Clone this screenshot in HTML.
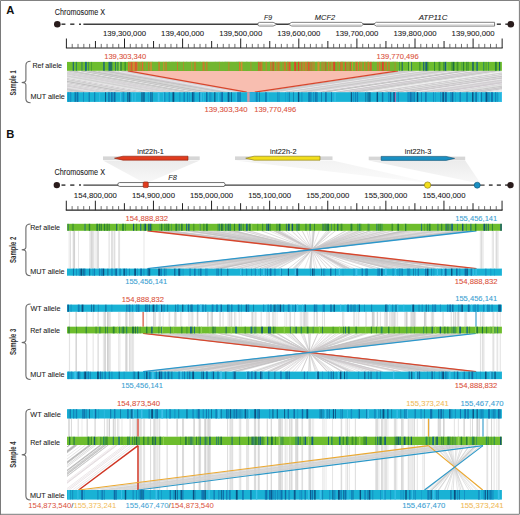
<!DOCTYPE html><html><head><meta charset="utf-8"><style>html,body{margin:0;padding:0;background:#fff}svg{display:block}text{font-family:"Liberation Sans",sans-serif}</style></head><body>
<svg width="520" height="515" viewBox="0 0 520 515">
<rect width="520" height="515" fill="#fff"/>
<text x="6.3" y="13.8" font-size="11.2" fill="#111" text-anchor="start" font-weight="bold" font-style="normal">A</text>
<text x="54.8" y="14.6" font-size="8.3" fill="#222" text-anchor="start" font-weight="normal" font-style="normal" textLength="50.3" lengthAdjust="spacingAndGlyphs" stroke="#222" stroke-width="0.08">Chromosome X</text>
<circle cx="57.3" cy="24.2" r="3.3" fill="#2a1c1c"/>
<line x1="61.50" y1="24.20" x2="65.40" y2="24.20" stroke="#3a3a3a" stroke-width="1.5"/>
<line x1="70.20" y1="24.20" x2="74.40" y2="24.20" stroke="#3a3a3a" stroke-width="1.5"/>
<line x1="79.00" y1="24.20" x2="81.00" y2="24.20" stroke="#3a3a3a" stroke-width="1.5"/>
<line x1="83.40" y1="24.20" x2="494.70" y2="24.20" stroke="#3f3f3f" stroke-width="1.4"/>
<line x1="496.80" y1="24.20" x2="500.90" y2="24.20" stroke="#3a3a3a" stroke-width="1.5"/>
<line x1="505.30" y1="24.20" x2="508.00" y2="24.20" stroke="#3a3a3a" stroke-width="1.5"/>
<circle cx="510.8" cy="24.2" r="3.3" fill="#2a1c1c"/>
<path d="M259.65,22.35 L273.10,22.35 L277.10,24.20 L273.10,26.05 L259.65,26.05 A1.85,1.85 0 0 1 259.65,22.35 Z" fill="#fff" stroke="#555" stroke-width="0.75"/>
<line x1="259.65" y1="24.70" x2="273.10" y2="24.70" stroke="#d0d0d0" stroke-width="0.7"/>
<path d="M288.30,24.20 L291.80,22.35 L361.30,22.35 L363.50,24.20 L361.30,26.05 L291.80,26.05 Z" fill="#fff" stroke="#555" stroke-width="0.75"/>
<line x1="291.80" y1="24.70" x2="361.30" y2="24.70" stroke="#d0d0d0" stroke-width="0.7"/>
<path d="M373.50,24.20 L376.30,22.30 L494.60,22.30 L494.60,26.10 L376.30,26.10 Z" fill="#fff" stroke="#555" stroke-width="0.75"/>
<line x1="376.30" y1="24.70" x2="493.60" y2="24.70" stroke="#d0d0d0" stroke-width="0.7"/>
<text x="268" y="19.7" font-size="7.9" fill="#222" text-anchor="middle" font-weight="normal" font-style="italic" textLength="8.1" lengthAdjust="spacingAndGlyphs" stroke="#222" stroke-width="0.08">F9</text>
<text x="325" y="19.8" font-size="7.9" fill="#222" text-anchor="middle" font-weight="normal" font-style="italic" textLength="20.4" lengthAdjust="spacingAndGlyphs" stroke="#222" stroke-width="0.08">MCF2</text>
<text x="433.1" y="19.7" font-size="7.9" fill="#222" text-anchor="middle" font-weight="normal" font-style="italic" textLength="28.9" lengthAdjust="spacingAndGlyphs" stroke="#222" stroke-width="0.08">ATP11C</text>
<line x1="65.90" y1="48.00" x2="502.65" y2="48.00" stroke="#222" stroke-width="1.2"/>
<line x1="66.40" y1="38.50" x2="66.40" y2="48.00" stroke="#222" stroke-width="1.0"/>
<line x1="72.21" y1="43.90" x2="72.21" y2="48.00" stroke="#555" stroke-width="0.85"/>
<line x1="78.02" y1="43.90" x2="78.02" y2="48.00" stroke="#555" stroke-width="0.85"/>
<line x1="83.83" y1="43.90" x2="83.83" y2="48.00" stroke="#555" stroke-width="0.85"/>
<line x1="89.64" y1="43.90" x2="89.64" y2="48.00" stroke="#555" stroke-width="0.85"/>
<line x1="95.45" y1="41.00" x2="95.45" y2="48.00" stroke="#222" stroke-width="1.0"/>
<line x1="101.26" y1="43.90" x2="101.26" y2="48.00" stroke="#555" stroke-width="0.85"/>
<line x1="107.07" y1="43.90" x2="107.07" y2="48.00" stroke="#555" stroke-width="0.85"/>
<line x1="112.88" y1="43.90" x2="112.88" y2="48.00" stroke="#555" stroke-width="0.85"/>
<line x1="118.69" y1="43.90" x2="118.69" y2="48.00" stroke="#555" stroke-width="0.85"/>
<line x1="124.50" y1="38.50" x2="124.50" y2="48.00" stroke="#222" stroke-width="1.0"/>
<line x1="130.31" y1="43.90" x2="130.31" y2="48.00" stroke="#555" stroke-width="0.85"/>
<line x1="136.12" y1="43.90" x2="136.12" y2="48.00" stroke="#555" stroke-width="0.85"/>
<line x1="141.93" y1="43.90" x2="141.93" y2="48.00" stroke="#555" stroke-width="0.85"/>
<line x1="147.74" y1="43.90" x2="147.74" y2="48.00" stroke="#555" stroke-width="0.85"/>
<line x1="153.55" y1="41.00" x2="153.55" y2="48.00" stroke="#222" stroke-width="1.0"/>
<line x1="159.36" y1="43.90" x2="159.36" y2="48.00" stroke="#555" stroke-width="0.85"/>
<line x1="165.17" y1="43.90" x2="165.17" y2="48.00" stroke="#555" stroke-width="0.85"/>
<line x1="170.98" y1="43.90" x2="170.98" y2="48.00" stroke="#555" stroke-width="0.85"/>
<line x1="176.79" y1="43.90" x2="176.79" y2="48.00" stroke="#555" stroke-width="0.85"/>
<line x1="182.60" y1="38.50" x2="182.60" y2="48.00" stroke="#222" stroke-width="1.0"/>
<line x1="188.41" y1="43.90" x2="188.41" y2="48.00" stroke="#555" stroke-width="0.85"/>
<line x1="194.22" y1="43.90" x2="194.22" y2="48.00" stroke="#555" stroke-width="0.85"/>
<line x1="200.03" y1="43.90" x2="200.03" y2="48.00" stroke="#555" stroke-width="0.85"/>
<line x1="205.84" y1="43.90" x2="205.84" y2="48.00" stroke="#555" stroke-width="0.85"/>
<line x1="211.65" y1="41.00" x2="211.65" y2="48.00" stroke="#222" stroke-width="1.0"/>
<line x1="217.46" y1="43.90" x2="217.46" y2="48.00" stroke="#555" stroke-width="0.85"/>
<line x1="223.27" y1="43.90" x2="223.27" y2="48.00" stroke="#555" stroke-width="0.85"/>
<line x1="229.08" y1="43.90" x2="229.08" y2="48.00" stroke="#555" stroke-width="0.85"/>
<line x1="234.89" y1="43.90" x2="234.89" y2="48.00" stroke="#555" stroke-width="0.85"/>
<line x1="240.70" y1="38.50" x2="240.70" y2="48.00" stroke="#222" stroke-width="1.0"/>
<line x1="246.51" y1="43.90" x2="246.51" y2="48.00" stroke="#555" stroke-width="0.85"/>
<line x1="252.32" y1="43.90" x2="252.32" y2="48.00" stroke="#555" stroke-width="0.85"/>
<line x1="258.13" y1="43.90" x2="258.13" y2="48.00" stroke="#555" stroke-width="0.85"/>
<line x1="263.94" y1="43.90" x2="263.94" y2="48.00" stroke="#555" stroke-width="0.85"/>
<line x1="269.75" y1="41.00" x2="269.75" y2="48.00" stroke="#222" stroke-width="1.0"/>
<line x1="275.56" y1="43.90" x2="275.56" y2="48.00" stroke="#555" stroke-width="0.85"/>
<line x1="281.37" y1="43.90" x2="281.37" y2="48.00" stroke="#555" stroke-width="0.85"/>
<line x1="287.18" y1="43.90" x2="287.18" y2="48.00" stroke="#555" stroke-width="0.85"/>
<line x1="292.99" y1="43.90" x2="292.99" y2="48.00" stroke="#555" stroke-width="0.85"/>
<line x1="298.80" y1="38.50" x2="298.80" y2="48.00" stroke="#222" stroke-width="1.0"/>
<line x1="304.61" y1="43.90" x2="304.61" y2="48.00" stroke="#555" stroke-width="0.85"/>
<line x1="310.42" y1="43.90" x2="310.42" y2="48.00" stroke="#555" stroke-width="0.85"/>
<line x1="316.23" y1="43.90" x2="316.23" y2="48.00" stroke="#555" stroke-width="0.85"/>
<line x1="322.04" y1="43.90" x2="322.04" y2="48.00" stroke="#555" stroke-width="0.85"/>
<line x1="327.85" y1="41.00" x2="327.85" y2="48.00" stroke="#222" stroke-width="1.0"/>
<line x1="333.66" y1="43.90" x2="333.66" y2="48.00" stroke="#555" stroke-width="0.85"/>
<line x1="339.47" y1="43.90" x2="339.47" y2="48.00" stroke="#555" stroke-width="0.85"/>
<line x1="345.28" y1="43.90" x2="345.28" y2="48.00" stroke="#555" stroke-width="0.85"/>
<line x1="351.09" y1="43.90" x2="351.09" y2="48.00" stroke="#555" stroke-width="0.85"/>
<line x1="356.90" y1="38.50" x2="356.90" y2="48.00" stroke="#222" stroke-width="1.0"/>
<line x1="362.71" y1="43.90" x2="362.71" y2="48.00" stroke="#555" stroke-width="0.85"/>
<line x1="368.52" y1="43.90" x2="368.52" y2="48.00" stroke="#555" stroke-width="0.85"/>
<line x1="374.33" y1="43.90" x2="374.33" y2="48.00" stroke="#555" stroke-width="0.85"/>
<line x1="380.14" y1="43.90" x2="380.14" y2="48.00" stroke="#555" stroke-width="0.85"/>
<line x1="385.95" y1="41.00" x2="385.95" y2="48.00" stroke="#222" stroke-width="1.0"/>
<line x1="391.76" y1="43.90" x2="391.76" y2="48.00" stroke="#555" stroke-width="0.85"/>
<line x1="397.57" y1="43.90" x2="397.57" y2="48.00" stroke="#555" stroke-width="0.85"/>
<line x1="403.38" y1="43.90" x2="403.38" y2="48.00" stroke="#555" stroke-width="0.85"/>
<line x1="409.19" y1="43.90" x2="409.19" y2="48.00" stroke="#555" stroke-width="0.85"/>
<line x1="415.00" y1="38.50" x2="415.00" y2="48.00" stroke="#222" stroke-width="1.0"/>
<line x1="420.81" y1="43.90" x2="420.81" y2="48.00" stroke="#555" stroke-width="0.85"/>
<line x1="426.62" y1="43.90" x2="426.62" y2="48.00" stroke="#555" stroke-width="0.85"/>
<line x1="432.43" y1="43.90" x2="432.43" y2="48.00" stroke="#555" stroke-width="0.85"/>
<line x1="438.24" y1="43.90" x2="438.24" y2="48.00" stroke="#555" stroke-width="0.85"/>
<line x1="444.05" y1="41.00" x2="444.05" y2="48.00" stroke="#222" stroke-width="1.0"/>
<line x1="449.86" y1="43.90" x2="449.86" y2="48.00" stroke="#555" stroke-width="0.85"/>
<line x1="455.67" y1="43.90" x2="455.67" y2="48.00" stroke="#555" stroke-width="0.85"/>
<line x1="461.48" y1="43.90" x2="461.48" y2="48.00" stroke="#555" stroke-width="0.85"/>
<line x1="467.29" y1="43.90" x2="467.29" y2="48.00" stroke="#555" stroke-width="0.85"/>
<line x1="473.10" y1="38.50" x2="473.10" y2="48.00" stroke="#222" stroke-width="1.0"/>
<line x1="478.91" y1="43.90" x2="478.91" y2="48.00" stroke="#555" stroke-width="0.85"/>
<line x1="484.72" y1="43.90" x2="484.72" y2="48.00" stroke="#555" stroke-width="0.85"/>
<line x1="490.53" y1="43.90" x2="490.53" y2="48.00" stroke="#555" stroke-width="0.85"/>
<line x1="496.34" y1="43.90" x2="496.34" y2="48.00" stroke="#555" stroke-width="0.85"/>
<line x1="502.15" y1="38.50" x2="502.15" y2="48.00" stroke="#222" stroke-width="1.0"/>
<text x="124.50" y="36.2" font-size="7.8" fill="#222" text-anchor="middle" font-weight="normal" font-style="normal" textLength="43" lengthAdjust="spacingAndGlyphs" stroke="#222" stroke-width="0.08">139,300,000</text>
<text x="182.60" y="36.2" font-size="7.8" fill="#222" text-anchor="middle" font-weight="normal" font-style="normal" textLength="43" lengthAdjust="spacingAndGlyphs" stroke="#222" stroke-width="0.08">139,400,000</text>
<text x="240.70" y="36.2" font-size="7.8" fill="#222" text-anchor="middle" font-weight="normal" font-style="normal" textLength="43" lengthAdjust="spacingAndGlyphs" stroke="#222" stroke-width="0.08">139,500,000</text>
<text x="298.80" y="36.2" font-size="7.8" fill="#222" text-anchor="middle" font-weight="normal" font-style="normal" textLength="43" lengthAdjust="spacingAndGlyphs" stroke="#222" stroke-width="0.08">139,600,000</text>
<text x="356.90" y="36.2" font-size="7.8" fill="#222" text-anchor="middle" font-weight="normal" font-style="normal" textLength="43" lengthAdjust="spacingAndGlyphs" stroke="#222" stroke-width="0.08">139,700,000</text>
<text x="415.00" y="36.2" font-size="7.8" fill="#222" text-anchor="middle" font-weight="normal" font-style="normal" textLength="43" lengthAdjust="spacingAndGlyphs" stroke="#222" stroke-width="0.08">139,800,000</text>
<text x="473.10" y="36.2" font-size="7.8" fill="#222" text-anchor="middle" font-weight="normal" font-style="normal" textLength="43" lengthAdjust="spacingAndGlyphs" stroke="#222" stroke-width="0.08">139,900,000</text>
<text x="125.2" y="58.6" font-size="7.8" fill="#da513b" text-anchor="middle" font-weight="normal" font-style="normal" textLength="42" lengthAdjust="spacingAndGlyphs" stroke="#da513b" stroke-width="0.08">139,303,340</text>
<text x="397.6" y="58.6" font-size="7.8" fill="#da513b" text-anchor="middle" font-weight="normal" font-style="normal" textLength="42" lengthAdjust="spacingAndGlyphs" stroke="#da513b" stroke-width="0.08">139,770,496</text>
<defs><clipPath id="cA1"><polygon points="67.0,70.8 127.8,70.8 246.7,92.2 67.0,92.2"/></clipPath><clipPath id="cA2"><polygon points="398,70.8 501.9,70.8 501.9,92.2 254.8,92.2"/></clipPath></defs>
<polygon points="67.0,70.8 127.8,70.8 246.7,92.2 67.0,92.2" fill="#d4d4d4"/>
<polygon points="398,70.8 501.9,70.8 501.9,92.2 254.8,92.2" fill="#d4d4d4"/>
<g clip-path="url(#cA1)"><line x1="-70.00" y1="70.8" x2="48.90" y2="92.2" stroke="#bdbdbd" stroke-width="0.7"/><line x1="-68.81" y1="70.8" x2="50.09" y2="92.2" stroke="#d0cad0" stroke-width="1.2"/><line x1="-67.21" y1="70.8" x2="51.69" y2="92.2" stroke="#c6c6c6" stroke-width="0.5"/><line x1="-65.15" y1="70.8" x2="53.75" y2="92.2" stroke="#f4f4f4" stroke-width="0.9"/><line x1="-63.67" y1="70.8" x2="55.23" y2="92.2" stroke="#bdbdbd" stroke-width="1.2"/><line x1="-62.21" y1="70.8" x2="56.69" y2="92.2" stroke="#d0cad0" stroke-width="1.2"/><line x1="-60.97" y1="70.8" x2="57.93" y2="92.2" stroke="#e0dce0" stroke-width="0.7"/><line x1="-60.00" y1="70.8" x2="58.90" y2="92.2" stroke="#bdbdbd" stroke-width="1.2"/><line x1="-58.21" y1="70.8" x2="60.69" y2="92.2" stroke="#c9c9c9" stroke-width="0.5"/><line x1="-57.36" y1="70.8" x2="61.54" y2="92.2" stroke="#d0cad0" stroke-width="0.5"/><line x1="-56.28" y1="70.8" x2="62.62" y2="92.2" stroke="#c6c6c6" stroke-width="0.9"/><line x1="-54.92" y1="70.8" x2="63.98" y2="92.2" stroke="#c9c9c9" stroke-width="1.2"/><line x1="-53.18" y1="70.8" x2="65.72" y2="92.2" stroke="#f4f4f4" stroke-width="1.2"/><line x1="-51.41" y1="70.8" x2="67.49" y2="92.2" stroke="#d0cad0" stroke-width="1.2"/><line x1="-49.27" y1="70.8" x2="69.63" y2="92.2" stroke="#bdbdbd" stroke-width="0.9"/><line x1="-48.51" y1="70.8" x2="70.39" y2="92.2" stroke="#bdbdbd" stroke-width="1.2"/><line x1="-47.57" y1="70.8" x2="71.33" y2="92.2" stroke="#c9c9c9" stroke-width="1.2"/><line x1="-45.72" y1="70.8" x2="73.18" y2="92.2" stroke="#e0dce0" stroke-width="0.9"/><line x1="-44.45" y1="70.8" x2="74.45" y2="92.2" stroke="#e0dce0" stroke-width="1.2"/><line x1="-42.93" y1="70.8" x2="75.97" y2="92.2" stroke="#d0cad0" stroke-width="1.2"/><line x1="-41.39" y1="70.8" x2="77.51" y2="92.2" stroke="#ececec" stroke-width="0.5"/><line x1="-39.42" y1="70.8" x2="79.48" y2="92.2" stroke="#d0cad0" stroke-width="0.7"/><line x1="-37.71" y1="70.8" x2="81.19" y2="92.2" stroke="#ececec" stroke-width="0.5"/><line x1="-35.96" y1="70.8" x2="82.94" y2="92.2" stroke="#bdbdbd" stroke-width="0.9"/><line x1="-34.91" y1="70.8" x2="83.99" y2="92.2" stroke="#c6c6c6" stroke-width="1.2"/><line x1="-32.94" y1="70.8" x2="85.96" y2="92.2" stroke="#f4f4f4" stroke-width="0.5"/><line x1="-31.79" y1="70.8" x2="87.11" y2="92.2" stroke="#c6c6c6" stroke-width="1.2"/><line x1="-29.76" y1="70.8" x2="89.14" y2="92.2" stroke="#c6c6c6" stroke-width="0.9"/><line x1="-28.47" y1="70.8" x2="90.43" y2="92.2" stroke="#f4f4f4" stroke-width="0.5"/><line x1="-27.80" y1="70.8" x2="91.10" y2="92.2" stroke="#d0cad0" stroke-width="0.5"/><line x1="-26.60" y1="70.8" x2="92.30" y2="92.2" stroke="#d0cad0" stroke-width="0.9"/><line x1="-25.12" y1="70.8" x2="93.78" y2="92.2" stroke="#ececec" stroke-width="0.7"/><line x1="-22.92" y1="70.8" x2="95.98" y2="92.2" stroke="#ececec" stroke-width="0.5"/><line x1="-22.19" y1="70.8" x2="96.71" y2="92.2" stroke="#d0cad0" stroke-width="0.5"/><line x1="-20.08" y1="70.8" x2="98.82" y2="92.2" stroke="#f4f4f4" stroke-width="0.9"/><line x1="-18.50" y1="70.8" x2="100.40" y2="92.2" stroke="#bdbdbd" stroke-width="0.5"/><line x1="-16.33" y1="70.8" x2="102.57" y2="92.2" stroke="#ececec" stroke-width="0.9"/><line x1="-15.16" y1="70.8" x2="103.74" y2="92.2" stroke="#bdbdbd" stroke-width="1.2"/><line x1="-13.95" y1="70.8" x2="104.95" y2="92.2" stroke="#e0dce0" stroke-width="1.2"/><line x1="-12.32" y1="70.8" x2="106.58" y2="92.2" stroke="#d0cad0" stroke-width="0.5"/><line x1="-10.73" y1="70.8" x2="108.17" y2="92.2" stroke="#e0dce0" stroke-width="0.9"/><line x1="-9.44" y1="70.8" x2="109.46" y2="92.2" stroke="#c9c9c9" stroke-width="0.7"/><line x1="-7.34" y1="70.8" x2="111.56" y2="92.2" stroke="#f4f4f4" stroke-width="0.9"/><line x1="-5.91" y1="70.8" x2="112.99" y2="92.2" stroke="#d0cad0" stroke-width="0.9"/><line x1="-5.29" y1="70.8" x2="113.61" y2="92.2" stroke="#f4f4f4" stroke-width="0.9"/><line x1="-4.66" y1="70.8" x2="114.24" y2="92.2" stroke="#d0cad0" stroke-width="0.7"/><line x1="-3.96" y1="70.8" x2="114.94" y2="92.2" stroke="#c9c9c9" stroke-width="0.9"/><line x1="-2.62" y1="70.8" x2="116.28" y2="92.2" stroke="#c9c9c9" stroke-width="0.9"/><line x1="-1.04" y1="70.8" x2="117.86" y2="92.2" stroke="#ececec" stroke-width="1.2"/><line x1="-0.41" y1="70.8" x2="118.49" y2="92.2" stroke="#c6c6c6" stroke-width="0.5"/><line x1="1.74" y1="70.8" x2="120.64" y2="92.2" stroke="#ececec" stroke-width="1.2"/><line x1="2.81" y1="70.8" x2="121.71" y2="92.2" stroke="#d0cad0" stroke-width="0.9"/><line x1="3.70" y1="70.8" x2="122.60" y2="92.2" stroke="#bdbdbd" stroke-width="0.9"/><line x1="5.51" y1="70.8" x2="124.41" y2="92.2" stroke="#e0dce0" stroke-width="0.9"/><line x1="6.59" y1="70.8" x2="125.49" y2="92.2" stroke="#f4f4f4" stroke-width="0.5"/><line x1="8.43" y1="70.8" x2="127.33" y2="92.2" stroke="#c6c6c6" stroke-width="0.7"/><line x1="9.52" y1="70.8" x2="128.42" y2="92.2" stroke="#bdbdbd" stroke-width="0.9"/><line x1="10.50" y1="70.8" x2="129.40" y2="92.2" stroke="#bdbdbd" stroke-width="1.2"/><line x1="12.14" y1="70.8" x2="131.04" y2="92.2" stroke="#c6c6c6" stroke-width="0.5"/><line x1="13.70" y1="70.8" x2="132.60" y2="92.2" stroke="#ececec" stroke-width="0.7"/><line x1="15.01" y1="70.8" x2="133.91" y2="92.2" stroke="#e0dce0" stroke-width="0.7"/><line x1="15.73" y1="70.8" x2="134.63" y2="92.2" stroke="#c9c9c9" stroke-width="0.7"/><line x1="17.75" y1="70.8" x2="136.65" y2="92.2" stroke="#f4f4f4" stroke-width="0.9"/><line x1="18.71" y1="70.8" x2="137.61" y2="92.2" stroke="#c6c6c6" stroke-width="0.5"/><line x1="20.16" y1="70.8" x2="139.06" y2="92.2" stroke="#bdbdbd" stroke-width="0.9"/><line x1="22.05" y1="70.8" x2="140.95" y2="92.2" stroke="#e0dce0" stroke-width="0.7"/><line x1="24.03" y1="70.8" x2="142.93" y2="92.2" stroke="#ececec" stroke-width="0.5"/><line x1="25.92" y1="70.8" x2="144.82" y2="92.2" stroke="#ececec" stroke-width="0.7"/><line x1="27.19" y1="70.8" x2="146.09" y2="92.2" stroke="#d0cad0" stroke-width="0.9"/><line x1="28.54" y1="70.8" x2="147.44" y2="92.2" stroke="#c9c9c9" stroke-width="1.2"/><line x1="29.60" y1="70.8" x2="148.50" y2="92.2" stroke="#d0cad0" stroke-width="1.2"/><line x1="30.26" y1="70.8" x2="149.16" y2="92.2" stroke="#f4f4f4" stroke-width="0.7"/><line x1="31.18" y1="70.8" x2="150.08" y2="92.2" stroke="#f4f4f4" stroke-width="1.2"/><line x1="32.67" y1="70.8" x2="151.57" y2="92.2" stroke="#c9c9c9" stroke-width="0.7"/><line x1="33.32" y1="70.8" x2="152.22" y2="92.2" stroke="#f4f4f4" stroke-width="0.9"/><line x1="34.79" y1="70.8" x2="153.69" y2="92.2" stroke="#bdbdbd" stroke-width="0.5"/><line x1="36.77" y1="70.8" x2="155.67" y2="92.2" stroke="#ececec" stroke-width="0.5"/><line x1="38.66" y1="70.8" x2="157.56" y2="92.2" stroke="#c6c6c6" stroke-width="0.5"/><line x1="40.71" y1="70.8" x2="159.61" y2="92.2" stroke="#c9c9c9" stroke-width="0.7"/><line x1="42.74" y1="70.8" x2="161.64" y2="92.2" stroke="#f4f4f4" stroke-width="0.5"/><line x1="43.37" y1="70.8" x2="162.27" y2="92.2" stroke="#c9c9c9" stroke-width="0.5"/><line x1="44.24" y1="70.8" x2="163.14" y2="92.2" stroke="#ececec" stroke-width="0.7"/><line x1="45.90" y1="70.8" x2="164.80" y2="92.2" stroke="#d0cad0" stroke-width="1.2"/><line x1="46.59" y1="70.8" x2="165.49" y2="92.2" stroke="#d0cad0" stroke-width="0.5"/><line x1="47.73" y1="70.8" x2="166.63" y2="92.2" stroke="#ececec" stroke-width="1.2"/><line x1="49.63" y1="70.8" x2="168.53" y2="92.2" stroke="#c6c6c6" stroke-width="0.9"/><line x1="50.58" y1="70.8" x2="169.48" y2="92.2" stroke="#c6c6c6" stroke-width="0.5"/><line x1="51.46" y1="70.8" x2="170.36" y2="92.2" stroke="#e0dce0" stroke-width="0.9"/><line x1="53.53" y1="70.8" x2="172.43" y2="92.2" stroke="#e0dce0" stroke-width="0.7"/><line x1="55.45" y1="70.8" x2="174.35" y2="92.2" stroke="#c6c6c6" stroke-width="1.2"/><line x1="57.06" y1="70.8" x2="175.96" y2="92.2" stroke="#e0dce0" stroke-width="1.2"/><line x1="57.74" y1="70.8" x2="176.64" y2="92.2" stroke="#ececec" stroke-width="0.7"/><line x1="58.77" y1="70.8" x2="177.67" y2="92.2" stroke="#d0cad0" stroke-width="1.2"/><line x1="59.45" y1="70.8" x2="178.35" y2="92.2" stroke="#ececec" stroke-width="0.5"/><line x1="61.42" y1="70.8" x2="180.32" y2="92.2" stroke="#e0dce0" stroke-width="0.7"/><line x1="62.09" y1="70.8" x2="180.99" y2="92.2" stroke="#c6c6c6" stroke-width="0.5"/><line x1="63.46" y1="70.8" x2="182.36" y2="92.2" stroke="#c6c6c6" stroke-width="0.5"/><line x1="64.89" y1="70.8" x2="183.79" y2="92.2" stroke="#f4f4f4" stroke-width="0.9"/><line x1="65.74" y1="70.8" x2="184.64" y2="92.2" stroke="#c6c6c6" stroke-width="0.9"/><line x1="66.96" y1="70.8" x2="185.86" y2="92.2" stroke="#f4f4f4" stroke-width="0.9"/><line x1="68.14" y1="70.8" x2="187.04" y2="92.2" stroke="#bdbdbd" stroke-width="0.9"/><line x1="69.42" y1="70.8" x2="188.32" y2="92.2" stroke="#bdbdbd" stroke-width="0.5"/><line x1="71.17" y1="70.8" x2="190.07" y2="92.2" stroke="#f4f4f4" stroke-width="0.5"/><line x1="72.67" y1="70.8" x2="191.57" y2="92.2" stroke="#c6c6c6" stroke-width="0.9"/><line x1="74.01" y1="70.8" x2="192.91" y2="92.2" stroke="#c9c9c9" stroke-width="1.2"/><line x1="75.63" y1="70.8" x2="194.53" y2="92.2" stroke="#c6c6c6" stroke-width="1.2"/><line x1="76.31" y1="70.8" x2="195.21" y2="92.2" stroke="#c9c9c9" stroke-width="1.2"/><line x1="78.13" y1="70.8" x2="197.03" y2="92.2" stroke="#ececec" stroke-width="1.2"/><line x1="80.25" y1="70.8" x2="199.15" y2="92.2" stroke="#f4f4f4" stroke-width="1.2"/><line x1="80.88" y1="70.8" x2="199.78" y2="92.2" stroke="#bdbdbd" stroke-width="0.9"/><line x1="82.59" y1="70.8" x2="201.49" y2="92.2" stroke="#c6c6c6" stroke-width="1.2"/><line x1="83.55" y1="70.8" x2="202.45" y2="92.2" stroke="#bdbdbd" stroke-width="0.5"/><line x1="85.65" y1="70.8" x2="204.55" y2="92.2" stroke="#ececec" stroke-width="0.9"/><line x1="86.44" y1="70.8" x2="205.34" y2="92.2" stroke="#c9c9c9" stroke-width="0.5"/><line x1="88.55" y1="70.8" x2="207.45" y2="92.2" stroke="#c9c9c9" stroke-width="1.2"/><line x1="90.21" y1="70.8" x2="209.11" y2="92.2" stroke="#c9c9c9" stroke-width="0.9"/><line x1="91.72" y1="70.8" x2="210.62" y2="92.2" stroke="#c6c6c6" stroke-width="0.5"/><line x1="93.07" y1="70.8" x2="211.97" y2="92.2" stroke="#bdbdbd" stroke-width="1.2"/><line x1="93.75" y1="70.8" x2="212.65" y2="92.2" stroke="#c6c6c6" stroke-width="0.5"/><line x1="95.40" y1="70.8" x2="214.30" y2="92.2" stroke="#f4f4f4" stroke-width="0.7"/><line x1="97.31" y1="70.8" x2="216.21" y2="92.2" stroke="#ececec" stroke-width="0.5"/><line x1="97.95" y1="70.8" x2="216.85" y2="92.2" stroke="#c6c6c6" stroke-width="1.2"/><line x1="99.89" y1="70.8" x2="218.79" y2="92.2" stroke="#ececec" stroke-width="0.9"/><line x1="101.77" y1="70.8" x2="220.67" y2="92.2" stroke="#c6c6c6" stroke-width="0.7"/><line x1="102.54" y1="70.8" x2="221.44" y2="92.2" stroke="#c9c9c9" stroke-width="0.5"/><line x1="104.63" y1="70.8" x2="223.53" y2="92.2" stroke="#c6c6c6" stroke-width="0.9"/><line x1="106.63" y1="70.8" x2="225.53" y2="92.2" stroke="#bdbdbd" stroke-width="0.5"/><line x1="107.61" y1="70.8" x2="226.51" y2="92.2" stroke="#bdbdbd" stroke-width="0.7"/><line x1="108.94" y1="70.8" x2="227.84" y2="92.2" stroke="#c9c9c9" stroke-width="1.2"/><line x1="109.94" y1="70.8" x2="228.84" y2="92.2" stroke="#d0cad0" stroke-width="1.2"/><line x1="112.05" y1="70.8" x2="230.95" y2="92.2" stroke="#d0cad0" stroke-width="1.2"/><line x1="114.19" y1="70.8" x2="233.09" y2="92.2" stroke="#f4f4f4" stroke-width="0.7"/><line x1="116.35" y1="70.8" x2="235.25" y2="92.2" stroke="#f4f4f4" stroke-width="0.7"/><line x1="117.61" y1="70.8" x2="236.51" y2="92.2" stroke="#d0cad0" stroke-width="1.2"/><line x1="118.46" y1="70.8" x2="237.36" y2="92.2" stroke="#f4f4f4" stroke-width="0.7"/><line x1="119.32" y1="70.8" x2="238.22" y2="92.2" stroke="#f4f4f4" stroke-width="1.2"/><line x1="121.39" y1="70.8" x2="240.29" y2="92.2" stroke="#d0cad0" stroke-width="1.2"/><line x1="122.93" y1="70.8" x2="241.83" y2="92.2" stroke="#e0dce0" stroke-width="0.7"/><line x1="123.75" y1="70.8" x2="242.65" y2="92.2" stroke="#e0dce0" stroke-width="0.7"/><line x1="124.58" y1="70.8" x2="243.48" y2="92.2" stroke="#d0cad0" stroke-width="0.9"/><line x1="126.68" y1="70.8" x2="245.58" y2="92.2" stroke="#e0dce0" stroke-width="0.9"/></g>
<g clip-path="url(#cA2)"><line x1="398.00" y1="70.8" x2="254.80" y2="92.2" stroke="#e0dce0" stroke-width="1.2"/><line x1="399.55" y1="70.8" x2="256.35" y2="92.2" stroke="#d0cad0" stroke-width="0.9"/><line x1="401.58" y1="70.8" x2="258.38" y2="92.2" stroke="#ececec" stroke-width="0.5"/><line x1="402.60" y1="70.8" x2="259.40" y2="92.2" stroke="#e0dce0" stroke-width="1.2"/><line x1="403.53" y1="70.8" x2="260.33" y2="92.2" stroke="#d0cad0" stroke-width="0.9"/><line x1="404.51" y1="70.8" x2="261.31" y2="92.2" stroke="#f4f4f4" stroke-width="0.7"/><line x1="405.78" y1="70.8" x2="262.58" y2="92.2" stroke="#c9c9c9" stroke-width="1.2"/><line x1="407.50" y1="70.8" x2="264.30" y2="92.2" stroke="#bdbdbd" stroke-width="1.2"/><line x1="409.03" y1="70.8" x2="265.83" y2="92.2" stroke="#e0dce0" stroke-width="0.5"/><line x1="410.40" y1="70.8" x2="267.20" y2="92.2" stroke="#c9c9c9" stroke-width="0.5"/><line x1="412.37" y1="70.8" x2="269.17" y2="92.2" stroke="#f4f4f4" stroke-width="0.5"/><line x1="413.72" y1="70.8" x2="270.52" y2="92.2" stroke="#bdbdbd" stroke-width="0.7"/><line x1="415.35" y1="70.8" x2="272.15" y2="92.2" stroke="#e0dce0" stroke-width="0.5"/><line x1="417.49" y1="70.8" x2="274.29" y2="92.2" stroke="#e0dce0" stroke-width="0.9"/><line x1="418.48" y1="70.8" x2="275.28" y2="92.2" stroke="#bdbdbd" stroke-width="0.9"/><line x1="419.30" y1="70.8" x2="276.10" y2="92.2" stroke="#d0cad0" stroke-width="0.5"/><line x1="421.33" y1="70.8" x2="278.13" y2="92.2" stroke="#ececec" stroke-width="0.7"/><line x1="423.32" y1="70.8" x2="280.12" y2="92.2" stroke="#ececec" stroke-width="0.7"/><line x1="424.60" y1="70.8" x2="281.40" y2="92.2" stroke="#c9c9c9" stroke-width="0.5"/><line x1="425.38" y1="70.8" x2="282.18" y2="92.2" stroke="#ececec" stroke-width="0.9"/><line x1="426.04" y1="70.8" x2="282.84" y2="92.2" stroke="#f4f4f4" stroke-width="0.9"/><line x1="426.65" y1="70.8" x2="283.45" y2="92.2" stroke="#ececec" stroke-width="0.9"/><line x1="427.95" y1="70.8" x2="284.75" y2="92.2" stroke="#f4f4f4" stroke-width="0.5"/><line x1="428.89" y1="70.8" x2="285.69" y2="92.2" stroke="#d0cad0" stroke-width="1.2"/><line x1="430.11" y1="70.8" x2="286.91" y2="92.2" stroke="#d0cad0" stroke-width="0.9"/><line x1="430.90" y1="70.8" x2="287.70" y2="92.2" stroke="#ececec" stroke-width="0.5"/><line x1="432.57" y1="70.8" x2="289.37" y2="92.2" stroke="#c6c6c6" stroke-width="1.2"/><line x1="434.59" y1="70.8" x2="291.39" y2="92.2" stroke="#ececec" stroke-width="0.5"/><line x1="436.03" y1="70.8" x2="292.83" y2="92.2" stroke="#c9c9c9" stroke-width="0.9"/><line x1="437.72" y1="70.8" x2="294.52" y2="92.2" stroke="#ececec" stroke-width="1.2"/><line x1="438.79" y1="70.8" x2="295.59" y2="92.2" stroke="#c9c9c9" stroke-width="0.9"/><line x1="439.56" y1="70.8" x2="296.36" y2="92.2" stroke="#ececec" stroke-width="0.5"/><line x1="441.23" y1="70.8" x2="298.03" y2="92.2" stroke="#d0cad0" stroke-width="0.9"/><line x1="441.92" y1="70.8" x2="298.72" y2="92.2" stroke="#ececec" stroke-width="0.7"/><line x1="443.56" y1="70.8" x2="300.36" y2="92.2" stroke="#c9c9c9" stroke-width="0.7"/><line x1="444.44" y1="70.8" x2="301.24" y2="92.2" stroke="#c9c9c9" stroke-width="1.2"/><line x1="445.24" y1="70.8" x2="302.04" y2="92.2" stroke="#d0cad0" stroke-width="0.7"/><line x1="447.31" y1="70.8" x2="304.11" y2="92.2" stroke="#c9c9c9" stroke-width="1.2"/><line x1="448.80" y1="70.8" x2="305.60" y2="92.2" stroke="#c9c9c9" stroke-width="0.7"/><line x1="450.14" y1="70.8" x2="306.94" y2="92.2" stroke="#ececec" stroke-width="0.7"/><line x1="451.86" y1="70.8" x2="308.66" y2="92.2" stroke="#c6c6c6" stroke-width="0.7"/><line x1="453.67" y1="70.8" x2="310.47" y2="92.2" stroke="#d0cad0" stroke-width="1.2"/><line x1="454.85" y1="70.8" x2="311.65" y2="92.2" stroke="#ececec" stroke-width="0.9"/><line x1="456.06" y1="70.8" x2="312.86" y2="92.2" stroke="#e0dce0" stroke-width="0.7"/><line x1="456.73" y1="70.8" x2="313.53" y2="92.2" stroke="#d0cad0" stroke-width="0.9"/><line x1="457.72" y1="70.8" x2="314.52" y2="92.2" stroke="#e0dce0" stroke-width="0.9"/><line x1="459.72" y1="70.8" x2="316.52" y2="92.2" stroke="#f4f4f4" stroke-width="1.2"/><line x1="461.19" y1="70.8" x2="317.99" y2="92.2" stroke="#e0dce0" stroke-width="0.5"/><line x1="462.35" y1="70.8" x2="319.15" y2="92.2" stroke="#e0dce0" stroke-width="0.5"/><line x1="463.20" y1="70.8" x2="320.00" y2="92.2" stroke="#d0cad0" stroke-width="0.5"/><line x1="464.89" y1="70.8" x2="321.69" y2="92.2" stroke="#d0cad0" stroke-width="0.5"/><line x1="465.78" y1="70.8" x2="322.58" y2="92.2" stroke="#bdbdbd" stroke-width="1.2"/><line x1="467.45" y1="70.8" x2="324.25" y2="92.2" stroke="#f4f4f4" stroke-width="0.7"/><line x1="469.00" y1="70.8" x2="325.80" y2="92.2" stroke="#bdbdbd" stroke-width="1.2"/><line x1="470.88" y1="70.8" x2="327.68" y2="92.2" stroke="#d0cad0" stroke-width="0.7"/><line x1="472.39" y1="70.8" x2="329.19" y2="92.2" stroke="#bdbdbd" stroke-width="0.9"/><line x1="473.58" y1="70.8" x2="330.38" y2="92.2" stroke="#ececec" stroke-width="0.5"/><line x1="475.53" y1="70.8" x2="332.33" y2="92.2" stroke="#f4f4f4" stroke-width="1.2"/><line x1="477.65" y1="70.8" x2="334.45" y2="92.2" stroke="#f4f4f4" stroke-width="0.9"/><line x1="479.13" y1="70.8" x2="335.93" y2="92.2" stroke="#d0cad0" stroke-width="0.9"/><line x1="480.74" y1="70.8" x2="337.54" y2="92.2" stroke="#d0cad0" stroke-width="0.9"/><line x1="482.78" y1="70.8" x2="339.58" y2="92.2" stroke="#c9c9c9" stroke-width="1.2"/><line x1="483.43" y1="70.8" x2="340.23" y2="92.2" stroke="#bdbdbd" stroke-width="0.5"/><line x1="484.20" y1="70.8" x2="341.00" y2="92.2" stroke="#e0dce0" stroke-width="0.7"/><line x1="485.58" y1="70.8" x2="342.38" y2="92.2" stroke="#d0cad0" stroke-width="1.2"/><line x1="486.50" y1="70.8" x2="343.30" y2="92.2" stroke="#e0dce0" stroke-width="0.7"/><line x1="487.16" y1="70.8" x2="343.96" y2="92.2" stroke="#d0cad0" stroke-width="1.2"/><line x1="487.94" y1="70.8" x2="344.74" y2="92.2" stroke="#ececec" stroke-width="0.7"/><line x1="488.76" y1="70.8" x2="345.56" y2="92.2" stroke="#e0dce0" stroke-width="0.5"/><line x1="490.35" y1="70.8" x2="347.15" y2="92.2" stroke="#c6c6c6" stroke-width="0.5"/><line x1="491.53" y1="70.8" x2="348.33" y2="92.2" stroke="#bdbdbd" stroke-width="0.5"/><line x1="492.93" y1="70.8" x2="349.73" y2="92.2" stroke="#c6c6c6" stroke-width="0.9"/><line x1="494.05" y1="70.8" x2="350.85" y2="92.2" stroke="#e0dce0" stroke-width="0.9"/><line x1="495.76" y1="70.8" x2="352.56" y2="92.2" stroke="#bdbdbd" stroke-width="0.5"/><line x1="497.73" y1="70.8" x2="354.53" y2="92.2" stroke="#d0cad0" stroke-width="0.5"/><line x1="499.48" y1="70.8" x2="356.28" y2="92.2" stroke="#c9c9c9" stroke-width="0.9"/><line x1="501.67" y1="70.8" x2="358.47" y2="92.2" stroke="#bdbdbd" stroke-width="0.5"/><line x1="503.65" y1="70.8" x2="360.45" y2="92.2" stroke="#f4f4f4" stroke-width="0.7"/><line x1="505.03" y1="70.8" x2="361.83" y2="92.2" stroke="#c6c6c6" stroke-width="0.5"/><line x1="506.28" y1="70.8" x2="363.08" y2="92.2" stroke="#e0dce0" stroke-width="0.7"/><line x1="508.01" y1="70.8" x2="364.81" y2="92.2" stroke="#f4f4f4" stroke-width="1.2"/><line x1="509.37" y1="70.8" x2="366.17" y2="92.2" stroke="#c6c6c6" stroke-width="1.2"/><line x1="510.30" y1="70.8" x2="367.10" y2="92.2" stroke="#f4f4f4" stroke-width="0.9"/><line x1="510.94" y1="70.8" x2="367.74" y2="92.2" stroke="#f4f4f4" stroke-width="1.2"/><line x1="512.24" y1="70.8" x2="369.04" y2="92.2" stroke="#f4f4f4" stroke-width="0.5"/><line x1="513.99" y1="70.8" x2="370.79" y2="92.2" stroke="#ececec" stroke-width="0.9"/><line x1="515.31" y1="70.8" x2="372.11" y2="92.2" stroke="#ececec" stroke-width="1.2"/><line x1="516.26" y1="70.8" x2="373.06" y2="92.2" stroke="#c6c6c6" stroke-width="0.7"/><line x1="517.28" y1="70.8" x2="374.08" y2="92.2" stroke="#ececec" stroke-width="0.7"/><line x1="519.25" y1="70.8" x2="376.05" y2="92.2" stroke="#d0cad0" stroke-width="0.7"/><line x1="520.10" y1="70.8" x2="376.90" y2="92.2" stroke="#c6c6c6" stroke-width="0.7"/><line x1="521.64" y1="70.8" x2="378.44" y2="92.2" stroke="#d0cad0" stroke-width="0.7"/><line x1="523.26" y1="70.8" x2="380.06" y2="92.2" stroke="#bdbdbd" stroke-width="0.5"/><line x1="524.83" y1="70.8" x2="381.63" y2="92.2" stroke="#f4f4f4" stroke-width="1.2"/><line x1="525.73" y1="70.8" x2="382.53" y2="92.2" stroke="#e0dce0" stroke-width="0.5"/><line x1="526.97" y1="70.8" x2="383.77" y2="92.2" stroke="#ececec" stroke-width="1.2"/><line x1="527.62" y1="70.8" x2="384.42" y2="92.2" stroke="#c9c9c9" stroke-width="0.5"/><line x1="528.61" y1="70.8" x2="385.41" y2="92.2" stroke="#c6c6c6" stroke-width="1.2"/><line x1="529.99" y1="70.8" x2="386.79" y2="92.2" stroke="#bdbdbd" stroke-width="0.7"/><line x1="530.75" y1="70.8" x2="387.55" y2="92.2" stroke="#f4f4f4" stroke-width="0.7"/><line x1="531.61" y1="70.8" x2="388.41" y2="92.2" stroke="#d0cad0" stroke-width="0.5"/><line x1="532.76" y1="70.8" x2="389.56" y2="92.2" stroke="#c6c6c6" stroke-width="0.5"/><line x1="534.66" y1="70.8" x2="391.46" y2="92.2" stroke="#ececec" stroke-width="0.9"/><line x1="536.83" y1="70.8" x2="393.63" y2="92.2" stroke="#f4f4f4" stroke-width="0.9"/><line x1="538.21" y1="70.8" x2="395.01" y2="92.2" stroke="#d0cad0" stroke-width="0.9"/><line x1="538.86" y1="70.8" x2="395.66" y2="92.2" stroke="#ececec" stroke-width="0.9"/><line x1="539.96" y1="70.8" x2="396.76" y2="92.2" stroke="#c6c6c6" stroke-width="1.2"/><line x1="542.11" y1="70.8" x2="398.91" y2="92.2" stroke="#d0cad0" stroke-width="0.5"/><line x1="542.88" y1="70.8" x2="399.68" y2="92.2" stroke="#c9c9c9" stroke-width="0.5"/><line x1="543.51" y1="70.8" x2="400.31" y2="92.2" stroke="#d0cad0" stroke-width="0.5"/><line x1="544.88" y1="70.8" x2="401.68" y2="92.2" stroke="#bdbdbd" stroke-width="0.9"/><line x1="545.80" y1="70.8" x2="402.60" y2="92.2" stroke="#e0dce0" stroke-width="1.2"/><line x1="546.95" y1="70.8" x2="403.75" y2="92.2" stroke="#f4f4f4" stroke-width="0.9"/><line x1="549.05" y1="70.8" x2="405.85" y2="92.2" stroke="#c6c6c6" stroke-width="1.2"/><line x1="550.14" y1="70.8" x2="406.94" y2="92.2" stroke="#d0cad0" stroke-width="1.2"/><line x1="550.88" y1="70.8" x2="407.68" y2="92.2" stroke="#ececec" stroke-width="0.7"/><line x1="552.84" y1="70.8" x2="409.64" y2="92.2" stroke="#c6c6c6" stroke-width="1.2"/><line x1="554.32" y1="70.8" x2="411.12" y2="92.2" stroke="#d0cad0" stroke-width="1.2"/><line x1="555.19" y1="70.8" x2="411.99" y2="92.2" stroke="#c9c9c9" stroke-width="1.2"/><line x1="557.13" y1="70.8" x2="413.93" y2="92.2" stroke="#d0cad0" stroke-width="0.9"/><line x1="559.21" y1="70.8" x2="416.01" y2="92.2" stroke="#ececec" stroke-width="1.2"/><line x1="560.51" y1="70.8" x2="417.31" y2="92.2" stroke="#f4f4f4" stroke-width="1.2"/><line x1="561.66" y1="70.8" x2="418.46" y2="92.2" stroke="#e0dce0" stroke-width="0.7"/><line x1="563.07" y1="70.8" x2="419.87" y2="92.2" stroke="#e0dce0" stroke-width="1.2"/><line x1="565.19" y1="70.8" x2="421.99" y2="92.2" stroke="#c6c6c6" stroke-width="0.7"/><line x1="566.07" y1="70.8" x2="422.87" y2="92.2" stroke="#e0dce0" stroke-width="0.5"/><line x1="567.98" y1="70.8" x2="424.78" y2="92.2" stroke="#c6c6c6" stroke-width="0.5"/><line x1="569.10" y1="70.8" x2="425.90" y2="92.2" stroke="#d0cad0" stroke-width="0.5"/><line x1="571.10" y1="70.8" x2="427.90" y2="92.2" stroke="#e0dce0" stroke-width="0.5"/><line x1="572.42" y1="70.8" x2="429.22" y2="92.2" stroke="#e0dce0" stroke-width="0.9"/><line x1="574.62" y1="70.8" x2="431.42" y2="92.2" stroke="#c6c6c6" stroke-width="0.5"/><line x1="575.53" y1="70.8" x2="432.33" y2="92.2" stroke="#e0dce0" stroke-width="0.5"/><line x1="576.67" y1="70.8" x2="433.47" y2="92.2" stroke="#ececec" stroke-width="0.5"/><line x1="577.99" y1="70.8" x2="434.79" y2="92.2" stroke="#e0dce0" stroke-width="0.7"/><line x1="578.98" y1="70.8" x2="435.78" y2="92.2" stroke="#c6c6c6" stroke-width="0.7"/><line x1="581.07" y1="70.8" x2="437.87" y2="92.2" stroke="#bdbdbd" stroke-width="0.5"/><line x1="581.85" y1="70.8" x2="438.65" y2="92.2" stroke="#ececec" stroke-width="0.7"/><line x1="582.80" y1="70.8" x2="439.60" y2="92.2" stroke="#d0cad0" stroke-width="1.2"/><line x1="584.21" y1="70.8" x2="441.01" y2="92.2" stroke="#d0cad0" stroke-width="0.9"/><line x1="586.07" y1="70.8" x2="442.87" y2="92.2" stroke="#d0cad0" stroke-width="0.7"/><line x1="587.42" y1="70.8" x2="444.22" y2="92.2" stroke="#d0cad0" stroke-width="0.5"/><line x1="588.09" y1="70.8" x2="444.89" y2="92.2" stroke="#e0dce0" stroke-width="0.5"/><line x1="589.65" y1="70.8" x2="446.45" y2="92.2" stroke="#e0dce0" stroke-width="0.5"/><line x1="590.56" y1="70.8" x2="447.36" y2="92.2" stroke="#ececec" stroke-width="0.5"/><line x1="591.34" y1="70.8" x2="448.14" y2="92.2" stroke="#f4f4f4" stroke-width="0.7"/><line x1="593.26" y1="70.8" x2="450.06" y2="92.2" stroke="#c9c9c9" stroke-width="0.5"/><line x1="594.89" y1="70.8" x2="451.69" y2="92.2" stroke="#e0dce0" stroke-width="0.9"/><line x1="596.13" y1="70.8" x2="452.93" y2="92.2" stroke="#c9c9c9" stroke-width="1.2"/><line x1="597.98" y1="70.8" x2="454.78" y2="92.2" stroke="#ececec" stroke-width="1.2"/><line x1="599.88" y1="70.8" x2="456.68" y2="92.2" stroke="#bdbdbd" stroke-width="0.5"/><line x1="601.34" y1="70.8" x2="458.14" y2="92.2" stroke="#f4f4f4" stroke-width="0.9"/><line x1="603.11" y1="70.8" x2="459.91" y2="92.2" stroke="#c6c6c6" stroke-width="0.9"/><line x1="604.26" y1="70.8" x2="461.06" y2="92.2" stroke="#f4f4f4" stroke-width="0.5"/><line x1="606.34" y1="70.8" x2="463.14" y2="92.2" stroke="#c9c9c9" stroke-width="0.9"/><line x1="607.62" y1="70.8" x2="464.42" y2="92.2" stroke="#c9c9c9" stroke-width="0.5"/><line x1="609.18" y1="70.8" x2="465.98" y2="92.2" stroke="#bdbdbd" stroke-width="0.7"/><line x1="610.35" y1="70.8" x2="467.15" y2="92.2" stroke="#c6c6c6" stroke-width="0.9"/><line x1="611.32" y1="70.8" x2="468.12" y2="92.2" stroke="#f4f4f4" stroke-width="0.5"/><line x1="612.32" y1="70.8" x2="469.12" y2="92.2" stroke="#ececec" stroke-width="0.7"/><line x1="614.12" y1="70.8" x2="470.92" y2="92.2" stroke="#bdbdbd" stroke-width="0.7"/><line x1="616.12" y1="70.8" x2="472.92" y2="92.2" stroke="#c9c9c9" stroke-width="1.2"/><line x1="618.21" y1="70.8" x2="475.01" y2="92.2" stroke="#d0cad0" stroke-width="1.2"/><line x1="619.40" y1="70.8" x2="476.20" y2="92.2" stroke="#bdbdbd" stroke-width="1.2"/><line x1="620.78" y1="70.8" x2="477.58" y2="92.2" stroke="#e0dce0" stroke-width="1.2"/><line x1="622.13" y1="70.8" x2="478.93" y2="92.2" stroke="#d0cad0" stroke-width="0.5"/><line x1="623.20" y1="70.8" x2="480.00" y2="92.2" stroke="#c6c6c6" stroke-width="0.7"/><line x1="625.22" y1="70.8" x2="482.02" y2="92.2" stroke="#c6c6c6" stroke-width="0.7"/><line x1="626.29" y1="70.8" x2="483.09" y2="92.2" stroke="#d0cad0" stroke-width="0.5"/><line x1="627.92" y1="70.8" x2="484.72" y2="92.2" stroke="#c6c6c6" stroke-width="0.7"/><line x1="629.71" y1="70.8" x2="486.51" y2="92.2" stroke="#ececec" stroke-width="1.2"/><line x1="631.00" y1="70.8" x2="487.80" y2="92.2" stroke="#ececec" stroke-width="1.2"/><line x1="632.79" y1="70.8" x2="489.59" y2="92.2" stroke="#c9c9c9" stroke-width="0.9"/><line x1="633.62" y1="70.8" x2="490.42" y2="92.2" stroke="#f4f4f4" stroke-width="0.9"/><line x1="635.67" y1="70.8" x2="492.47" y2="92.2" stroke="#f4f4f4" stroke-width="0.5"/><line x1="636.60" y1="70.8" x2="493.40" y2="92.2" stroke="#f4f4f4" stroke-width="0.9"/><line x1="638.76" y1="70.8" x2="495.56" y2="92.2" stroke="#e0dce0" stroke-width="0.9"/><line x1="640.87" y1="70.8" x2="497.67" y2="92.2" stroke="#f4f4f4" stroke-width="0.9"/><line x1="642.97" y1="70.8" x2="499.77" y2="92.2" stroke="#f4f4f4" stroke-width="0.7"/><line x1="644.15" y1="70.8" x2="500.95" y2="92.2" stroke="#e0dce0" stroke-width="0.9"/><line x1="645.21" y1="70.8" x2="502.01" y2="92.2" stroke="#f4f4f4" stroke-width="0.9"/><line x1="647.22" y1="70.8" x2="504.02" y2="92.2" stroke="#e0dce0" stroke-width="0.9"/><line x1="649.02" y1="70.8" x2="505.82" y2="92.2" stroke="#e0dce0" stroke-width="0.5"/><line x1="649.64" y1="70.8" x2="506.44" y2="92.2" stroke="#c9c9c9" stroke-width="0.7"/></g>
<polygon points="127.8,70.8 398,70.8 254.8,92.2 246.7,92.2" fill="#f8beb0"/>
<line x1="127.80" y1="70.80" x2="246.70" y2="92.20" stroke="#d8462c" stroke-width="1.35"/>
<line x1="398.00" y1="70.80" x2="254.80" y2="92.20" stroke="#d8462c" stroke-width="1.35"/>
<rect x="67.00" y="61.90" width="434.90" height="8.90" fill="#6dbd2d"/>
<rect x="72.74" y="61.90" width="1.10" height="8.90" fill="#17607a"/><rect x="75.86" y="61.90" width="1.10" height="8.90" fill="#2a8a5a"/><rect x="81.62" y="61.90" width="0.70" height="8.90" fill="#17607a"/><rect x="85.04" y="61.90" width="1.80" height="8.90" fill="#1a6a80"/><rect x="88.53" y="61.90" width="0.50" height="8.90" fill="#1a6a80"/><rect x="91.24" y="61.90" width="0.50" height="8.90" fill="#2a8236"/><rect x="103.25" y="61.90" width="1.40" height="8.90" fill="#17607a"/><rect x="108.48" y="61.90" width="1.80" height="8.90" fill="#1a6a80"/><rect x="110.33" y="61.90" width="1.40" height="8.90" fill="#12586e"/><rect x="111.90" y="61.90" width="0.50" height="8.90" fill="#2a8a5a"/><rect x="115.02" y="61.90" width="0.70" height="8.90" fill="#17607a"/><rect x="117.38" y="61.90" width="0.90" height="8.90" fill="#2a8a5a"/><rect x="119.04" y="61.90" width="1.40" height="8.90" fill="#8fd150"/><rect x="120.45" y="61.90" width="1.10" height="8.90" fill="#1e7040"/><rect x="124.59" y="61.90" width="1.10" height="8.90" fill="#2c8534"/><rect x="141.25" y="61.90" width="1.40" height="8.90" fill="#1e7040"/><rect x="143.49" y="61.90" width="1.80" height="8.90" fill="#2a8a5a"/><rect x="146.26" y="61.90" width="1.40" height="8.90" fill="#1e7040"/><rect x="151.82" y="61.90" width="1.40" height="8.90" fill="#2c8534"/><rect x="158.57" y="61.90" width="0.50" height="8.90" fill="#2c8534"/><rect x="168.13" y="61.90" width="0.50" height="8.90" fill="#2a8236"/><rect x="169.31" y="61.90" width="0.70" height="8.90" fill="#2a8236"/><rect x="171.35" y="61.90" width="1.10" height="8.90" fill="#2c8534"/><rect x="172.67" y="61.90" width="1.10" height="8.90" fill="#2a8a5a"/><rect x="174.67" y="61.90" width="1.80" height="8.90" fill="#1e7040"/><rect x="177.62" y="61.90" width="0.90" height="8.90" fill="#2c8534"/><rect x="178.94" y="61.90" width="0.50" height="8.90" fill="#1e7040"/><rect x="179.61" y="61.90" width="0.50" height="8.90" fill="#17607a"/><rect x="183.39" y="61.90" width="0.70" height="8.90" fill="#2a8a5a"/><rect x="186.12" y="61.90" width="1.10" height="8.90" fill="#1a6a80"/><rect x="190.17" y="61.90" width="1.10" height="8.90" fill="#1e7040"/><rect x="192.83" y="61.90" width="1.10" height="8.90" fill="#2a8a5a"/><rect x="194.82" y="61.90" width="0.50" height="8.90" fill="#8fd150"/><rect x="196.00" y="61.90" width="0.50" height="8.90" fill="#2c8534"/><rect x="199.43" y="61.90" width="1.40" height="8.90" fill="#1e7040"/><rect x="213.80" y="61.90" width="0.50" height="8.90" fill="#2a8a5a"/><rect x="215.15" y="61.90" width="1.10" height="8.90" fill="#3f922e"/><rect x="217.65" y="61.90" width="0.90" height="8.90" fill="#1e7040"/><rect x="219.22" y="61.90" width="0.50" height="8.90" fill="#2a8a5a"/><rect x="222.34" y="61.90" width="0.50" height="8.90" fill="#3f922e"/><rect x="224.57" y="61.90" width="1.40" height="8.90" fill="#17607a"/><rect x="226.38" y="61.90" width="1.40" height="8.90" fill="#2c8534"/><rect x="230.60" y="61.90" width="0.70" height="8.90" fill="#8fd150"/><rect x="236.17" y="61.90" width="0.70" height="8.90" fill="#2a8a5a"/><rect x="237.47" y="61.90" width="1.80" height="8.90" fill="#12586e"/><rect x="242.59" y="61.90" width="0.70" height="8.90" fill="#2c8534"/><rect x="245.93" y="61.90" width="1.10" height="8.90" fill="#2c8534"/><rect x="247.35" y="61.90" width="0.50" height="8.90" fill="#2a8236"/><rect x="257.24" y="61.90" width="1.40" height="8.90" fill="#2a8a5a"/><rect x="262.12" y="61.90" width="1.80" height="8.90" fill="#8fd150"/><rect x="268.88" y="61.90" width="1.10" height="8.90" fill="#17607a"/><rect x="272.08" y="61.90" width="0.90" height="8.90" fill="#1e7040"/><rect x="273.72" y="61.90" width="0.70" height="8.90" fill="#12586e"/><rect x="279.89" y="61.90" width="1.80" height="8.90" fill="#1e7040"/><rect x="282.37" y="61.90" width="0.90" height="8.90" fill="#2a8a5a"/><rect x="283.32" y="61.90" width="1.80" height="8.90" fill="#8fd150"/><rect x="286.80" y="61.90" width="1.10" height="8.90" fill="#2a8236"/><rect x="288.46" y="61.90" width="0.50" height="8.90" fill="#3f922e"/><rect x="291.38" y="61.90" width="1.40" height="8.90" fill="#1a6a80"/><rect x="294.07" y="61.90" width="0.50" height="8.90" fill="#17607a"/><rect x="297.62" y="61.90" width="0.90" height="8.90" fill="#12586e"/><rect x="306.91" y="61.90" width="1.40" height="8.90" fill="#2a8236"/><rect x="310.15" y="61.90" width="0.50" height="8.90" fill="#3f922e"/><rect x="311.72" y="61.90" width="1.80" height="8.90" fill="#2a8236"/><rect x="316.12" y="61.90" width="0.50" height="8.90" fill="#1e7040"/><rect x="316.82" y="61.90" width="1.10" height="8.90" fill="#8fd150"/><rect x="318.34" y="61.90" width="0.90" height="8.90" fill="#1e7040"/><rect x="320.97" y="61.90" width="0.50" height="8.90" fill="#3f922e"/><rect x="321.60" y="61.90" width="1.80" height="8.90" fill="#1a6a80"/><rect x="324.64" y="61.90" width="0.90" height="8.90" fill="#17607a"/><rect x="331.39" y="61.90" width="0.50" height="8.90" fill="#2c8534"/><rect x="337.58" y="61.90" width="0.50" height="8.90" fill="#2a8236"/><rect x="341.18" y="61.90" width="1.40" height="8.90" fill="#2c8534"/><rect x="342.62" y="61.90" width="1.40" height="8.90" fill="#1e7040"/><rect x="344.29" y="61.90" width="0.50" height="8.90" fill="#1e7040"/><rect x="350.84" y="61.90" width="0.90" height="8.90" fill="#3f922e"/><rect x="359.52" y="61.90" width="1.10" height="8.90" fill="#17607a"/><rect x="362.39" y="61.90" width="1.10" height="8.90" fill="#12586e"/><rect x="365.58" y="61.90" width="0.50" height="8.90" fill="#12586e"/><rect x="367.14" y="61.90" width="0.50" height="8.90" fill="#1e7040"/><rect x="367.71" y="61.90" width="1.10" height="8.90" fill="#1e7040"/><rect x="373.13" y="61.90" width="1.10" height="8.90" fill="#17607a"/><rect x="380.71" y="61.90" width="0.90" height="8.90" fill="#3f922e"/><rect x="382.05" y="61.90" width="0.90" height="8.90" fill="#2a8a5a"/><rect x="383.48" y="61.90" width="1.40" height="8.90" fill="#3f922e"/><rect x="392.49" y="61.90" width="1.80" height="8.90" fill="#17607a"/><rect x="395.42" y="61.90" width="0.70" height="8.90" fill="#8fd150"/><rect x="399.00" y="61.90" width="0.70" height="8.90" fill="#2a8a5a"/><rect x="401.08" y="61.90" width="0.70" height="8.90" fill="#3f922e"/><rect x="402.20" y="61.90" width="0.70" height="8.90" fill="#17607a"/><rect x="408.09" y="61.90" width="0.90" height="8.90" fill="#2a8236"/><rect x="409.18" y="61.90" width="1.80" height="8.90" fill="#8fd150"/><rect x="411.32" y="61.90" width="0.70" height="8.90" fill="#17607a"/><rect x="419.45" y="61.90" width="0.90" height="8.90" fill="#2c8534"/><rect x="423.15" y="61.90" width="1.10" height="8.90" fill="#17607a"/><rect x="425.34" y="61.90" width="1.80" height="8.90" fill="#17607a"/><rect x="427.36" y="61.90" width="0.90" height="8.90" fill="#2a8236"/><rect x="434.15" y="61.90" width="0.90" height="8.90" fill="#2a8236"/><rect x="438.57" y="61.90" width="1.80" height="8.90" fill="#3f922e"/><rect x="443.37" y="61.90" width="0.90" height="8.90" fill="#2a8236"/><rect x="444.68" y="61.90" width="1.80" height="8.90" fill="#17607a"/><rect x="446.56" y="61.90" width="0.70" height="8.90" fill="#8fd150"/><rect x="451.57" y="61.90" width="0.70" height="8.90" fill="#2a8236"/><rect x="452.62" y="61.90" width="1.80" height="8.90" fill="#1e7040"/><rect x="456.61" y="61.90" width="1.80" height="8.90" fill="#3f922e"/><rect x="461.71" y="61.90" width="0.50" height="8.90" fill="#2a8a5a"/><rect x="463.05" y="61.90" width="1.10" height="8.90" fill="#2a8236"/><rect x="466.34" y="61.90" width="1.10" height="8.90" fill="#2a8236"/><rect x="468.17" y="61.90" width="0.70" height="8.90" fill="#3f922e"/><rect x="472.29" y="61.90" width="1.40" height="8.90" fill="#12586e"/><rect x="476.41" y="61.90" width="1.40" height="8.90" fill="#1a6a80"/><rect x="483.21" y="61.90" width="1.10" height="8.90" fill="#2a8a5a"/><rect x="485.82" y="61.90" width="0.50" height="8.90" fill="#2c8534"/><rect x="488.03" y="61.90" width="0.70" height="8.90" fill="#2a8a5a"/><rect x="494.97" y="61.90" width="1.80" height="8.90" fill="#2a8236"/><rect x="499.05" y="61.90" width="1.10" height="8.90" fill="#12586e"/>
<rect x="127.80" y="61.90" width="270.20" height="8.90" fill="#72b630"/>
<rect x="127.80" y="61.90" width="18.20" height="8.90" fill="#72b630"/>
<rect x="128.04" y="61.90" width="1.50" height="8.90" fill="#d4762c"/><rect x="129.90" y="61.90" width="0.90" height="8.90" fill="#d4762c"/><rect x="131.04" y="61.90" width="1.50" height="8.90" fill="#e05530"/><rect x="132.73" y="61.90" width="2.00" height="8.90" fill="#d88a30"/><rect x="134.85" y="61.90" width="2.00" height="8.90" fill="#e05530"/><rect x="136.98" y="61.90" width="1.20" height="8.90" fill="#b09030"/><rect x="138.82" y="61.90" width="0.60" height="8.90" fill="#b09030"/><rect x="139.96" y="61.90" width="0.60" height="8.90" fill="#d4762c"/><rect x="141.76" y="61.90" width="1.50" height="8.90" fill="#e06a2c"/><rect x="145.15" y="61.90" width="0.60" height="8.90" fill="#b09030"/>
<rect x="146.00" y="61.90" width="54.00" height="8.90" fill="#72b630"/>
<rect x="148.17" y="61.90" width="1.20" height="8.90" fill="#c87a2a"/><rect x="150.25" y="61.90" width="1.50" height="8.90" fill="#d88a30"/><rect x="158.35" y="61.90" width="1.50" height="8.90" fill="#c87a2a"/><rect x="163.31" y="61.90" width="0.90" height="8.90" fill="#d88a30"/><rect x="165.44" y="61.90" width="1.20" height="8.90" fill="#d4762c"/><rect x="177.03" y="61.90" width="0.90" height="8.90" fill="#c87a2a"/><rect x="183.27" y="61.90" width="0.60" height="8.90" fill="#c87a2a"/><rect x="191.55" y="61.90" width="0.60" height="8.90" fill="#d88a30"/><rect x="194.24" y="61.90" width="1.50" height="8.90" fill="#c87a2a"/>
<rect x="200.00" y="61.90" width="58.00" height="8.90" fill="#72b630"/>
<rect x="202.57" y="61.90" width="2.00" height="8.90" fill="#c87a2a"/><rect x="206.21" y="61.90" width="1.20" height="8.90" fill="#c87a2a"/><rect x="219.38" y="61.90" width="0.60" height="8.90" fill="#b09030"/><rect x="228.09" y="61.90" width="1.50" height="8.90" fill="#a8922e"/><rect x="239.02" y="61.90" width="1.20" height="8.90" fill="#d4762c"/><rect x="240.93" y="61.90" width="1.50" height="8.90" fill="#d88a30"/><rect x="250.46" y="61.90" width="0.90" height="8.90" fill="#b09030"/>
<rect x="258.00" y="61.90" width="94.00" height="8.90" fill="#72b630"/>
<rect x="258.18" y="61.90" width="0.90" height="8.90" fill="#e05530"/><rect x="259.47" y="61.90" width="1.20" height="8.90" fill="#e05530"/><rect x="260.96" y="61.90" width="1.50" height="8.90" fill="#c87a2a"/><rect x="265.53" y="61.90" width="1.50" height="8.90" fill="#b09030"/><rect x="270.27" y="61.90" width="1.20" height="8.90" fill="#e06a2c"/><rect x="272.52" y="61.90" width="1.20" height="8.90" fill="#e04428"/><rect x="273.98" y="61.90" width="0.90" height="8.90" fill="#b09030"/><rect x="276.09" y="61.90" width="1.20" height="8.90" fill="#b09030"/><rect x="277.63" y="61.90" width="1.50" height="8.90" fill="#c87a2a"/><rect x="279.14" y="61.90" width="1.20" height="8.90" fill="#a8922e"/><rect x="282.43" y="61.90" width="0.90" height="8.90" fill="#a8922e"/><rect x="283.93" y="61.90" width="2.00" height="8.90" fill="#c87a2a"/><rect x="287.22" y="61.90" width="1.20" height="8.90" fill="#c87a2a"/><rect x="288.59" y="61.90" width="2.00" height="8.90" fill="#e05530"/><rect x="294.21" y="61.90" width="2.00" height="8.90" fill="#e04428"/><rect x="297.84" y="61.90" width="1.50" height="8.90" fill="#e04428"/><rect x="299.66" y="61.90" width="0.90" height="8.90" fill="#a8922e"/><rect x="301.30" y="61.90" width="0.90" height="8.90" fill="#e05530"/><rect x="302.35" y="61.90" width="2.00" height="8.90" fill="#b09030"/><rect x="304.77" y="61.90" width="2.00" height="8.90" fill="#d4762c"/><rect x="307.67" y="61.90" width="2.00" height="8.90" fill="#e05530"/><rect x="310.59" y="61.90" width="0.90" height="8.90" fill="#e05530"/><rect x="311.89" y="61.90" width="0.60" height="8.90" fill="#e06a2c"/><rect x="313.10" y="61.90" width="2.00" height="8.90" fill="#a8922e"/><rect x="317.51" y="61.90" width="2.00" height="8.90" fill="#d88a30"/><rect x="321.60" y="61.90" width="0.90" height="8.90" fill="#e06a2c"/><rect x="323.23" y="61.90" width="1.50" height="8.90" fill="#a8922e"/><rect x="325.41" y="61.90" width="0.90" height="8.90" fill="#e04428"/><rect x="328.05" y="61.90" width="1.20" height="8.90" fill="#d4762c"/><rect x="329.83" y="61.90" width="0.90" height="8.90" fill="#c87a2a"/><rect x="331.53" y="61.90" width="0.90" height="8.90" fill="#d88a30"/><rect x="333.21" y="61.90" width="2.00" height="8.90" fill="#e04428"/><rect x="337.10" y="61.90" width="2.00" height="8.90" fill="#a8922e"/><rect x="340.12" y="61.90" width="0.60" height="8.90" fill="#e05530"/><rect x="340.87" y="61.90" width="2.00" height="8.90" fill="#c87a2a"/><rect x="344.79" y="61.90" width="1.50" height="8.90" fill="#e05530"/><rect x="347.44" y="61.90" width="2.00" height="8.90" fill="#a8922e"/><rect x="349.80" y="61.90" width="0.90" height="8.90" fill="#e04428"/>
<rect x="352.00" y="61.90" width="20.00" height="8.90" fill="#72b630"/>
<rect x="352.01" y="61.90" width="0.90" height="8.90" fill="#d88a30"/><rect x="355.00" y="61.90" width="0.90" height="8.90" fill="#b09030"/><rect x="355.95" y="61.90" width="0.60" height="8.90" fill="#e04428"/><rect x="356.79" y="61.90" width="1.20" height="8.90" fill="#d4762c"/><rect x="359.04" y="61.90" width="1.50" height="8.90" fill="#c87a2a"/><rect x="360.80" y="61.90" width="1.50" height="8.90" fill="#b09030"/><rect x="364.08" y="61.90" width="0.90" height="8.90" fill="#d4762c"/><rect x="365.30" y="61.90" width="0.90" height="8.90" fill="#a8922e"/><rect x="366.93" y="61.90" width="0.90" height="8.90" fill="#a8922e"/><rect x="367.90" y="61.90" width="1.50" height="8.90" fill="#d4762c"/><rect x="370.13" y="61.90" width="1.50" height="8.90" fill="#e05530"/>
<rect x="372.00" y="61.90" width="26.00" height="8.90" fill="#72b630"/>
<rect x="377.27" y="61.90" width="0.60" height="8.90" fill="#e06a2c"/><rect x="378.63" y="61.90" width="2.00" height="8.90" fill="#d4762c"/><rect x="381.80" y="61.90" width="2.00" height="8.90" fill="#e04428"/><rect x="384.84" y="61.90" width="2.00" height="8.90" fill="#c87a2a"/><rect x="388.20" y="61.90" width="1.50" height="8.90" fill="#c87a2a"/><rect x="394.79" y="61.90" width="0.60" height="8.90" fill="#c87a2a"/>
<rect x="67.00" y="92.20" width="434.90" height="9.70" fill="#19b2d5"/>
<rect x="67.92" y="92.20" width="0.90" height="9.70" fill="#1590c4"/><rect x="69.52" y="92.20" width="1.80" height="9.70" fill="#1590c4"/><rect x="74.05" y="92.20" width="0.70" height="9.70" fill="#1590c4"/><rect x="74.94" y="92.20" width="0.70" height="9.70" fill="#0c5a8e"/><rect x="76.57" y="92.20" width="1.80" height="9.70" fill="#0e72ae"/><rect x="83.22" y="92.20" width="0.70" height="9.70" fill="#1280b8"/><rect x="88.72" y="92.20" width="0.90" height="9.70" fill="#0f6aa4"/><rect x="94.29" y="92.20" width="0.90" height="9.70" fill="#0e72ae"/><rect x="99.40" y="92.20" width="0.70" height="9.70" fill="#3cc0ea"/><rect x="105.15" y="92.20" width="0.90" height="9.70" fill="#0b4f80"/><rect x="108.27" y="92.20" width="1.40" height="9.70" fill="#0e72ae"/><rect x="110.88" y="92.20" width="1.80" height="9.70" fill="#0e72ae"/><rect x="113.68" y="92.20" width="1.80" height="9.70" fill="#0f6aa4"/><rect x="120.05" y="92.20" width="0.90" height="9.70" fill="#3cc0ea"/><rect x="122.53" y="92.20" width="1.80" height="9.70" fill="#1590c4"/><rect x="127.35" y="92.20" width="1.10" height="9.70" fill="#0b4f80"/><rect x="128.96" y="92.20" width="1.40" height="9.70" fill="#0c5a8e"/><rect x="132.34" y="92.20" width="0.70" height="9.70" fill="#3cc0ea"/><rect x="134.68" y="92.20" width="0.90" height="9.70" fill="#3cc0ea"/><rect x="141.44" y="92.20" width="1.10" height="9.70" fill="#0b4f80"/><rect x="143.26" y="92.20" width="1.40" height="9.70" fill="#0c5a8e"/><rect x="147.88" y="92.20" width="0.70" height="9.70" fill="#1590c4"/><rect x="150.09" y="92.20" width="0.50" height="9.70" fill="#0b4f80"/><rect x="150.59" y="92.20" width="1.10" height="9.70" fill="#0e72ae"/><rect x="152.37" y="92.20" width="0.50" height="9.70" fill="#0b4f80"/><rect x="157.73" y="92.20" width="1.80" height="9.70" fill="#3cc0ea"/><rect x="163.05" y="92.20" width="0.70" height="9.70" fill="#3cc0ea"/><rect x="164.36" y="92.20" width="0.90" height="9.70" fill="#1280b8"/><rect x="168.62" y="92.20" width="1.40" height="9.70" fill="#1590c4"/><rect x="172.48" y="92.20" width="1.80" height="9.70" fill="#0b4f80"/><rect x="179.56" y="92.20" width="0.70" height="9.70" fill="#1280b8"/><rect x="183.48" y="92.20" width="1.40" height="9.70" fill="#1280b8"/><rect x="187.22" y="92.20" width="0.90" height="9.70" fill="#1280b8"/><rect x="189.05" y="92.20" width="0.70" height="9.70" fill="#1590c4"/><rect x="191.91" y="92.20" width="1.80" height="9.70" fill="#0c5a8e"/><rect x="193.90" y="92.20" width="0.70" height="9.70" fill="#1280b8"/><rect x="199.25" y="92.20" width="1.10" height="9.70" fill="#0f6aa4"/><rect x="200.36" y="92.20" width="1.40" height="9.70" fill="#3cc0ea"/><rect x="203.16" y="92.20" width="0.50" height="9.70" fill="#3cc0ea"/><rect x="206.09" y="92.20" width="1.40" height="9.70" fill="#0f6aa4"/><rect x="209.45" y="92.20" width="1.10" height="9.70" fill="#1280b8"/><rect x="211.58" y="92.20" width="0.50" height="9.70" fill="#1590c4"/><rect x="214.27" y="92.20" width="1.10" height="9.70" fill="#0b4f80"/><rect x="218.32" y="92.20" width="0.70" height="9.70" fill="#3cc0ea"/><rect x="220.28" y="92.20" width="0.50" height="9.70" fill="#1590c4"/><rect x="221.20" y="92.20" width="1.80" height="9.70" fill="#0e72ae"/><rect x="227.64" y="92.20" width="1.80" height="9.70" fill="#0c5a8e"/><rect x="230.91" y="92.20" width="0.90" height="9.70" fill="#0c5a8e"/><rect x="235.77" y="92.20" width="0.90" height="9.70" fill="#3cc0ea"/><rect x="237.27" y="92.20" width="1.10" height="9.70" fill="#1280b8"/><rect x="238.48" y="92.20" width="1.10" height="9.70" fill="#0e72ae"/><rect x="239.82" y="92.20" width="1.10" height="9.70" fill="#1280b8"/><rect x="247.70" y="92.20" width="1.40" height="9.70" fill="#3cc0ea"/><rect x="250.69" y="92.20" width="0.70" height="9.70" fill="#0e72ae"/><rect x="251.56" y="92.20" width="0.90" height="9.70" fill="#0e72ae"/><rect x="252.89" y="92.20" width="0.70" height="9.70" fill="#1280b8"/><rect x="254.81" y="92.20" width="0.50" height="9.70" fill="#1590c4"/><rect x="256.29" y="92.20" width="0.70" height="9.70" fill="#0e72ae"/><rect x="257.09" y="92.20" width="0.90" height="9.70" fill="#1590c4"/><rect x="259.18" y="92.20" width="0.50" height="9.70" fill="#0b4f80"/><rect x="265.26" y="92.20" width="1.40" height="9.70" fill="#0e72ae"/><rect x="267.81" y="92.20" width="0.50" height="9.70" fill="#3cc0ea"/><rect x="277.45" y="92.20" width="0.70" height="9.70" fill="#1280b8"/><rect x="278.64" y="92.20" width="0.90" height="9.70" fill="#1590c4"/><rect x="285.54" y="92.20" width="0.50" height="9.70" fill="#1590c4"/><rect x="287.78" y="92.20" width="0.50" height="9.70" fill="#1280b8"/><rect x="289.41" y="92.20" width="0.50" height="9.70" fill="#0c5a8e"/><rect x="293.28" y="92.20" width="0.50" height="9.70" fill="#0c5a8e"/><rect x="297.90" y="92.20" width="1.40" height="9.70" fill="#0b4f80"/><rect x="301.57" y="92.20" width="0.70" height="9.70" fill="#1280b8"/><rect x="308.35" y="92.20" width="1.40" height="9.70" fill="#0f6aa4"/><rect x="310.14" y="92.20" width="1.40" height="9.70" fill="#1280b8"/><rect x="312.89" y="92.20" width="1.40" height="9.70" fill="#1590c4"/><rect x="315.23" y="92.20" width="1.40" height="9.70" fill="#0f6aa4"/><rect x="316.77" y="92.20" width="0.90" height="9.70" fill="#1280b8"/><rect x="321.13" y="92.20" width="0.70" height="9.70" fill="#0f6aa4"/><rect x="325.19" y="92.20" width="1.40" height="9.70" fill="#0f6aa4"/><rect x="331.01" y="92.20" width="0.90" height="9.70" fill="#0e72ae"/><rect x="334.50" y="92.20" width="0.70" height="9.70" fill="#3cc0ea"/><rect x="335.51" y="92.20" width="0.50" height="9.70" fill="#3cc0ea"/><rect x="350.83" y="92.20" width="1.10" height="9.70" fill="#0b4f80"/><rect x="352.76" y="92.20" width="1.10" height="9.70" fill="#1590c4"/><rect x="354.82" y="92.20" width="1.10" height="9.70" fill="#1280b8"/><rect x="356.72" y="92.20" width="1.40" height="9.70" fill="#1280b8"/><rect x="365.50" y="92.20" width="0.70" height="9.70" fill="#0c5a8e"/><rect x="367.63" y="92.20" width="0.90" height="9.70" fill="#0b4f80"/><rect x="369.34" y="92.20" width="1.10" height="9.70" fill="#0b4f80"/><rect x="376.64" y="92.20" width="1.40" height="9.70" fill="#0b4f80"/><rect x="381.91" y="92.20" width="0.70" height="9.70" fill="#0b4f80"/><rect x="382.69" y="92.20" width="0.70" height="9.70" fill="#1280b8"/><rect x="387.98" y="92.20" width="1.10" height="9.70" fill="#1590c4"/><rect x="389.37" y="92.20" width="0.70" height="9.70" fill="#1590c4"/><rect x="390.30" y="92.20" width="0.90" height="9.70" fill="#0b4f80"/><rect x="393.16" y="92.20" width="1.40" height="9.70" fill="#1280b8"/><rect x="397.82" y="92.20" width="0.70" height="9.70" fill="#0e72ae"/><rect x="407.06" y="92.20" width="0.50" height="9.70" fill="#1280b8"/><rect x="407.97" y="92.20" width="1.80" height="9.70" fill="#1590c4"/><rect x="409.92" y="92.20" width="1.80" height="9.70" fill="#0e72ae"/><rect x="412.40" y="92.20" width="0.90" height="9.70" fill="#1280b8"/><rect x="413.57" y="92.20" width="1.40" height="9.70" fill="#1280b8"/><rect x="416.84" y="92.20" width="1.40" height="9.70" fill="#0b4f80"/><rect x="421.06" y="92.20" width="0.90" height="9.70" fill="#1280b8"/><rect x="425.17" y="92.20" width="1.40" height="9.70" fill="#0e72ae"/><rect x="433.12" y="92.20" width="0.70" height="9.70" fill="#1280b8"/><rect x="435.05" y="92.20" width="0.50" height="9.70" fill="#1590c4"/><rect x="440.07" y="92.20" width="1.10" height="9.70" fill="#1590c4"/><rect x="442.30" y="92.20" width="1.80" height="9.70" fill="#0c5a8e"/><rect x="444.99" y="92.20" width="1.80" height="9.70" fill="#0f6aa4"/><rect x="450.12" y="92.20" width="0.90" height="9.70" fill="#1590c4"/><rect x="451.54" y="92.20" width="1.80" height="9.70" fill="#0f6aa4"/><rect x="455.45" y="92.20" width="0.50" height="9.70" fill="#1590c4"/><rect x="459.50" y="92.20" width="1.40" height="9.70" fill="#1280b8"/><rect x="466.47" y="92.20" width="1.10" height="9.70" fill="#0e72ae"/><rect x="472.07" y="92.20" width="1.40" height="9.70" fill="#0b4f80"/><rect x="475.39" y="92.20" width="1.40" height="9.70" fill="#0f6aa4"/><rect x="478.78" y="92.20" width="1.10" height="9.70" fill="#3cc0ea"/><rect x="481.16" y="92.20" width="0.90" height="9.70" fill="#0f6aa4"/><rect x="485.13" y="92.20" width="0.70" height="9.70" fill="#0e72ae"/><rect x="486.04" y="92.20" width="1.40" height="9.70" fill="#0b4f80"/><rect x="488.39" y="92.20" width="1.10" height="9.70" fill="#1280b8"/><rect x="491.08" y="92.20" width="1.80" height="9.70" fill="#0e72ae"/><rect x="495.09" y="92.20" width="1.10" height="9.70" fill="#1280b8"/><rect x="496.96" y="92.20" width="0.50" height="9.70" fill="#1280b8"/><rect x="499.49" y="92.20" width="0.70" height="9.70" fill="#3cc0ea"/><rect x="500.81" y="92.20" width="1.09" height="9.70" fill="#3cc0ea"/>
<rect x="246.70" y="92.20" width="8.10" height="9.70" fill="#2ab0dc"/>
<rect x="393.60" y="92.20" width="1.20" height="9.70" fill="#0d4f80"/>
<rect x="394.90" y="92.20" width="0.90" height="9.70" fill="#d060a8"/>
<rect x="247.20" y="92.20" width="2.40" height="9.70" fill="#d09aa8"/>
<text x="226" y="111.8" font-size="7.8" fill="#da513b" text-anchor="middle" font-weight="normal" font-style="normal" textLength="43" lengthAdjust="spacingAndGlyphs" stroke="#da513b" stroke-width="0.08">139,303,340</text>
<text x="275.2" y="111.8" font-size="7.8" fill="#da513b" text-anchor="middle" font-weight="normal" font-style="normal" textLength="42" lengthAdjust="spacingAndGlyphs" stroke="#da513b" stroke-width="0.08">139,770,496</text>
<text transform="translate(16.2,83.0) rotate(-90)" x="0" y="0" font-size="8.9" fill="#333" font-weight="bold" text-anchor="middle" textLength="25.2" lengthAdjust="spacingAndGlyphs">Sample 1</text>
<path d="M30.599999999999998,61.3 Q25.9,61.3 25.9,65.3 L25.9,80.0 Q25.9,82.5 21.7,82.5 Q25.9,82.5 25.9,85.0 L25.9,98.8 Q25.9,102.8 30.599999999999998,102.8" fill="none" stroke="#6a6a6a" stroke-width="1.1"/>
<text x="32.4" y="68.4" font-size="7.9" fill="#222" text-anchor="start" font-weight="normal" font-style="normal" textLength="29.5" lengthAdjust="spacingAndGlyphs" stroke="#222" stroke-width="0.08">Ref allele</text>
<text x="30.4" y="99.0" font-size="7.9" fill="#222" text-anchor="start" font-weight="normal" font-style="normal" textLength="34.5" lengthAdjust="spacingAndGlyphs" stroke="#222" stroke-width="0.08">MUT allele</text>
<text x="6.2" y="137.8" font-size="11.2" fill="#111" text-anchor="start" font-weight="bold" font-style="normal">B</text>
<text x="54.5" y="175.3" font-size="8.3" fill="#222" text-anchor="start" font-weight="normal" font-style="normal" textLength="50.5" lengthAdjust="spacingAndGlyphs" stroke="#222" stroke-width="0.08">Chromosome X</text>
<defs><linearGradient id="fg" x1="0" y1="0" x2="0" y2="1"><stop offset="0" stop-color="#ebebeb"/><stop offset="1" stop-color="#f8f8f8"/></linearGradient></defs>
<polygon points="103,160.5 199.7,160.5 148,182.5 143.5,182.5" fill="url(#fg)"/>
<polygon points="235,160.5 332.5,160.5 430,182.5 425,182.5" fill="url(#fg)" opacity="0.6"/>
<polygon points="368.7,160.5 465.2,160.5 480,182.5 474.5,182.5" fill="url(#fg)"/>
<rect x="103.00" y="156.40" width="96.70" height="3.60" fill="#d6d6d6"/>
<path d="M114.5,158.2 L123.0,156.2 L188,156.2 L188,160.2 L123.0,160.2 Z" fill="#e03c1e" stroke="#8c1e0c" stroke-width="0.6"/>
<rect x="235.00" y="156.40" width="97.50" height="3.60" fill="#d6d6d6"/>
<path d="M245.7,158.2 L254.2,156.2 L320,156.2 L320,160.2 L254.2,160.2 Z" fill="#f2de1c" stroke="#857512" stroke-width="0.6"/>
<rect x="368.70" y="156.60" width="96.50" height="3.60" fill="#d6d6d6"/>
<path d="M454.6,158.4 L446.1,156.4 L381.2,156.4 L381.2,160.4 L446.1,160.4 Z" fill="#1a8fc2" stroke="#0d4f72" stroke-width="0.6"/>
<text x="150.5" y="154.0" font-size="7.9" fill="#222" text-anchor="middle" font-weight="normal" font-style="normal" textLength="26.4" lengthAdjust="spacingAndGlyphs" stroke="#222" stroke-width="0.08">int22h-1</text>
<text x="283.3" y="154.0" font-size="7.9" fill="#222" text-anchor="middle" font-weight="normal" font-style="normal" textLength="26.4" lengthAdjust="spacingAndGlyphs" stroke="#222" stroke-width="0.08">int22h-2</text>
<text x="418" y="154.0" font-size="7.9" fill="#222" text-anchor="middle" font-weight="normal" font-style="normal" textLength="26.4" lengthAdjust="spacingAndGlyphs" stroke="#222" stroke-width="0.08">int22h-3</text>
<circle cx="56.8" cy="185.1" r="3.2" fill="#2a1c1c"/>
<line x1="61.50" y1="185.10" x2="65.40" y2="185.10" stroke="#3a3a3a" stroke-width="1.5"/>
<line x1="70.20" y1="185.10" x2="74.40" y2="185.10" stroke="#3a3a3a" stroke-width="1.5"/>
<line x1="79.00" y1="185.10" x2="81.00" y2="185.10" stroke="#3a3a3a" stroke-width="1.5"/>
<line x1="83.40" y1="185.10" x2="484.60" y2="185.10" stroke="#3f3f3f" stroke-width="1.4"/>
<line x1="488.90" y1="185.10" x2="492.60" y2="185.10" stroke="#3a3a3a" stroke-width="1.5"/>
<line x1="496.80" y1="185.10" x2="500.90" y2="185.10" stroke="#3a3a3a" stroke-width="1.5"/>
<line x1="505.10" y1="185.10" x2="508.00" y2="185.10" stroke="#3a3a3a" stroke-width="1.5"/>
<circle cx="510.5" cy="185.1" r="3.2" fill="#2a1c1c"/>
<path d="M119.75,182.55 L224.20,182.55 L225.20,184.50 L224.20,186.45 L119.75,186.45 A1.95,1.95 0 0 1 119.75,182.55 Z" fill="#fff" stroke="#444" stroke-width="0.75"/>
<text x="172.5" y="180.1" font-size="7.9" fill="#222" text-anchor="middle" font-weight="normal" font-style="italic" textLength="8.6" lengthAdjust="spacingAndGlyphs" stroke="#222" stroke-width="0.08">F8</text>
<rect x="143.2" y="181.9" width="5.1" height="5.7" rx="1.2" fill="#e03c1e" stroke="#8c1e0c" stroke-width="0.6"/>
<circle cx="427.6" cy="185.1" r="3.2" fill="#f2de1c" stroke="#857512" stroke-width="0.6"/>
<circle cx="477.2" cy="185.2" r="3.0" fill="#1a8fc2" stroke="#0d4f72" stroke-width="0.6"/>
<line x1="65.80" y1="210.20" x2="502.55" y2="210.20" stroke="#222" stroke-width="1.2"/>
<line x1="66.30" y1="200.70" x2="66.30" y2="210.20" stroke="#222" stroke-width="1.0"/>
<line x1="72.11" y1="206.10" x2="72.11" y2="210.20" stroke="#555" stroke-width="0.85"/>
<line x1="77.92" y1="206.10" x2="77.92" y2="210.20" stroke="#555" stroke-width="0.85"/>
<line x1="83.73" y1="206.10" x2="83.73" y2="210.20" stroke="#555" stroke-width="0.85"/>
<line x1="89.54" y1="206.10" x2="89.54" y2="210.20" stroke="#555" stroke-width="0.85"/>
<line x1="95.35" y1="200.70" x2="95.35" y2="210.20" stroke="#222" stroke-width="1.0"/>
<line x1="101.16" y1="206.10" x2="101.16" y2="210.20" stroke="#555" stroke-width="0.85"/>
<line x1="106.97" y1="206.10" x2="106.97" y2="210.20" stroke="#555" stroke-width="0.85"/>
<line x1="112.78" y1="206.10" x2="112.78" y2="210.20" stroke="#555" stroke-width="0.85"/>
<line x1="118.59" y1="206.10" x2="118.59" y2="210.20" stroke="#555" stroke-width="0.85"/>
<line x1="124.40" y1="203.20" x2="124.40" y2="210.20" stroke="#222" stroke-width="1.0"/>
<line x1="130.21" y1="206.10" x2="130.21" y2="210.20" stroke="#555" stroke-width="0.85"/>
<line x1="136.02" y1="206.10" x2="136.02" y2="210.20" stroke="#555" stroke-width="0.85"/>
<line x1="141.83" y1="206.10" x2="141.83" y2="210.20" stroke="#555" stroke-width="0.85"/>
<line x1="147.64" y1="206.10" x2="147.64" y2="210.20" stroke="#555" stroke-width="0.85"/>
<line x1="153.45" y1="200.70" x2="153.45" y2="210.20" stroke="#222" stroke-width="1.0"/>
<line x1="159.26" y1="206.10" x2="159.26" y2="210.20" stroke="#555" stroke-width="0.85"/>
<line x1="165.07" y1="206.10" x2="165.07" y2="210.20" stroke="#555" stroke-width="0.85"/>
<line x1="170.88" y1="206.10" x2="170.88" y2="210.20" stroke="#555" stroke-width="0.85"/>
<line x1="176.69" y1="206.10" x2="176.69" y2="210.20" stroke="#555" stroke-width="0.85"/>
<line x1="182.50" y1="203.20" x2="182.50" y2="210.20" stroke="#222" stroke-width="1.0"/>
<line x1="188.31" y1="206.10" x2="188.31" y2="210.20" stroke="#555" stroke-width="0.85"/>
<line x1="194.12" y1="206.10" x2="194.12" y2="210.20" stroke="#555" stroke-width="0.85"/>
<line x1="199.93" y1="206.10" x2="199.93" y2="210.20" stroke="#555" stroke-width="0.85"/>
<line x1="205.74" y1="206.10" x2="205.74" y2="210.20" stroke="#555" stroke-width="0.85"/>
<line x1="211.55" y1="200.70" x2="211.55" y2="210.20" stroke="#222" stroke-width="1.0"/>
<line x1="217.36" y1="206.10" x2="217.36" y2="210.20" stroke="#555" stroke-width="0.85"/>
<line x1="223.17" y1="206.10" x2="223.17" y2="210.20" stroke="#555" stroke-width="0.85"/>
<line x1="228.98" y1="206.10" x2="228.98" y2="210.20" stroke="#555" stroke-width="0.85"/>
<line x1="234.79" y1="206.10" x2="234.79" y2="210.20" stroke="#555" stroke-width="0.85"/>
<line x1="240.60" y1="203.20" x2="240.60" y2="210.20" stroke="#222" stroke-width="1.0"/>
<line x1="246.41" y1="206.10" x2="246.41" y2="210.20" stroke="#555" stroke-width="0.85"/>
<line x1="252.22" y1="206.10" x2="252.22" y2="210.20" stroke="#555" stroke-width="0.85"/>
<line x1="258.03" y1="206.10" x2="258.03" y2="210.20" stroke="#555" stroke-width="0.85"/>
<line x1="263.84" y1="206.10" x2="263.84" y2="210.20" stroke="#555" stroke-width="0.85"/>
<line x1="269.65" y1="200.70" x2="269.65" y2="210.20" stroke="#222" stroke-width="1.0"/>
<line x1="275.46" y1="206.10" x2="275.46" y2="210.20" stroke="#555" stroke-width="0.85"/>
<line x1="281.27" y1="206.10" x2="281.27" y2="210.20" stroke="#555" stroke-width="0.85"/>
<line x1="287.08" y1="206.10" x2="287.08" y2="210.20" stroke="#555" stroke-width="0.85"/>
<line x1="292.89" y1="206.10" x2="292.89" y2="210.20" stroke="#555" stroke-width="0.85"/>
<line x1="298.70" y1="203.20" x2="298.70" y2="210.20" stroke="#222" stroke-width="1.0"/>
<line x1="304.51" y1="206.10" x2="304.51" y2="210.20" stroke="#555" stroke-width="0.85"/>
<line x1="310.32" y1="206.10" x2="310.32" y2="210.20" stroke="#555" stroke-width="0.85"/>
<line x1="316.13" y1="206.10" x2="316.13" y2="210.20" stroke="#555" stroke-width="0.85"/>
<line x1="321.94" y1="206.10" x2="321.94" y2="210.20" stroke="#555" stroke-width="0.85"/>
<line x1="327.75" y1="200.70" x2="327.75" y2="210.20" stroke="#222" stroke-width="1.0"/>
<line x1="333.56" y1="206.10" x2="333.56" y2="210.20" stroke="#555" stroke-width="0.85"/>
<line x1="339.37" y1="206.10" x2="339.37" y2="210.20" stroke="#555" stroke-width="0.85"/>
<line x1="345.18" y1="206.10" x2="345.18" y2="210.20" stroke="#555" stroke-width="0.85"/>
<line x1="350.99" y1="206.10" x2="350.99" y2="210.20" stroke="#555" stroke-width="0.85"/>
<line x1="356.80" y1="203.20" x2="356.80" y2="210.20" stroke="#222" stroke-width="1.0"/>
<line x1="362.61" y1="206.10" x2="362.61" y2="210.20" stroke="#555" stroke-width="0.85"/>
<line x1="368.42" y1="206.10" x2="368.42" y2="210.20" stroke="#555" stroke-width="0.85"/>
<line x1="374.23" y1="206.10" x2="374.23" y2="210.20" stroke="#555" stroke-width="0.85"/>
<line x1="380.04" y1="206.10" x2="380.04" y2="210.20" stroke="#555" stroke-width="0.85"/>
<line x1="385.85" y1="200.70" x2="385.85" y2="210.20" stroke="#222" stroke-width="1.0"/>
<line x1="391.66" y1="206.10" x2="391.66" y2="210.20" stroke="#555" stroke-width="0.85"/>
<line x1="397.47" y1="206.10" x2="397.47" y2="210.20" stroke="#555" stroke-width="0.85"/>
<line x1="403.28" y1="206.10" x2="403.28" y2="210.20" stroke="#555" stroke-width="0.85"/>
<line x1="409.09" y1="206.10" x2="409.09" y2="210.20" stroke="#555" stroke-width="0.85"/>
<line x1="414.90" y1="203.20" x2="414.90" y2="210.20" stroke="#222" stroke-width="1.0"/>
<line x1="420.71" y1="206.10" x2="420.71" y2="210.20" stroke="#555" stroke-width="0.85"/>
<line x1="426.52" y1="206.10" x2="426.52" y2="210.20" stroke="#555" stroke-width="0.85"/>
<line x1="432.33" y1="206.10" x2="432.33" y2="210.20" stroke="#555" stroke-width="0.85"/>
<line x1="438.14" y1="206.10" x2="438.14" y2="210.20" stroke="#555" stroke-width="0.85"/>
<line x1="443.95" y1="200.70" x2="443.95" y2="210.20" stroke="#222" stroke-width="1.0"/>
<line x1="449.76" y1="206.10" x2="449.76" y2="210.20" stroke="#555" stroke-width="0.85"/>
<line x1="455.57" y1="206.10" x2="455.57" y2="210.20" stroke="#555" stroke-width="0.85"/>
<line x1="461.38" y1="206.10" x2="461.38" y2="210.20" stroke="#555" stroke-width="0.85"/>
<line x1="467.19" y1="206.10" x2="467.19" y2="210.20" stroke="#555" stroke-width="0.85"/>
<line x1="473.00" y1="203.20" x2="473.00" y2="210.20" stroke="#222" stroke-width="1.0"/>
<line x1="478.81" y1="206.10" x2="478.81" y2="210.20" stroke="#555" stroke-width="0.85"/>
<line x1="484.62" y1="206.10" x2="484.62" y2="210.20" stroke="#555" stroke-width="0.85"/>
<line x1="490.43" y1="206.10" x2="490.43" y2="210.20" stroke="#555" stroke-width="0.85"/>
<line x1="496.24" y1="206.10" x2="496.24" y2="210.20" stroke="#555" stroke-width="0.85"/>
<line x1="502.05" y1="200.70" x2="502.05" y2="210.20" stroke="#222" stroke-width="1.0"/>
<text x="95.35" y="197.9" font-size="7.8" fill="#222" text-anchor="middle" font-weight="normal" font-style="normal" textLength="43" lengthAdjust="spacingAndGlyphs" stroke="#222" stroke-width="0.08">154,800,000</text>
<text x="153.45" y="197.9" font-size="7.8" fill="#222" text-anchor="middle" font-weight="normal" font-style="normal" textLength="43" lengthAdjust="spacingAndGlyphs" stroke="#222" stroke-width="0.08">154,900,000</text>
<text x="211.55" y="197.9" font-size="7.8" fill="#222" text-anchor="middle" font-weight="normal" font-style="normal" textLength="43" lengthAdjust="spacingAndGlyphs" stroke="#222" stroke-width="0.08">155,000,000</text>
<text x="269.65" y="197.9" font-size="7.8" fill="#222" text-anchor="middle" font-weight="normal" font-style="normal" textLength="43" lengthAdjust="spacingAndGlyphs" stroke="#222" stroke-width="0.08">155,100,000</text>
<text x="327.75" y="197.9" font-size="7.8" fill="#222" text-anchor="middle" font-weight="normal" font-style="normal" textLength="43" lengthAdjust="spacingAndGlyphs" stroke="#222" stroke-width="0.08">155,200,000</text>
<text x="385.85" y="197.9" font-size="7.8" fill="#222" text-anchor="middle" font-weight="normal" font-style="normal" textLength="43" lengthAdjust="spacingAndGlyphs" stroke="#222" stroke-width="0.08">155,300,000</text>
<text x="443.95" y="197.9" font-size="7.8" fill="#222" text-anchor="middle" font-weight="normal" font-style="normal" textLength="43" lengthAdjust="spacingAndGlyphs" stroke="#222" stroke-width="0.08">155,400,000</text>
<text x="146.8" y="221.0" font-size="7.8" fill="#da513b" text-anchor="middle" font-weight="normal" font-style="normal" textLength="42.6" lengthAdjust="spacingAndGlyphs" stroke="#da513b" stroke-width="0.08">154,888,832</text>
<text x="476.25" y="220.8" font-size="7.8" fill="#3aa0d2" text-anchor="middle" font-weight="normal" font-style="normal" textLength="42.1" lengthAdjust="spacingAndGlyphs" stroke="#3aa0d2" stroke-width="0.08">155,456,141</text>
<line x1="74.59" y1="230.80" x2="74.59" y2="268.60" stroke="#d6d6d6" stroke-width="0.6"/><line x1="74.56" y1="230.80" x2="74.56" y2="268.60" stroke="#d2d2d2" stroke-width="0.6"/><line x1="73.37" y1="230.80" x2="73.37" y2="268.60" stroke="#c4c4c4" stroke-width="0.6"/><line x1="90.25" y1="230.80" x2="90.25" y2="268.60" stroke="#d2d2d2" stroke-width="0.6"/><line x1="89.98" y1="230.80" x2="89.98" y2="268.60" stroke="#d6d6d6" stroke-width="0.6"/><line x1="70.38" y1="230.80" x2="70.38" y2="268.60" stroke="#c4c4c4" stroke-width="0.6"/><line x1="69.10" y1="230.80" x2="69.10" y2="268.60" stroke="#d6d6d6" stroke-width="0.6"/><line x1="78.51" y1="230.80" x2="78.51" y2="268.60" stroke="#d6d6d6" stroke-width="0.6"/><line x1="119.16" y1="230.80" x2="119.16" y2="268.60" stroke="#cdcdcd" stroke-width="0.6"/><line x1="118.71" y1="230.80" x2="118.71" y2="268.60" stroke="#d6d6d6" stroke-width="0.6"/><line x1="119.59" y1="230.80" x2="119.59" y2="268.60" stroke="#dedede" stroke-width="0.6"/><line x1="95.07" y1="230.80" x2="95.07" y2="268.60" stroke="#d6d6d6" stroke-width="0.6"/><line x1="97.47" y1="230.80" x2="97.47" y2="268.60" stroke="#cdcdcd" stroke-width="0.6"/><line x1="96.99" y1="230.80" x2="96.99" y2="268.60" stroke="#dedede" stroke-width="0.6"/><line x1="112.71" y1="230.80" x2="112.71" y2="268.60" stroke="#d6d6d6" stroke-width="0.6"/><line x1="111.59" y1="230.80" x2="111.59" y2="268.60" stroke="#dedede" stroke-width="0.6"/><line x1="111.81" y1="230.80" x2="111.81" y2="268.60" stroke="#d2d2d2" stroke-width="0.6"/><line x1="114.98" y1="230.80" x2="114.98" y2="268.60" stroke="#d6d6d6" stroke-width="0.6"/><line x1="114.20" y1="230.80" x2="114.20" y2="268.60" stroke="#c4c4c4" stroke-width="0.6"/><line x1="98.12" y1="230.80" x2="98.12" y2="268.60" stroke="#d2d2d2" stroke-width="0.6"/><line x1="97.08" y1="230.80" x2="97.08" y2="268.60" stroke="#dedede" stroke-width="0.6"/><line x1="93.60" y1="230.80" x2="93.60" y2="268.60" stroke="#dedede" stroke-width="0.6"/><line x1="92.86" y1="230.80" x2="92.86" y2="268.60" stroke="#cdcdcd" stroke-width="0.6"/><line x1="92.79" y1="230.80" x2="92.79" y2="268.60" stroke="#dedede" stroke-width="0.6"/><line x1="112.41" y1="230.80" x2="112.41" y2="268.60" stroke="#dedede" stroke-width="0.6"/><line x1="98.52" y1="230.80" x2="98.52" y2="268.60" stroke="#cdcdcd" stroke-width="0.6"/><line x1="74.22" y1="230.80" x2="74.22" y2="268.60" stroke="#c4c4c4" stroke-width="0.6"/><line x1="73.23" y1="230.80" x2="73.23" y2="268.60" stroke="#d6d6d6" stroke-width="0.6"/><line x1="73.62" y1="230.80" x2="73.62" y2="268.60" stroke="#d6d6d6" stroke-width="0.6"/><line x1="91.91" y1="230.80" x2="91.91" y2="268.60" stroke="#cdcdcd" stroke-width="0.6"/><line x1="91.55" y1="230.80" x2="91.55" y2="268.60" stroke="#c4c4c4" stroke-width="0.6"/><line x1="92.34" y1="230.80" x2="92.34" y2="268.60" stroke="#dedede" stroke-width="0.6"/><line x1="143.99" y1="230.80" x2="143.99" y2="268.60" stroke="#d6d6d6" stroke-width="0.6"/><line x1="109.10" y1="230.80" x2="109.10" y2="268.60" stroke="#c4c4c4" stroke-width="0.6"/>
<line x1="483.15" y1="230.80" x2="483.15" y2="268.60" stroke="#d6d6d6" stroke-width="0.6"/><line x1="498.06" y1="230.80" x2="498.06" y2="268.60" stroke="#d2d2d2" stroke-width="0.6"/><line x1="496.90" y1="230.80" x2="496.90" y2="268.60" stroke="#c4c4c4" stroke-width="0.6"/><line x1="492.26" y1="230.80" x2="492.26" y2="268.60" stroke="#d6d6d6" stroke-width="0.6"/><line x1="493.37" y1="230.80" x2="493.37" y2="268.60" stroke="#cdcdcd" stroke-width="0.6"/><line x1="496.24" y1="230.80" x2="496.24" y2="268.60" stroke="#d2d2d2" stroke-width="0.6"/><line x1="480.29" y1="230.80" x2="480.29" y2="268.60" stroke="#dedede" stroke-width="0.6"/><line x1="481.83" y1="230.80" x2="481.83" y2="268.60" stroke="#c4c4c4" stroke-width="0.6"/><line x1="481.22" y1="230.80" x2="481.22" y2="268.60" stroke="#cdcdcd" stroke-width="0.6"/><line x1="496.16" y1="230.80" x2="496.16" y2="268.60" stroke="#d6d6d6" stroke-width="0.6"/>
<line x1="201.68" y1="230.80" x2="422.22" y2="268.60" stroke="#d2cacd" stroke-width="0.5"/>
<line x1="356.38" y1="230.80" x2="267.52" y2="268.60" stroke="#d2cacd" stroke-width="0.5"/>
<line x1="424.92" y1="230.80" x2="198.98" y2="268.60" stroke="#d2cacd" stroke-width="0.5"/>
<line x1="413.26" y1="230.80" x2="210.64" y2="268.60" stroke="#cbc6ca" stroke-width="0.5"/>
<line x1="313.62" y1="230.80" x2="310.28" y2="268.60" stroke="#cbc6ca" stroke-width="0.5"/>
<line x1="406.86" y1="230.80" x2="217.04" y2="268.60" stroke="#c2c2c2" stroke-width="0.5"/>
<line x1="269.51" y1="230.80" x2="354.39" y2="268.60" stroke="#d2cacd" stroke-width="0.5"/>
<line x1="170.20" y1="230.80" x2="453.70" y2="268.60" stroke="#cbc6ca" stroke-width="0.5"/>
<line x1="450.66" y1="230.80" x2="173.24" y2="268.60" stroke="#c2c2c2" stroke-width="0.5"/>
<line x1="291.17" y1="230.80" x2="332.73" y2="268.60" stroke="#d2cacd" stroke-width="0.5"/>
<line x1="350.09" y1="230.80" x2="273.81" y2="268.60" stroke="#c2c2c2" stroke-width="0.5"/>
<line x1="462.27" y1="230.80" x2="161.63" y2="268.60" stroke="#d2cacd" stroke-width="0.5"/>
<line x1="375.77" y1="230.80" x2="248.13" y2="268.60" stroke="#bababa" stroke-width="0.5"/>
<line x1="155.04" y1="230.80" x2="468.86" y2="268.60" stroke="#c2c2c2" stroke-width="0.5"/>
<line x1="188.50" y1="230.80" x2="435.40" y2="268.60" stroke="#c2c2c2" stroke-width="0.5"/>
<line x1="296.52" y1="230.80" x2="327.38" y2="268.60" stroke="#bababa" stroke-width="0.5"/>
<line x1="279.48" y1="230.80" x2="344.42" y2="268.60" stroke="#cbc6ca" stroke-width="0.5"/>
<line x1="208.91" y1="230.80" x2="414.99" y2="268.60" stroke="#c2c2c2" stroke-width="0.5"/>
<line x1="302.06" y1="230.80" x2="321.84" y2="268.60" stroke="#cbc6ca" stroke-width="0.5"/>
<line x1="171.96" y1="230.80" x2="451.94" y2="268.60" stroke="#cbc6ca" stroke-width="0.5"/>
<line x1="216.04" y1="230.80" x2="407.86" y2="268.60" stroke="#c2c2c2" stroke-width="0.5"/>
<line x1="187.71" y1="230.80" x2="436.19" y2="268.60" stroke="#d2cacd" stroke-width="0.5"/>
<line x1="331.35" y1="230.80" x2="292.55" y2="268.60" stroke="#d2cacd" stroke-width="0.5"/>
<line x1="213.58" y1="230.80" x2="410.32" y2="268.60" stroke="#cbc6ca" stroke-width="0.5"/>
<line x1="439.50" y1="230.80" x2="184.40" y2="268.60" stroke="#d2cacd" stroke-width="0.5"/>
<line x1="243.49" y1="230.80" x2="380.41" y2="268.60" stroke="#d2cacd" stroke-width="0.5"/>
<line x1="312.42" y1="230.80" x2="311.48" y2="268.60" stroke="#bababa" stroke-width="0.5"/>
<line x1="474.80" y1="230.80" x2="149.10" y2="268.60" stroke="#d2cacd" stroke-width="0.5"/>
<line x1="234.84" y1="230.80" x2="389.06" y2="268.60" stroke="#c2c2c2" stroke-width="0.5"/>
<line x1="199.71" y1="230.80" x2="424.19" y2="268.60" stroke="#d2cacd" stroke-width="0.5"/>
<line x1="148.33" y1="230.80" x2="475.57" y2="268.60" stroke="#c2c2c2" stroke-width="0.5"/>
<line x1="328.55" y1="230.80" x2="295.35" y2="268.60" stroke="#cbc6ca" stroke-width="0.5"/>
<line x1="335.49" y1="230.80" x2="288.41" y2="268.60" stroke="#bababa" stroke-width="0.5"/>
<line x1="330.54" y1="230.80" x2="293.36" y2="268.60" stroke="#c2c2c2" stroke-width="0.5"/>
<line x1="206.86" y1="230.80" x2="417.04" y2="268.60" stroke="#cbc6ca" stroke-width="0.5"/>
<line x1="353.58" y1="230.80" x2="270.32" y2="268.60" stroke="#bababa" stroke-width="0.5"/>
<line x1="261.47" y1="230.80" x2="362.43" y2="268.60" stroke="#bababa" stroke-width="0.5"/>
<line x1="228.28" y1="230.80" x2="395.62" y2="268.60" stroke="#cbc6ca" stroke-width="0.5"/>
<line x1="169.00" y1="230.80" x2="454.90" y2="268.60" stroke="#cbc6ca" stroke-width="0.5"/>
<line x1="403.12" y1="230.80" x2="220.78" y2="268.60" stroke="#bababa" stroke-width="0.5"/>
<line x1="200.02" y1="230.80" x2="423.88" y2="268.60" stroke="#c2c2c2" stroke-width="0.5"/>
<line x1="369.84" y1="230.80" x2="254.06" y2="268.60" stroke="#cbc6ca" stroke-width="0.5"/>
<line x1="281.35" y1="230.80" x2="342.55" y2="268.60" stroke="#cbc6ca" stroke-width="0.5"/>
<line x1="463.81" y1="230.80" x2="160.09" y2="268.60" stroke="#c2c2c2" stroke-width="0.5"/>
<line x1="438.05" y1="230.80" x2="185.85" y2="268.60" stroke="#d2cacd" stroke-width="0.5"/>
<line x1="313.97" y1="230.80" x2="309.93" y2="268.60" stroke="#cbc6ca" stroke-width="0.5"/>
<line x1="455.53" y1="230.80" x2="168.37" y2="268.60" stroke="#cbc6ca" stroke-width="0.5"/>
<line x1="200.81" y1="230.80" x2="423.09" y2="268.60" stroke="#c2c2c2" stroke-width="0.5"/>
<line x1="291.95" y1="230.80" x2="331.95" y2="268.60" stroke="#d2cacd" stroke-width="0.5"/>
<line x1="402.10" y1="230.80" x2="221.80" y2="268.60" stroke="#d2cacd" stroke-width="0.5"/>
<line x1="166.30" y1="230.80" x2="457.60" y2="268.60" stroke="#bababa" stroke-width="0.5"/>
<line x1="164.57" y1="230.80" x2="459.33" y2="268.60" stroke="#bababa" stroke-width="0.5"/>
<line x1="364.09" y1="230.80" x2="259.81" y2="268.60" stroke="#c2c2c2" stroke-width="0.5"/>
<line x1="285.47" y1="230.80" x2="338.43" y2="268.60" stroke="#cbc6ca" stroke-width="0.5"/>
<line x1="277.24" y1="230.80" x2="346.66" y2="268.60" stroke="#bababa" stroke-width="0.5"/>
<line x1="359.81" y1="230.80" x2="264.09" y2="268.60" stroke="#cbc6ca" stroke-width="0.5"/>
<line x1="471.05" y1="230.80" x2="152.85" y2="268.60" stroke="#d2cacd" stroke-width="0.5"/>
<line x1="163.66" y1="230.80" x2="460.24" y2="268.60" stroke="#cbc6ca" stroke-width="0.5"/>
<line x1="462.97" y1="230.80" x2="160.93" y2="268.60" stroke="#d2cacd" stroke-width="0.5"/>
<line x1="156.71" y1="230.80" x2="467.19" y2="268.60" stroke="#cbc6ca" stroke-width="0.5"/>
<line x1="443.41" y1="230.80" x2="180.49" y2="268.60" stroke="#bababa" stroke-width="0.5"/>
<line x1="409.11" y1="230.80" x2="214.79" y2="268.60" stroke="#bababa" stroke-width="0.5"/>
<line x1="345.31" y1="230.80" x2="278.59" y2="268.60" stroke="#d2cacd" stroke-width="0.5"/>
<line x1="306.84" y1="230.80" x2="317.06" y2="268.60" stroke="#d2cacd" stroke-width="0.5"/>
<line x1="248.76" y1="230.80" x2="375.14" y2="268.60" stroke="#bababa" stroke-width="0.5"/>
<line x1="193.25" y1="230.80" x2="430.65" y2="268.60" stroke="#c2c2c2" stroke-width="0.5"/>
<line x1="273.24" y1="230.80" x2="350.66" y2="268.60" stroke="#cbc6ca" stroke-width="0.5"/>
<line x1="461.35" y1="230.80" x2="162.55" y2="268.60" stroke="#c2c2c2" stroke-width="0.5"/>
<line x1="234.42" y1="230.80" x2="389.48" y2="268.60" stroke="#bababa" stroke-width="0.5"/>
<line x1="359.29" y1="230.80" x2="264.61" y2="268.60" stroke="#d2cacd" stroke-width="0.5"/>
<line x1="232.04" y1="230.80" x2="391.86" y2="268.60" stroke="#d2cacd" stroke-width="0.5"/>
<line x1="394.76" y1="230.80" x2="229.14" y2="268.60" stroke="#cbc6ca" stroke-width="0.5"/>
<line x1="191.35" y1="230.80" x2="432.55" y2="268.60" stroke="#c2c2c2" stroke-width="0.5"/>
<line x1="278.04" y1="230.80" x2="345.86" y2="268.60" stroke="#cbc6ca" stroke-width="0.5"/>
<line x1="155.73" y1="230.80" x2="468.17" y2="268.60" stroke="#d2cacd" stroke-width="0.5"/>
<line x1="406.12" y1="230.80" x2="217.78" y2="268.60" stroke="#c2c2c2" stroke-width="0.5"/>
<line x1="432.84" y1="230.80" x2="191.06" y2="268.60" stroke="#bababa" stroke-width="0.5"/>
<line x1="189.04" y1="230.80" x2="434.86" y2="268.60" stroke="#bababa" stroke-width="0.5"/>
<line x1="277.82" y1="230.80" x2="346.08" y2="268.60" stroke="#cbc6ca" stroke-width="0.5"/>
<line x1="351.84" y1="230.80" x2="272.06" y2="268.60" stroke="#cbc6ca" stroke-width="0.5"/>
<line x1="207.94" y1="230.80" x2="415.96" y2="268.60" stroke="#d2cacd" stroke-width="0.5"/>
<line x1="213.75" y1="230.80" x2="410.15" y2="268.60" stroke="#c2c2c2" stroke-width="0.5"/>
<line x1="346.14" y1="230.80" x2="277.76" y2="268.60" stroke="#c2c2c2" stroke-width="0.5"/>
<line x1="407.63" y1="230.80" x2="216.27" y2="268.60" stroke="#c2c2c2" stroke-width="0.5"/>
<line x1="274.97" y1="230.80" x2="348.93" y2="268.60" stroke="#c2c2c2" stroke-width="0.5"/>
<line x1="278.36" y1="230.80" x2="345.54" y2="268.60" stroke="#cbc6ca" stroke-width="0.5"/>
<line x1="428.60" y1="230.80" x2="195.30" y2="268.60" stroke="#cbc6ca" stroke-width="0.5"/>
<line x1="230.63" y1="230.80" x2="393.27" y2="268.60" stroke="#bababa" stroke-width="0.5"/>
<line x1="392.85" y1="230.80" x2="231.05" y2="268.60" stroke="#cbc6ca" stroke-width="0.5"/>
<line x1="275.38" y1="230.80" x2="348.52" y2="268.60" stroke="#bababa" stroke-width="0.5"/>
<line x1="386.37" y1="230.80" x2="237.53" y2="268.60" stroke="#bababa" stroke-width="0.5"/>
<line x1="416.47" y1="230.80" x2="207.43" y2="268.60" stroke="#d2cacd" stroke-width="0.5"/>
<line x1="459.46" y1="230.80" x2="164.44" y2="268.60" stroke="#c2c2c2" stroke-width="0.5"/>
<line x1="326.90" y1="230.80" x2="297.00" y2="268.60" stroke="#c2c2c2" stroke-width="0.5"/>
<line x1="314.65" y1="230.80" x2="309.25" y2="268.60" stroke="#bababa" stroke-width="0.5"/>
<line x1="465.68" y1="230.80" x2="158.22" y2="268.60" stroke="#bababa" stroke-width="0.5"/>
<line x1="243.37" y1="230.80" x2="380.53" y2="268.60" stroke="#cbc6ca" stroke-width="0.5"/>
<line x1="168.37" y1="230.80" x2="455.53" y2="268.60" stroke="#bababa" stroke-width="0.5"/>
<line x1="468.88" y1="230.80" x2="155.02" y2="268.60" stroke="#bababa" stroke-width="0.5"/>
<line x1="168.90" y1="230.80" x2="455.00" y2="268.60" stroke="#d2cacd" stroke-width="0.5"/>
<line x1="182.81" y1="230.80" x2="441.09" y2="268.60" stroke="#c2c2c2" stroke-width="0.5"/>
<line x1="361.88" y1="230.80" x2="262.02" y2="268.60" stroke="#d2cacd" stroke-width="0.5"/>
<line x1="313.61" y1="230.80" x2="310.29" y2="268.60" stroke="#c2c2c2" stroke-width="0.5"/>
<line x1="371.15" y1="230.80" x2="252.75" y2="268.60" stroke="#d2cacd" stroke-width="0.5"/>
<line x1="302.37" y1="230.80" x2="321.53" y2="268.60" stroke="#d2cacd" stroke-width="0.5"/>
<line x1="435.58" y1="230.80" x2="188.32" y2="268.60" stroke="#c2c2c2" stroke-width="0.5"/>
<line x1="221.61" y1="230.80" x2="402.29" y2="268.60" stroke="#c2c2c2" stroke-width="0.5"/>
<line x1="365.10" y1="230.80" x2="258.80" y2="268.60" stroke="#c2c2c2" stroke-width="0.5"/>
<line x1="228.71" y1="230.80" x2="395.19" y2="268.60" stroke="#d2cacd" stroke-width="0.5"/>
<line x1="385.59" y1="230.80" x2="238.31" y2="268.60" stroke="#d2cacd" stroke-width="0.5"/>
<line x1="409.90" y1="230.80" x2="214.00" y2="268.60" stroke="#d2cacd" stroke-width="0.5"/>
<line x1="274.24" y1="230.80" x2="349.66" y2="268.60" stroke="#d2cacd" stroke-width="0.5"/>
<line x1="222.36" y1="230.80" x2="401.54" y2="268.60" stroke="#c2c2c2" stroke-width="0.5"/>
<line x1="159.72" y1="230.80" x2="464.18" y2="268.60" stroke="#cbc6ca" stroke-width="0.5"/>
<line x1="309.28" y1="230.80" x2="314.62" y2="268.60" stroke="#cbc6ca" stroke-width="0.5"/>
<line x1="403.94" y1="230.80" x2="219.96" y2="268.60" stroke="#bababa" stroke-width="0.5"/>
<line x1="228.13" y1="230.80" x2="395.77" y2="268.60" stroke="#d2cacd" stroke-width="0.5"/>
<line x1="274.42" y1="230.80" x2="349.48" y2="268.60" stroke="#d2cacd" stroke-width="0.5"/>
<line x1="418.85" y1="230.80" x2="205.05" y2="268.60" stroke="#c2c2c2" stroke-width="0.5"/>
<line x1="200.67" y1="230.80" x2="423.23" y2="268.60" stroke="#cbc6ca" stroke-width="0.5"/>
<line x1="249.99" y1="230.80" x2="373.91" y2="268.60" stroke="#d2cacd" stroke-width="0.5"/>
<line x1="383.17" y1="230.80" x2="240.73" y2="268.60" stroke="#c2c2c2" stroke-width="0.5"/>
<line x1="329.47" y1="230.80" x2="294.43" y2="268.60" stroke="#c2c2c2" stroke-width="0.5"/>
<line x1="319.31" y1="230.80" x2="304.59" y2="268.60" stroke="#d2cacd" stroke-width="0.5"/>
<line x1="391.71" y1="230.80" x2="232.19" y2="268.60" stroke="#d2cacd" stroke-width="0.5"/>
<line x1="470.91" y1="230.80" x2="152.99" y2="268.60" stroke="#cbc6ca" stroke-width="0.5"/>
<line x1="379.07" y1="230.80" x2="244.83" y2="268.60" stroke="#cbc6ca" stroke-width="0.5"/>
<line x1="370.75" y1="230.80" x2="253.15" y2="268.60" stroke="#bababa" stroke-width="0.5"/>
<line x1="358.54" y1="230.80" x2="265.36" y2="268.60" stroke="#cbc6ca" stroke-width="0.5"/>
<line x1="233.25" y1="230.80" x2="390.65" y2="268.60" stroke="#c2c2c2" stroke-width="0.5"/>
<line x1="147.40" y1="230.80" x2="476.50" y2="268.60" stroke="#d8462c" stroke-width="1.45"/>
<line x1="147.40" y1="268.60" x2="476.50" y2="230.80" stroke="#2b98cc" stroke-width="1.45"/>
<rect x="67.00" y="223.80" width="434.90" height="7.00" fill="#6dbd2d"/>
<rect x="67.79" y="223.80" width="0.70" height="7.00" fill="#17607a"/><rect x="71.95" y="223.80" width="0.70" height="7.00" fill="#3f922e"/><rect x="73.41" y="223.80" width="0.50" height="7.00" fill="#2a8236"/><rect x="84.57" y="223.80" width="0.90" height="7.00" fill="#1a6a80"/><rect x="88.78" y="223.80" width="1.40" height="7.00" fill="#2c8534"/><rect x="96.32" y="223.80" width="1.80" height="7.00" fill="#2a8236"/><rect x="99.00" y="223.80" width="1.40" height="7.00" fill="#2c8534"/><rect x="100.97" y="223.80" width="0.70" height="7.00" fill="#1e7040"/><rect x="103.83" y="223.80" width="1.40" height="7.00" fill="#2a8236"/><rect x="106.36" y="223.80" width="1.80" height="7.00" fill="#3f922e"/><rect x="108.74" y="223.80" width="0.90" height="7.00" fill="#2c8534"/><rect x="116.24" y="223.80" width="0.90" height="7.00" fill="#12586e"/><rect x="118.08" y="223.80" width="0.70" height="7.00" fill="#8fd150"/><rect x="122.14" y="223.80" width="1.80" height="7.00" fill="#2c8534"/><rect x="125.14" y="223.80" width="0.50" height="7.00" fill="#2a8236"/><rect x="133.04" y="223.80" width="1.10" height="7.00" fill="#12586e"/><rect x="136.22" y="223.80" width="0.90" height="7.00" fill="#2c8534"/><rect x="140.21" y="223.80" width="1.10" height="7.00" fill="#1a6a80"/><rect x="143.68" y="223.80" width="0.90" height="7.00" fill="#2c8534"/><rect x="144.65" y="223.80" width="1.40" height="7.00" fill="#12586e"/><rect x="148.19" y="223.80" width="1.40" height="7.00" fill="#12586e"/><rect x="149.86" y="223.80" width="1.10" height="7.00" fill="#17607a"/><rect x="151.25" y="223.80" width="0.90" height="7.00" fill="#2c8534"/><rect x="159.73" y="223.80" width="0.50" height="7.00" fill="#2a8a5a"/><rect x="161.01" y="223.80" width="1.40" height="7.00" fill="#2a8236"/><rect x="164.17" y="223.80" width="0.50" height="7.00" fill="#2a8a5a"/><rect x="164.75" y="223.80" width="0.70" height="7.00" fill="#2c8534"/><rect x="166.02" y="223.80" width="0.90" height="7.00" fill="#3f922e"/><rect x="167.52" y="223.80" width="1.80" height="7.00" fill="#2a8236"/><rect x="171.51" y="223.80" width="0.50" height="7.00" fill="#2a8a5a"/><rect x="175.39" y="223.80" width="1.80" height="7.00" fill="#2a8236"/><rect x="178.70" y="223.80" width="0.70" height="7.00" fill="#1a6a80"/><rect x="181.17" y="223.80" width="1.40" height="7.00" fill="#1e7040"/><rect x="186.08" y="223.80" width="1.10" height="7.00" fill="#1a6a80"/><rect x="188.14" y="223.80" width="1.40" height="7.00" fill="#17607a"/><rect x="193.25" y="223.80" width="1.10" height="7.00" fill="#3f922e"/><rect x="199.25" y="223.80" width="0.50" height="7.00" fill="#8fd150"/><rect x="199.80" y="223.80" width="0.50" height="7.00" fill="#12586e"/><rect x="203.17" y="223.80" width="0.90" height="7.00" fill="#3f922e"/><rect x="204.61" y="223.80" width="0.50" height="7.00" fill="#2c8534"/><rect x="206.01" y="223.80" width="1.80" height="7.00" fill="#2a8236"/><rect x="217.56" y="223.80" width="0.50" height="7.00" fill="#3f922e"/><rect x="218.42" y="223.80" width="1.80" height="7.00" fill="#2a8a5a"/><rect x="221.06" y="223.80" width="1.40" height="7.00" fill="#1e7040"/><rect x="222.53" y="223.80" width="0.70" height="7.00" fill="#1e7040"/><rect x="225.05" y="223.80" width="1.40" height="7.00" fill="#2a8a5a"/><rect x="227.65" y="223.80" width="1.10" height="7.00" fill="#12586e"/><rect x="228.86" y="223.80" width="0.70" height="7.00" fill="#2c8534"/><rect x="229.66" y="223.80" width="1.40" height="7.00" fill="#2a8a5a"/><rect x="233.94" y="223.80" width="1.10" height="7.00" fill="#2a8236"/><rect x="238.66" y="223.80" width="1.80" height="7.00" fill="#17607a"/><rect x="241.27" y="223.80" width="0.90" height="7.00" fill="#2a8a5a"/><rect x="243.06" y="223.80" width="0.50" height="7.00" fill="#1e7040"/><rect x="245.94" y="223.80" width="1.80" height="7.00" fill="#1a6a80"/><rect x="248.84" y="223.80" width="1.80" height="7.00" fill="#2a8236"/><rect x="251.13" y="223.80" width="1.10" height="7.00" fill="#8fd150"/><rect x="257.60" y="223.80" width="0.50" height="7.00" fill="#2a8236"/><rect x="262.25" y="223.80" width="0.90" height="7.00" fill="#2a8236"/><rect x="266.01" y="223.80" width="0.70" height="7.00" fill="#17607a"/><rect x="267.47" y="223.80" width="1.80" height="7.00" fill="#12586e"/><rect x="269.70" y="223.80" width="1.10" height="7.00" fill="#3f922e"/><rect x="276.50" y="223.80" width="0.90" height="7.00" fill="#2a8236"/><rect x="278.76" y="223.80" width="1.80" height="7.00" fill="#1e7040"/><rect x="285.91" y="223.80" width="0.70" height="7.00" fill="#12586e"/><rect x="287.89" y="223.80" width="1.80" height="7.00" fill="#12586e"/><rect x="290.29" y="223.80" width="0.90" height="7.00" fill="#8fd150"/><rect x="291.68" y="223.80" width="1.40" height="7.00" fill="#12586e"/><rect x="296.49" y="223.80" width="1.10" height="7.00" fill="#1a6a80"/><rect x="298.20" y="223.80" width="1.40" height="7.00" fill="#2c8534"/><rect x="305.52" y="223.80" width="0.90" height="7.00" fill="#1e7040"/><rect x="309.55" y="223.80" width="1.10" height="7.00" fill="#12586e"/><rect x="314.16" y="223.80" width="0.70" height="7.00" fill="#1e7040"/><rect x="322.11" y="223.80" width="0.50" height="7.00" fill="#3f922e"/><rect x="322.77" y="223.80" width="0.70" height="7.00" fill="#12586e"/><rect x="324.10" y="223.80" width="0.70" height="7.00" fill="#3f922e"/><rect x="324.80" y="223.80" width="1.40" height="7.00" fill="#3f922e"/><rect x="326.54" y="223.80" width="0.50" height="7.00" fill="#12586e"/><rect x="327.19" y="223.80" width="1.80" height="7.00" fill="#1e7040"/><rect x="331.41" y="223.80" width="0.50" height="7.00" fill="#1a6a80"/><rect x="333.91" y="223.80" width="0.90" height="7.00" fill="#3f922e"/><rect x="337.26" y="223.80" width="1.10" height="7.00" fill="#12586e"/><rect x="340.63" y="223.80" width="1.80" height="7.00" fill="#3f922e"/><rect x="350.56" y="223.80" width="1.80" height="7.00" fill="#2a8236"/><rect x="356.97" y="223.80" width="0.70" height="7.00" fill="#3f922e"/><rect x="358.61" y="223.80" width="1.80" height="7.00" fill="#2a8a5a"/><rect x="360.58" y="223.80" width="0.70" height="7.00" fill="#3f922e"/><rect x="367.56" y="223.80" width="0.90" height="7.00" fill="#3f922e"/><rect x="368.77" y="223.80" width="0.50" height="7.00" fill="#17607a"/><rect x="376.45" y="223.80" width="0.90" height="7.00" fill="#1a6a80"/><rect x="378.31" y="223.80" width="1.10" height="7.00" fill="#2c8534"/><rect x="379.84" y="223.80" width="0.90" height="7.00" fill="#2c8534"/><rect x="381.50" y="223.80" width="0.90" height="7.00" fill="#2a8a5a"/><rect x="391.53" y="223.80" width="1.40" height="7.00" fill="#3f922e"/><rect x="394.71" y="223.80" width="0.50" height="7.00" fill="#8fd150"/><rect x="397.45" y="223.80" width="1.40" height="7.00" fill="#1e7040"/><rect x="403.79" y="223.80" width="0.70" height="7.00" fill="#8fd150"/><rect x="404.92" y="223.80" width="1.40" height="7.00" fill="#2a8236"/><rect x="421.14" y="223.80" width="0.90" height="7.00" fill="#1a6a80"/><rect x="424.38" y="223.80" width="0.50" height="7.00" fill="#3f922e"/><rect x="426.88" y="223.80" width="0.70" height="7.00" fill="#1e7040"/><rect x="428.77" y="223.80" width="1.80" height="7.00" fill="#2c8534"/><rect x="437.60" y="223.80" width="0.70" height="7.00" fill="#17607a"/><rect x="441.14" y="223.80" width="1.10" height="7.00" fill="#2a8236"/><rect x="445.55" y="223.80" width="1.10" height="7.00" fill="#17607a"/><rect x="447.32" y="223.80" width="0.90" height="7.00" fill="#2a8236"/><rect x="448.57" y="223.80" width="0.50" height="7.00" fill="#17607a"/><rect x="449.77" y="223.80" width="0.50" height="7.00" fill="#17607a"/><rect x="451.16" y="223.80" width="1.80" height="7.00" fill="#1a6a80"/><rect x="457.06" y="223.80" width="0.50" height="7.00" fill="#1a6a80"/><rect x="461.99" y="223.80" width="1.40" height="7.00" fill="#12586e"/><rect x="465.92" y="223.80" width="0.70" height="7.00" fill="#2a8a5a"/><rect x="470.45" y="223.80" width="0.90" height="7.00" fill="#17607a"/><rect x="474.94" y="223.80" width="1.40" height="7.00" fill="#2c8534"/><rect x="483.48" y="223.80" width="1.80" height="7.00" fill="#12586e"/><rect x="486.14" y="223.80" width="1.10" height="7.00" fill="#2a8a5a"/><rect x="487.97" y="223.80" width="0.70" height="7.00" fill="#12586e"/><rect x="491.95" y="223.80" width="0.90" height="7.00" fill="#2a8236"/><rect x="500.33" y="223.80" width="1.40" height="7.00" fill="#12586e"/>
<rect x="67.00" y="268.60" width="434.90" height="7.10" fill="#19b2d5"/>
<rect x="72.95" y="268.60" width="0.90" height="7.10" fill="#0f6aa4"/><rect x="76.24" y="268.60" width="0.50" height="7.10" fill="#0e72ae"/><rect x="78.75" y="268.60" width="1.10" height="7.10" fill="#1590c4"/><rect x="80.42" y="268.60" width="1.80" height="7.10" fill="#0b4f80"/><rect x="82.89" y="268.60" width="0.50" height="7.10" fill="#0b4f80"/><rect x="83.68" y="268.60" width="0.50" height="7.10" fill="#0b4f80"/><rect x="84.24" y="268.60" width="1.10" height="7.10" fill="#0e72ae"/><rect x="89.26" y="268.60" width="0.90" height="7.10" fill="#0c5a8e"/><rect x="92.54" y="268.60" width="0.50" height="7.10" fill="#1590c4"/><rect x="93.69" y="268.60" width="1.40" height="7.10" fill="#1280b8"/><rect x="98.89" y="268.60" width="1.40" height="7.10" fill="#1280b8"/><rect x="101.17" y="268.60" width="1.40" height="7.10" fill="#1280b8"/><rect x="102.81" y="268.60" width="1.40" height="7.10" fill="#0b4f80"/><rect x="107.58" y="268.60" width="0.70" height="7.10" fill="#0b4f80"/><rect x="111.03" y="268.60" width="1.80" height="7.10" fill="#1590c4"/><rect x="114.86" y="268.60" width="0.70" height="7.10" fill="#0c5a8e"/><rect x="115.88" y="268.60" width="1.40" height="7.10" fill="#0f6aa4"/><rect x="117.39" y="268.60" width="1.10" height="7.10" fill="#3cc0ea"/><rect x="119.37" y="268.60" width="1.40" height="7.10" fill="#1280b8"/><rect x="122.00" y="268.60" width="0.50" height="7.10" fill="#3cc0ea"/><rect x="123.47" y="268.60" width="1.40" height="7.10" fill="#0b4f80"/><rect x="125.52" y="268.60" width="1.40" height="7.10" fill="#1590c4"/><rect x="129.50" y="268.60" width="0.50" height="7.10" fill="#0f6aa4"/><rect x="134.23" y="268.60" width="1.80" height="7.10" fill="#0b4f80"/><rect x="137.09" y="268.60" width="0.70" height="7.10" fill="#1590c4"/><rect x="140.18" y="268.60" width="1.80" height="7.10" fill="#0e72ae"/><rect x="143.58" y="268.60" width="0.70" height="7.10" fill="#1280b8"/><rect x="146.93" y="268.60" width="0.50" height="7.10" fill="#0e72ae"/><rect x="147.91" y="268.60" width="0.50" height="7.10" fill="#0c5a8e"/><rect x="148.44" y="268.60" width="1.80" height="7.10" fill="#0c5a8e"/><rect x="158.17" y="268.60" width="1.80" height="7.10" fill="#0b4f80"/><rect x="160.23" y="268.60" width="1.80" height="7.10" fill="#1280b8"/><rect x="163.83" y="268.60" width="1.10" height="7.10" fill="#1280b8"/><rect x="165.74" y="268.60" width="0.50" height="7.10" fill="#0c5a8e"/><rect x="174.26" y="268.60" width="1.10" height="7.10" fill="#0c5a8e"/><rect x="175.65" y="268.60" width="0.50" height="7.10" fill="#1590c4"/><rect x="178.24" y="268.60" width="1.80" height="7.10" fill="#0c5a8e"/><rect x="180.32" y="268.60" width="0.90" height="7.10" fill="#1590c4"/><rect x="182.79" y="268.60" width="0.50" height="7.10" fill="#1280b8"/><rect x="189.23" y="268.60" width="1.80" height="7.10" fill="#1590c4"/><rect x="194.14" y="268.60" width="1.40" height="7.10" fill="#0e72ae"/><rect x="198.69" y="268.60" width="0.50" height="7.10" fill="#0c5a8e"/><rect x="200.12" y="268.60" width="1.40" height="7.10" fill="#0e72ae"/><rect x="205.46" y="268.60" width="0.90" height="7.10" fill="#1280b8"/><rect x="206.66" y="268.60" width="0.90" height="7.10" fill="#1590c4"/><rect x="216.50" y="268.60" width="0.90" height="7.10" fill="#0e72ae"/><rect x="217.88" y="268.60" width="0.70" height="7.10" fill="#0f6aa4"/><rect x="220.78" y="268.60" width="0.90" height="7.10" fill="#0f6aa4"/><rect x="227.49" y="268.60" width="0.70" height="7.10" fill="#0b4f80"/><rect x="240.06" y="268.60" width="1.10" height="7.10" fill="#3cc0ea"/><rect x="242.26" y="268.60" width="0.50" height="7.10" fill="#1280b8"/><rect x="246.45" y="268.60" width="0.70" height="7.10" fill="#0e72ae"/><rect x="251.36" y="268.60" width="0.70" height="7.10" fill="#1280b8"/><rect x="254.89" y="268.60" width="0.70" height="7.10" fill="#0e72ae"/><rect x="257.04" y="268.60" width="0.50" height="7.10" fill="#3cc0ea"/><rect x="259.97" y="268.60" width="1.10" height="7.10" fill="#1590c4"/><rect x="263.10" y="268.60" width="1.40" height="7.10" fill="#3cc0ea"/><rect x="265.18" y="268.60" width="0.50" height="7.10" fill="#1280b8"/><rect x="266.94" y="268.60" width="1.10" height="7.10" fill="#1280b8"/><rect x="269.67" y="268.60" width="1.80" height="7.10" fill="#0e72ae"/><rect x="274.52" y="268.60" width="0.90" height="7.10" fill="#0e72ae"/><rect x="279.78" y="268.60" width="0.90" height="7.10" fill="#3cc0ea"/><rect x="281.14" y="268.60" width="0.90" height="7.10" fill="#1280b8"/><rect x="287.85" y="268.60" width="1.10" height="7.10" fill="#0b4f80"/><rect x="294.69" y="268.60" width="1.40" height="7.10" fill="#3cc0ea"/><rect x="296.33" y="268.60" width="1.80" height="7.10" fill="#0c5a8e"/><rect x="309.94" y="268.60" width="0.90" height="7.10" fill="#1590c4"/><rect x="312.07" y="268.60" width="1.40" height="7.10" fill="#0b4f80"/><rect x="314.34" y="268.60" width="0.50" height="7.10" fill="#0b4f80"/><rect x="320.05" y="268.60" width="0.50" height="7.10" fill="#3cc0ea"/><rect x="321.31" y="268.60" width="0.50" height="7.10" fill="#0b4f80"/><rect x="323.20" y="268.60" width="0.50" height="7.10" fill="#0f6aa4"/><rect x="324.30" y="268.60" width="0.90" height="7.10" fill="#1590c4"/><rect x="330.04" y="268.60" width="1.40" height="7.10" fill="#0f6aa4"/><rect x="335.02" y="268.60" width="0.70" height="7.10" fill="#0e72ae"/><rect x="338.75" y="268.60" width="1.40" height="7.10" fill="#3cc0ea"/><rect x="342.77" y="268.60" width="0.50" height="7.10" fill="#1590c4"/><rect x="353.23" y="268.60" width="0.50" height="7.10" fill="#1590c4"/><rect x="354.12" y="268.60" width="0.50" height="7.10" fill="#1590c4"/><rect x="355.55" y="268.60" width="1.80" height="7.10" fill="#3cc0ea"/><rect x="361.58" y="268.60" width="1.40" height="7.10" fill="#1280b8"/><rect x="365.44" y="268.60" width="0.50" height="7.10" fill="#0f6aa4"/><rect x="366.02" y="268.60" width="0.90" height="7.10" fill="#1280b8"/><rect x="367.39" y="268.60" width="0.50" height="7.10" fill="#0c5a8e"/><rect x="376.98" y="268.60" width="0.70" height="7.10" fill="#1280b8"/><rect x="378.35" y="268.60" width="1.40" height="7.10" fill="#0e72ae"/><rect x="380.95" y="268.60" width="1.80" height="7.10" fill="#0c5a8e"/><rect x="384.94" y="268.60" width="1.80" height="7.10" fill="#3cc0ea"/><rect x="392.54" y="268.60" width="1.10" height="7.10" fill="#1590c4"/><rect x="394.92" y="268.60" width="0.90" height="7.10" fill="#3cc0ea"/><rect x="397.62" y="268.60" width="0.50" height="7.10" fill="#1280b8"/><rect x="398.75" y="268.60" width="1.80" height="7.10" fill="#1590c4"/><rect x="401.57" y="268.60" width="0.70" height="7.10" fill="#0e72ae"/><rect x="402.38" y="268.60" width="0.50" height="7.10" fill="#0e72ae"/><rect x="407.49" y="268.60" width="1.10" height="7.10" fill="#0e72ae"/><rect x="409.35" y="268.60" width="0.90" height="7.10" fill="#1280b8"/><rect x="413.21" y="268.60" width="0.50" height="7.10" fill="#0b4f80"/><rect x="415.07" y="268.60" width="0.70" height="7.10" fill="#1280b8"/><rect x="417.60" y="268.60" width="1.40" height="7.10" fill="#1280b8"/><rect x="425.11" y="268.60" width="1.40" height="7.10" fill="#0e72ae"/><rect x="427.04" y="268.60" width="1.40" height="7.10" fill="#0b4f80"/><rect x="431.33" y="268.60" width="0.70" height="7.10" fill="#0e72ae"/><rect x="433.65" y="268.60" width="0.50" height="7.10" fill="#1280b8"/><rect x="436.85" y="268.60" width="1.10" height="7.10" fill="#3cc0ea"/><rect x="441.52" y="268.60" width="0.50" height="7.10" fill="#0e72ae"/><rect x="443.17" y="268.60" width="1.10" height="7.10" fill="#3cc0ea"/><rect x="444.76" y="268.60" width="1.80" height="7.10" fill="#0f6aa4"/><rect x="451.01" y="268.60" width="1.40" height="7.10" fill="#0b4f80"/><rect x="456.12" y="268.60" width="1.40" height="7.10" fill="#0f6aa4"/><rect x="459.23" y="268.60" width="1.10" height="7.10" fill="#1590c4"/><rect x="464.60" y="268.60" width="1.80" height="7.10" fill="#0f6aa4"/><rect x="466.45" y="268.60" width="1.40" height="7.10" fill="#0c5a8e"/><rect x="470.61" y="268.60" width="1.40" height="7.10" fill="#1280b8"/><rect x="472.85" y="268.60" width="0.90" height="7.10" fill="#3cc0ea"/><rect x="475.56" y="268.60" width="1.10" height="7.10" fill="#3cc0ea"/><rect x="485.44" y="268.60" width="0.90" height="7.10" fill="#1280b8"/><rect x="490.51" y="268.60" width="0.70" height="7.10" fill="#1590c4"/><rect x="494.32" y="268.60" width="0.50" height="7.10" fill="#1590c4"/><rect x="501.79" y="268.60" width="0.11" height="7.10" fill="#3cc0ea"/>
<text x="146.25" y="283.9" font-size="7.8" fill="#3aa0d2" text-anchor="middle" font-weight="normal" font-style="normal" textLength="42.1" lengthAdjust="spacingAndGlyphs" stroke="#3aa0d2" stroke-width="0.08">155,456,141</text>
<text x="476.15" y="283.6" font-size="7.8" fill="#da513b" text-anchor="middle" font-weight="normal" font-style="normal" textLength="42.7" lengthAdjust="spacingAndGlyphs" stroke="#da513b" stroke-width="0.08">154,888,832</text>
<text transform="translate(16.2,249.8) rotate(-90)" x="0" y="0" font-size="8.9" fill="#333" font-weight="bold" text-anchor="middle" textLength="26.2" lengthAdjust="spacingAndGlyphs">Sample 2</text>
<path d="M30.599999999999998,224.0 Q25.9,224.0 25.9,228.0 L25.9,247.3 Q25.9,249.8 21.7,249.8 Q25.9,249.8 25.9,252.3 L25.9,271.8 Q25.9,275.8 30.599999999999998,275.8" fill="none" stroke="#6a6a6a" stroke-width="1.1"/>
<text x="30.2" y="230.0" font-size="7.9" fill="#222" text-anchor="start" font-weight="normal" font-style="normal" textLength="29.8" lengthAdjust="spacingAndGlyphs" stroke="#222" stroke-width="0.08">Ref allele</text>
<text x="30.2" y="274.0" font-size="7.9" fill="#222" text-anchor="start" font-weight="normal" font-style="normal" textLength="34.4" lengthAdjust="spacingAndGlyphs" stroke="#222" stroke-width="0.08">MUT allele</text>
<text x="142.85" y="301.6" font-size="7.8" fill="#da513b" text-anchor="middle" font-weight="normal" font-style="normal" textLength="42.3" lengthAdjust="spacingAndGlyphs" stroke="#da513b" stroke-width="0.08">154,888,832</text>
<text x="476.25" y="301.3" font-size="7.8" fill="#3aa0d2" text-anchor="middle" font-weight="normal" font-style="normal" textLength="42.1" lengthAdjust="spacingAndGlyphs" stroke="#3aa0d2" stroke-width="0.08">155,456,141</text>
<line x1="98.05" y1="311.80" x2="98.05" y2="326.70" stroke="#cdcdcd" stroke-width="0.6"/><line x1="98.18" y1="311.80" x2="98.18" y2="326.70" stroke="#d2d2d2" stroke-width="0.6"/><line x1="69.59" y1="311.80" x2="69.59" y2="326.70" stroke="#d6d6d6" stroke-width="0.6"/><line x1="69.39" y1="311.80" x2="69.39" y2="326.70" stroke="#dedede" stroke-width="0.6"/><line x1="86.90" y1="311.80" x2="86.90" y2="326.70" stroke="#d2d2d2" stroke-width="0.6"/><line x1="86.70" y1="311.80" x2="86.70" y2="326.70" stroke="#d2d2d2" stroke-width="0.6"/><line x1="110.15" y1="311.80" x2="110.15" y2="326.70" stroke="#c4c4c4" stroke-width="0.6"/><line x1="108.91" y1="311.80" x2="108.91" y2="326.70" stroke="#cdcdcd" stroke-width="0.6"/><line x1="108.19" y1="311.80" x2="108.19" y2="326.70" stroke="#d2d2d2" stroke-width="0.6"/><line x1="109.02" y1="311.80" x2="109.02" y2="326.70" stroke="#d2d2d2" stroke-width="0.6"/><line x1="107.66" y1="311.80" x2="107.66" y2="326.70" stroke="#cdcdcd" stroke-width="0.6"/><line x1="132.59" y1="311.80" x2="132.59" y2="326.70" stroke="#cdcdcd" stroke-width="0.6"/><line x1="133.57" y1="311.80" x2="133.57" y2="326.70" stroke="#d6d6d6" stroke-width="0.6"/><line x1="125.54" y1="311.80" x2="125.54" y2="326.70" stroke="#d2d2d2" stroke-width="0.6"/><line x1="126.28" y1="311.80" x2="126.28" y2="326.70" stroke="#c4c4c4" stroke-width="0.6"/><line x1="93.16" y1="311.80" x2="93.16" y2="326.70" stroke="#d2d2d2" stroke-width="0.6"/><line x1="118.66" y1="311.80" x2="118.66" y2="326.70" stroke="#d6d6d6" stroke-width="0.6"/><line x1="119.92" y1="311.80" x2="119.92" y2="326.70" stroke="#d6d6d6" stroke-width="0.6"/><line x1="126.83" y1="311.80" x2="126.83" y2="326.70" stroke="#cdcdcd" stroke-width="0.6"/><line x1="126.97" y1="311.80" x2="126.97" y2="326.70" stroke="#d2d2d2" stroke-width="0.6"/><line x1="126.58" y1="311.80" x2="126.58" y2="326.70" stroke="#d2d2d2" stroke-width="0.6"/><line x1="130.96" y1="311.80" x2="130.96" y2="326.70" stroke="#cdcdcd" stroke-width="0.6"/><line x1="130.94" y1="311.80" x2="130.94" y2="326.70" stroke="#d6d6d6" stroke-width="0.6"/><line x1="76.29" y1="311.80" x2="76.29" y2="326.70" stroke="#cdcdcd" stroke-width="0.6"/><line x1="76.34" y1="311.80" x2="76.34" y2="326.70" stroke="#dedede" stroke-width="0.6"/><line x1="103.35" y1="311.80" x2="103.35" y2="326.70" stroke="#dedede" stroke-width="0.6"/><line x1="76.27" y1="311.80" x2="76.27" y2="326.70" stroke="#c4c4c4" stroke-width="0.6"/><line x1="76.03" y1="311.80" x2="76.03" y2="326.70" stroke="#d6d6d6" stroke-width="0.6"/><line x1="129.46" y1="311.80" x2="129.46" y2="326.70" stroke="#c4c4c4" stroke-width="0.6"/><line x1="104.29" y1="311.80" x2="104.29" y2="326.70" stroke="#d2d2d2" stroke-width="0.6"/><line x1="104.77" y1="311.80" x2="104.77" y2="326.70" stroke="#d6d6d6" stroke-width="0.6"/><line x1="104.91" y1="311.80" x2="104.91" y2="326.70" stroke="#d2d2d2" stroke-width="0.6"/><line x1="107.47" y1="311.80" x2="107.47" y2="326.70" stroke="#c4c4c4" stroke-width="0.6"/><line x1="105.43" y1="311.80" x2="105.43" y2="326.70" stroke="#c4c4c4" stroke-width="0.6"/>
<line x1="146.78" y1="311.80" x2="146.78" y2="326.70" stroke="#cdcdcd" stroke-width="0.6"/><line x1="190.05" y1="311.80" x2="190.05" y2="326.70" stroke="#d6d6d6" stroke-width="0.6"/><line x1="191.70" y1="311.80" x2="191.70" y2="326.70" stroke="#d2d2d2" stroke-width="0.6"/><line x1="387.52" y1="311.80" x2="387.52" y2="326.70" stroke="#cdcdcd" stroke-width="0.6"/><line x1="386.02" y1="311.80" x2="386.02" y2="326.70" stroke="#dedede" stroke-width="0.6"/><line x1="386.40" y1="311.80" x2="386.40" y2="326.70" stroke="#d6d6d6" stroke-width="0.6"/><line x1="252.69" y1="311.80" x2="252.69" y2="326.70" stroke="#d6d6d6" stroke-width="0.6"/><line x1="253.05" y1="311.80" x2="253.05" y2="326.70" stroke="#d2d2d2" stroke-width="0.6"/><line x1="163.15" y1="311.80" x2="163.15" y2="326.70" stroke="#d6d6d6" stroke-width="0.6"/><line x1="192.80" y1="311.80" x2="192.80" y2="326.70" stroke="#dedede" stroke-width="0.6"/><line x1="192.73" y1="311.80" x2="192.73" y2="326.70" stroke="#d6d6d6" stroke-width="0.6"/><line x1="211.81" y1="311.80" x2="211.81" y2="326.70" stroke="#d6d6d6" stroke-width="0.6"/><line x1="212.51" y1="311.80" x2="212.51" y2="326.70" stroke="#c4c4c4" stroke-width="0.6"/><line x1="255.08" y1="311.80" x2="255.08" y2="326.70" stroke="#c4c4c4" stroke-width="0.6"/><line x1="256.07" y1="311.80" x2="256.07" y2="326.70" stroke="#cdcdcd" stroke-width="0.6"/><line x1="405.92" y1="311.80" x2="405.92" y2="326.70" stroke="#d2d2d2" stroke-width="0.6"/><line x1="406.69" y1="311.80" x2="406.69" y2="326.70" stroke="#c4c4c4" stroke-width="0.6"/><line x1="174.89" y1="311.80" x2="174.89" y2="326.70" stroke="#c4c4c4" stroke-width="0.6"/><line x1="373.90" y1="311.80" x2="373.90" y2="326.70" stroke="#c4c4c4" stroke-width="0.6"/><line x1="358.80" y1="311.80" x2="358.80" y2="326.70" stroke="#c4c4c4" stroke-width="0.6"/><line x1="290.41" y1="311.80" x2="290.41" y2="326.70" stroke="#cdcdcd" stroke-width="0.6"/><line x1="432.51" y1="311.80" x2="432.51" y2="326.70" stroke="#d6d6d6" stroke-width="0.6"/><line x1="380.39" y1="311.80" x2="380.39" y2="326.70" stroke="#d2d2d2" stroke-width="0.6"/><line x1="235.84" y1="311.80" x2="235.84" y2="326.70" stroke="#d2d2d2" stroke-width="0.6"/><line x1="234.50" y1="311.80" x2="234.50" y2="326.70" stroke="#cdcdcd" stroke-width="0.6"/><line x1="305.81" y1="311.80" x2="305.81" y2="326.70" stroke="#cdcdcd" stroke-width="0.6"/><line x1="304.14" y1="311.80" x2="304.14" y2="326.70" stroke="#dedede" stroke-width="0.6"/><line x1="304.36" y1="311.80" x2="304.36" y2="326.70" stroke="#cdcdcd" stroke-width="0.6"/><line x1="175.26" y1="311.80" x2="175.26" y2="326.70" stroke="#cdcdcd" stroke-width="0.6"/><line x1="175.20" y1="311.80" x2="175.20" y2="326.70" stroke="#d2d2d2" stroke-width="0.6"/><line x1="176.24" y1="311.80" x2="176.24" y2="326.70" stroke="#cdcdcd" stroke-width="0.6"/><line x1="451.20" y1="311.80" x2="451.20" y2="326.70" stroke="#c4c4c4" stroke-width="0.6"/><line x1="372.73" y1="311.80" x2="372.73" y2="326.70" stroke="#d2d2d2" stroke-width="0.6"/><line x1="372.76" y1="311.80" x2="372.76" y2="326.70" stroke="#d2d2d2" stroke-width="0.6"/><line x1="372.20" y1="311.80" x2="372.20" y2="326.70" stroke="#d2d2d2" stroke-width="0.6"/><line x1="208.59" y1="311.80" x2="208.59" y2="326.70" stroke="#dedede" stroke-width="0.6"/><line x1="207.88" y1="311.80" x2="207.88" y2="326.70" stroke="#c4c4c4" stroke-width="0.6"/><line x1="207.51" y1="311.80" x2="207.51" y2="326.70" stroke="#c4c4c4" stroke-width="0.6"/><line x1="391.00" y1="311.80" x2="391.00" y2="326.70" stroke="#d6d6d6" stroke-width="0.6"/><line x1="389.75" y1="311.80" x2="389.75" y2="326.70" stroke="#cdcdcd" stroke-width="0.6"/><line x1="386.63" y1="311.80" x2="386.63" y2="326.70" stroke="#c4c4c4" stroke-width="0.6"/><line x1="211.07" y1="311.80" x2="211.07" y2="326.70" stroke="#c4c4c4" stroke-width="0.6"/><line x1="212.05" y1="311.80" x2="212.05" y2="326.70" stroke="#cdcdcd" stroke-width="0.6"/><line x1="153.95" y1="311.80" x2="153.95" y2="326.70" stroke="#d2d2d2" stroke-width="0.6"/><line x1="153.76" y1="311.80" x2="153.76" y2="326.70" stroke="#c4c4c4" stroke-width="0.6"/><line x1="153.79" y1="311.80" x2="153.79" y2="326.70" stroke="#cdcdcd" stroke-width="0.6"/><line x1="414.36" y1="311.80" x2="414.36" y2="326.70" stroke="#c4c4c4" stroke-width="0.6"/><line x1="414.61" y1="311.80" x2="414.61" y2="326.70" stroke="#c4c4c4" stroke-width="0.6"/><line x1="180.64" y1="311.80" x2="180.64" y2="326.70" stroke="#d2d2d2" stroke-width="0.6"/><line x1="374.08" y1="311.80" x2="374.08" y2="326.70" stroke="#d6d6d6" stroke-width="0.6"/><line x1="373.66" y1="311.80" x2="373.66" y2="326.70" stroke="#cdcdcd" stroke-width="0.6"/><line x1="304.59" y1="311.80" x2="304.59" y2="326.70" stroke="#cdcdcd" stroke-width="0.6"/><line x1="303.16" y1="311.80" x2="303.16" y2="326.70" stroke="#c4c4c4" stroke-width="0.6"/><line x1="394.35" y1="311.80" x2="394.35" y2="326.70" stroke="#c4c4c4" stroke-width="0.6"/><line x1="394.79" y1="311.80" x2="394.79" y2="326.70" stroke="#d6d6d6" stroke-width="0.6"/><line x1="223.05" y1="311.80" x2="223.05" y2="326.70" stroke="#c4c4c4" stroke-width="0.6"/><line x1="424.54" y1="311.80" x2="424.54" y2="326.70" stroke="#d2d2d2" stroke-width="0.6"/><line x1="425.65" y1="311.80" x2="425.65" y2="326.70" stroke="#c4c4c4" stroke-width="0.6"/><line x1="426.08" y1="311.80" x2="426.08" y2="326.70" stroke="#d2d2d2" stroke-width="0.6"/><line x1="455.29" y1="311.80" x2="455.29" y2="326.70" stroke="#d6d6d6" stroke-width="0.6"/><line x1="455.53" y1="311.80" x2="455.53" y2="326.70" stroke="#d6d6d6" stroke-width="0.6"/><line x1="397.60" y1="311.80" x2="397.60" y2="326.70" stroke="#d6d6d6" stroke-width="0.6"/><line x1="159.17" y1="311.80" x2="159.17" y2="326.70" stroke="#cdcdcd" stroke-width="0.6"/><line x1="160.26" y1="311.80" x2="160.26" y2="326.70" stroke="#cdcdcd" stroke-width="0.6"/><line x1="252.21" y1="311.80" x2="252.21" y2="326.70" stroke="#cdcdcd" stroke-width="0.6"/><line x1="251.92" y1="311.80" x2="251.92" y2="326.70" stroke="#cdcdcd" stroke-width="0.6"/><line x1="453.65" y1="311.80" x2="453.65" y2="326.70" stroke="#d6d6d6" stroke-width="0.6"/><line x1="168.89" y1="311.80" x2="168.89" y2="326.70" stroke="#dedede" stroke-width="0.6"/><line x1="169.71" y1="311.80" x2="169.71" y2="326.70" stroke="#cdcdcd" stroke-width="0.6"/><line x1="443.21" y1="311.80" x2="443.21" y2="326.70" stroke="#dedede" stroke-width="0.6"/><line x1="443.03" y1="311.80" x2="443.03" y2="326.70" stroke="#cdcdcd" stroke-width="0.6"/><line x1="453.90" y1="311.80" x2="453.90" y2="326.70" stroke="#dedede" stroke-width="0.6"/><line x1="453.56" y1="311.80" x2="453.56" y2="326.70" stroke="#d6d6d6" stroke-width="0.6"/><line x1="457.27" y1="311.80" x2="457.27" y2="326.70" stroke="#dedede" stroke-width="0.6"/><line x1="457.29" y1="311.80" x2="457.29" y2="326.70" stroke="#d6d6d6" stroke-width="0.6"/><line x1="414.43" y1="311.80" x2="414.43" y2="326.70" stroke="#d2d2d2" stroke-width="0.6"/><line x1="413.95" y1="311.80" x2="413.95" y2="326.70" stroke="#cdcdcd" stroke-width="0.6"/><line x1="414.50" y1="311.80" x2="414.50" y2="326.70" stroke="#d6d6d6" stroke-width="0.6"/><line x1="433.72" y1="311.80" x2="433.72" y2="326.70" stroke="#d6d6d6" stroke-width="0.6"/><line x1="433.11" y1="311.80" x2="433.11" y2="326.70" stroke="#dedede" stroke-width="0.6"/><line x1="220.12" y1="311.80" x2="220.12" y2="326.70" stroke="#c4c4c4" stroke-width="0.6"/><line x1="219.98" y1="311.80" x2="219.98" y2="326.70" stroke="#d2d2d2" stroke-width="0.6"/><line x1="289.27" y1="311.80" x2="289.27" y2="326.70" stroke="#d6d6d6" stroke-width="0.6"/><line x1="290.37" y1="311.80" x2="290.37" y2="326.70" stroke="#d6d6d6" stroke-width="0.6"/><line x1="181.78" y1="311.80" x2="181.78" y2="326.70" stroke="#dedede" stroke-width="0.6"/><line x1="286.70" y1="311.80" x2="286.70" y2="326.70" stroke="#d2d2d2" stroke-width="0.6"/><line x1="432.75" y1="311.80" x2="432.75" y2="326.70" stroke="#dedede" stroke-width="0.6"/><line x1="431.91" y1="311.80" x2="431.91" y2="326.70" stroke="#c4c4c4" stroke-width="0.6"/><line x1="342.55" y1="311.80" x2="342.55" y2="326.70" stroke="#cdcdcd" stroke-width="0.6"/><line x1="343.79" y1="311.80" x2="343.79" y2="326.70" stroke="#cdcdcd" stroke-width="0.6"/><line x1="373.10" y1="311.80" x2="373.10" y2="326.70" stroke="#d6d6d6" stroke-width="0.6"/><line x1="372.72" y1="311.80" x2="372.72" y2="326.70" stroke="#d2d2d2" stroke-width="0.6"/><line x1="372.81" y1="311.80" x2="372.81" y2="326.70" stroke="#d6d6d6" stroke-width="0.6"/><line x1="230.99" y1="311.80" x2="230.99" y2="326.70" stroke="#dedede" stroke-width="0.6"/><line x1="231.21" y1="311.80" x2="231.21" y2="326.70" stroke="#d2d2d2" stroke-width="0.6"/><line x1="231.85" y1="311.80" x2="231.85" y2="326.70" stroke="#c4c4c4" stroke-width="0.6"/><line x1="392.21" y1="311.80" x2="392.21" y2="326.70" stroke="#d6d6d6" stroke-width="0.6"/><line x1="391.96" y1="311.80" x2="391.96" y2="326.70" stroke="#d2d2d2" stroke-width="0.6"/><line x1="392.25" y1="311.80" x2="392.25" y2="326.70" stroke="#d6d6d6" stroke-width="0.6"/><line x1="284.96" y1="311.80" x2="284.96" y2="326.70" stroke="#d2d2d2" stroke-width="0.6"/><line x1="261.10" y1="311.80" x2="261.10" y2="326.70" stroke="#dedede" stroke-width="0.6"/><line x1="261.36" y1="311.80" x2="261.36" y2="326.70" stroke="#dedede" stroke-width="0.6"/><line x1="266.98" y1="311.80" x2="266.98" y2="326.70" stroke="#c4c4c4" stroke-width="0.6"/><line x1="197.62" y1="311.80" x2="197.62" y2="326.70" stroke="#c4c4c4" stroke-width="0.6"/><line x1="455.26" y1="311.80" x2="455.26" y2="326.70" stroke="#d2d2d2" stroke-width="0.6"/><line x1="239.18" y1="311.80" x2="239.18" y2="326.70" stroke="#cdcdcd" stroke-width="0.6"/><line x1="424.48" y1="311.80" x2="424.48" y2="326.70" stroke="#c4c4c4" stroke-width="0.6"/><line x1="424.84" y1="311.80" x2="424.84" y2="326.70" stroke="#c4c4c4" stroke-width="0.6"/><line x1="314.12" y1="311.80" x2="314.12" y2="326.70" stroke="#cdcdcd" stroke-width="0.6"/><line x1="314.63" y1="311.80" x2="314.63" y2="326.70" stroke="#d2d2d2" stroke-width="0.6"/><line x1="241.33" y1="311.80" x2="241.33" y2="326.70" stroke="#dedede" stroke-width="0.6"/><line x1="466.64" y1="311.80" x2="466.64" y2="326.70" stroke="#d2d2d2" stroke-width="0.6"/><line x1="300.24" y1="311.80" x2="300.24" y2="326.70" stroke="#d6d6d6" stroke-width="0.6"/><line x1="301.31" y1="311.80" x2="301.31" y2="326.70" stroke="#cdcdcd" stroke-width="0.6"/><line x1="353.47" y1="311.80" x2="353.47" y2="326.70" stroke="#d6d6d6" stroke-width="0.6"/><line x1="384.93" y1="311.80" x2="384.93" y2="326.70" stroke="#c4c4c4" stroke-width="0.6"/><line x1="386.17" y1="311.80" x2="386.17" y2="326.70" stroke="#dedede" stroke-width="0.6"/><line x1="385.20" y1="311.80" x2="385.20" y2="326.70" stroke="#dedede" stroke-width="0.6"/><line x1="197.89" y1="311.80" x2="197.89" y2="326.70" stroke="#c4c4c4" stroke-width="0.6"/><line x1="197.21" y1="311.80" x2="197.21" y2="326.70" stroke="#c4c4c4" stroke-width="0.6"/><line x1="465.27" y1="311.80" x2="465.27" y2="326.70" stroke="#d6d6d6" stroke-width="0.6"/><line x1="464.94" y1="311.80" x2="464.94" y2="326.70" stroke="#d2d2d2" stroke-width="0.6"/><line x1="322.59" y1="311.80" x2="322.59" y2="326.70" stroke="#d2d2d2" stroke-width="0.6"/><line x1="410.75" y1="311.80" x2="410.75" y2="326.70" stroke="#d2d2d2" stroke-width="0.6"/><line x1="411.50" y1="311.80" x2="411.50" y2="326.70" stroke="#dedede" stroke-width="0.6"/><line x1="305.45" y1="311.80" x2="305.45" y2="326.70" stroke="#d6d6d6" stroke-width="0.6"/><line x1="306.63" y1="311.80" x2="306.63" y2="326.70" stroke="#cdcdcd" stroke-width="0.6"/><line x1="307.81" y1="311.80" x2="307.81" y2="326.70" stroke="#c4c4c4" stroke-width="0.6"/><line x1="393.54" y1="311.80" x2="393.54" y2="326.70" stroke="#d6d6d6" stroke-width="0.6"/><line x1="393.53" y1="311.80" x2="393.53" y2="326.70" stroke="#d6d6d6" stroke-width="0.6"/><line x1="272.53" y1="311.80" x2="272.53" y2="326.70" stroke="#d2d2d2" stroke-width="0.6"/><line x1="273.72" y1="311.80" x2="273.72" y2="326.70" stroke="#c4c4c4" stroke-width="0.6"/><line x1="155.58" y1="311.80" x2="155.58" y2="326.70" stroke="#cdcdcd" stroke-width="0.6"/><line x1="154.18" y1="311.80" x2="154.18" y2="326.70" stroke="#dedede" stroke-width="0.6"/><line x1="275.12" y1="311.80" x2="275.12" y2="326.70" stroke="#cdcdcd" stroke-width="0.6"/><line x1="277.07" y1="311.80" x2="277.07" y2="326.70" stroke="#dedede" stroke-width="0.6"/><line x1="356.87" y1="311.80" x2="356.87" y2="326.70" stroke="#d6d6d6" stroke-width="0.6"/><line x1="354.72" y1="311.80" x2="354.72" y2="326.70" stroke="#c4c4c4" stroke-width="0.6"/><line x1="458.56" y1="311.80" x2="458.56" y2="326.70" stroke="#d6d6d6" stroke-width="0.6"/><line x1="458.34" y1="311.80" x2="458.34" y2="326.70" stroke="#c4c4c4" stroke-width="0.6"/><line x1="458.99" y1="311.80" x2="458.99" y2="326.70" stroke="#cdcdcd" stroke-width="0.6"/><line x1="366.19" y1="311.80" x2="366.19" y2="326.70" stroke="#d6d6d6" stroke-width="0.6"/><line x1="365.93" y1="311.80" x2="365.93" y2="326.70" stroke="#cdcdcd" stroke-width="0.6"/><line x1="394.88" y1="311.80" x2="394.88" y2="326.70" stroke="#cdcdcd" stroke-width="0.6"/><line x1="395.87" y1="311.80" x2="395.87" y2="326.70" stroke="#d6d6d6" stroke-width="0.6"/><line x1="228.11" y1="311.80" x2="228.11" y2="326.70" stroke="#cdcdcd" stroke-width="0.6"/><line x1="229.64" y1="311.80" x2="229.64" y2="326.70" stroke="#c4c4c4" stroke-width="0.6"/><line x1="269.05" y1="311.80" x2="269.05" y2="326.70" stroke="#c4c4c4" stroke-width="0.6"/><line x1="269.04" y1="311.80" x2="269.04" y2="326.70" stroke="#cdcdcd" stroke-width="0.6"/><line x1="432.99" y1="311.80" x2="432.99" y2="326.70" stroke="#dedede" stroke-width="0.6"/><line x1="431.23" y1="311.80" x2="431.23" y2="326.70" stroke="#dedede" stroke-width="0.6"/><line x1="404.81" y1="311.80" x2="404.81" y2="326.70" stroke="#cdcdcd" stroke-width="0.6"/><line x1="415.61" y1="311.80" x2="415.61" y2="326.70" stroke="#d2d2d2" stroke-width="0.6"/><line x1="414.36" y1="311.80" x2="414.36" y2="326.70" stroke="#d2d2d2" stroke-width="0.6"/><line x1="413.58" y1="311.80" x2="413.58" y2="326.70" stroke="#cdcdcd" stroke-width="0.6"/><line x1="294.68" y1="311.80" x2="294.68" y2="326.70" stroke="#cdcdcd" stroke-width="0.6"/><line x1="372.60" y1="311.80" x2="372.60" y2="326.70" stroke="#c4c4c4" stroke-width="0.6"/><line x1="372.84" y1="311.80" x2="372.84" y2="326.70" stroke="#d2d2d2" stroke-width="0.6"/><line x1="407.12" y1="311.80" x2="407.12" y2="326.70" stroke="#c4c4c4" stroke-width="0.6"/><line x1="406.48" y1="311.80" x2="406.48" y2="326.70" stroke="#d2d2d2" stroke-width="0.6"/><line x1="406.38" y1="311.80" x2="406.38" y2="326.70" stroke="#c4c4c4" stroke-width="0.6"/><line x1="143.60" y1="311.80" x2="143.60" y2="326.70" stroke="#dedede" stroke-width="0.6"/><line x1="188.79" y1="311.80" x2="188.79" y2="326.70" stroke="#d6d6d6" stroke-width="0.6"/><line x1="377.59" y1="311.80" x2="377.59" y2="326.70" stroke="#c4c4c4" stroke-width="0.6"/><line x1="377.18" y1="311.80" x2="377.18" y2="326.70" stroke="#c4c4c4" stroke-width="0.6"/><line x1="411.76" y1="311.80" x2="411.76" y2="326.70" stroke="#c4c4c4" stroke-width="0.6"/><line x1="411.72" y1="311.80" x2="411.72" y2="326.70" stroke="#dedede" stroke-width="0.6"/><line x1="412.62" y1="311.80" x2="412.62" y2="326.70" stroke="#c4c4c4" stroke-width="0.6"/><line x1="324.50" y1="311.80" x2="324.50" y2="326.70" stroke="#cdcdcd" stroke-width="0.6"/><line x1="316.68" y1="311.80" x2="316.68" y2="326.70" stroke="#d2d2d2" stroke-width="0.6"/><line x1="317.26" y1="311.80" x2="317.26" y2="326.70" stroke="#c4c4c4" stroke-width="0.6"/>
<line x1="482.39" y1="311.80" x2="482.39" y2="326.70" stroke="#c4c4c4" stroke-width="0.6"/><line x1="497.09" y1="311.80" x2="497.09" y2="326.70" stroke="#cdcdcd" stroke-width="0.6"/><line x1="483.67" y1="311.80" x2="483.67" y2="326.70" stroke="#d6d6d6" stroke-width="0.6"/><line x1="483.99" y1="311.80" x2="483.99" y2="326.70" stroke="#dedede" stroke-width="0.6"/><line x1="497.79" y1="311.80" x2="497.79" y2="326.70" stroke="#dedede" stroke-width="0.6"/><line x1="493.23" y1="311.80" x2="493.23" y2="326.70" stroke="#c4c4c4" stroke-width="0.6"/><line x1="492.96" y1="311.80" x2="492.96" y2="326.70" stroke="#dedede" stroke-width="0.6"/><line x1="494.01" y1="311.80" x2="494.01" y2="326.70" stroke="#dedede" stroke-width="0.6"/><line x1="500.26" y1="311.80" x2="500.26" y2="326.70" stroke="#cdcdcd" stroke-width="0.6"/><line x1="480.44" y1="311.80" x2="480.44" y2="326.70" stroke="#cdcdcd" stroke-width="0.6"/>
<line x1="143.10" y1="311.80" x2="143.10" y2="326.70" stroke="#d9452a" stroke-width="1.1"/>
<line x1="476.00" y1="311.80" x2="476.00" y2="326.70" stroke="#2c98c8" stroke-width="1.1"/>
<line x1="98.05" y1="333.40" x2="98.05" y2="371.60" stroke="#cdcdcd" stroke-width="0.6"/><line x1="98.18" y1="333.40" x2="98.18" y2="371.60" stroke="#d2d2d2" stroke-width="0.6"/><line x1="69.59" y1="333.40" x2="69.59" y2="371.60" stroke="#d6d6d6" stroke-width="0.6"/><line x1="69.39" y1="333.40" x2="69.39" y2="371.60" stroke="#dedede" stroke-width="0.6"/><line x1="86.90" y1="333.40" x2="86.90" y2="371.60" stroke="#d2d2d2" stroke-width="0.6"/><line x1="86.70" y1="333.40" x2="86.70" y2="371.60" stroke="#d2d2d2" stroke-width="0.6"/><line x1="110.15" y1="333.40" x2="110.15" y2="371.60" stroke="#c4c4c4" stroke-width="0.6"/><line x1="108.91" y1="333.40" x2="108.91" y2="371.60" stroke="#cdcdcd" stroke-width="0.6"/><line x1="108.19" y1="333.40" x2="108.19" y2="371.60" stroke="#d2d2d2" stroke-width="0.6"/><line x1="109.02" y1="333.40" x2="109.02" y2="371.60" stroke="#d2d2d2" stroke-width="0.6"/><line x1="107.66" y1="333.40" x2="107.66" y2="371.60" stroke="#cdcdcd" stroke-width="0.6"/><line x1="132.59" y1="333.40" x2="132.59" y2="371.60" stroke="#cdcdcd" stroke-width="0.6"/><line x1="133.57" y1="333.40" x2="133.57" y2="371.60" stroke="#d6d6d6" stroke-width="0.6"/><line x1="125.54" y1="333.40" x2="125.54" y2="371.60" stroke="#d2d2d2" stroke-width="0.6"/><line x1="126.28" y1="333.40" x2="126.28" y2="371.60" stroke="#c4c4c4" stroke-width="0.6"/><line x1="93.16" y1="333.40" x2="93.16" y2="371.60" stroke="#d2d2d2" stroke-width="0.6"/><line x1="118.66" y1="333.40" x2="118.66" y2="371.60" stroke="#d6d6d6" stroke-width="0.6"/><line x1="119.92" y1="333.40" x2="119.92" y2="371.60" stroke="#d6d6d6" stroke-width="0.6"/><line x1="126.83" y1="333.40" x2="126.83" y2="371.60" stroke="#cdcdcd" stroke-width="0.6"/><line x1="126.97" y1="333.40" x2="126.97" y2="371.60" stroke="#d2d2d2" stroke-width="0.6"/><line x1="126.58" y1="333.40" x2="126.58" y2="371.60" stroke="#d2d2d2" stroke-width="0.6"/><line x1="130.96" y1="333.40" x2="130.96" y2="371.60" stroke="#cdcdcd" stroke-width="0.6"/><line x1="130.94" y1="333.40" x2="130.94" y2="371.60" stroke="#d6d6d6" stroke-width="0.6"/><line x1="76.29" y1="333.40" x2="76.29" y2="371.60" stroke="#cdcdcd" stroke-width="0.6"/><line x1="76.34" y1="333.40" x2="76.34" y2="371.60" stroke="#dedede" stroke-width="0.6"/><line x1="103.35" y1="333.40" x2="103.35" y2="371.60" stroke="#dedede" stroke-width="0.6"/><line x1="76.27" y1="333.40" x2="76.27" y2="371.60" stroke="#c4c4c4" stroke-width="0.6"/><line x1="76.03" y1="333.40" x2="76.03" y2="371.60" stroke="#d6d6d6" stroke-width="0.6"/><line x1="129.46" y1="333.40" x2="129.46" y2="371.60" stroke="#c4c4c4" stroke-width="0.6"/><line x1="104.29" y1="333.40" x2="104.29" y2="371.60" stroke="#d2d2d2" stroke-width="0.6"/><line x1="104.77" y1="333.40" x2="104.77" y2="371.60" stroke="#d6d6d6" stroke-width="0.6"/><line x1="104.91" y1="333.40" x2="104.91" y2="371.60" stroke="#d2d2d2" stroke-width="0.6"/><line x1="107.47" y1="333.40" x2="107.47" y2="371.60" stroke="#c4c4c4" stroke-width="0.6"/><line x1="105.43" y1="333.40" x2="105.43" y2="371.60" stroke="#c4c4c4" stroke-width="0.6"/>
<line x1="482.39" y1="333.40" x2="482.39" y2="371.60" stroke="#c4c4c4" stroke-width="0.6"/><line x1="497.09" y1="333.40" x2="497.09" y2="371.60" stroke="#cdcdcd" stroke-width="0.6"/><line x1="483.67" y1="333.40" x2="483.67" y2="371.60" stroke="#d6d6d6" stroke-width="0.6"/><line x1="483.99" y1="333.40" x2="483.99" y2="371.60" stroke="#dedede" stroke-width="0.6"/><line x1="497.79" y1="333.40" x2="497.79" y2="371.60" stroke="#dedede" stroke-width="0.6"/><line x1="493.23" y1="333.40" x2="493.23" y2="371.60" stroke="#c4c4c4" stroke-width="0.6"/><line x1="492.96" y1="333.40" x2="492.96" y2="371.60" stroke="#dedede" stroke-width="0.6"/><line x1="494.01" y1="333.40" x2="494.01" y2="371.60" stroke="#dedede" stroke-width="0.6"/><line x1="500.26" y1="333.40" x2="500.26" y2="371.60" stroke="#cdcdcd" stroke-width="0.6"/><line x1="480.44" y1="333.40" x2="480.44" y2="371.60" stroke="#cdcdcd" stroke-width="0.6"/>
<line x1="168.87" y1="333.40" x2="450.23" y2="371.60" stroke="#cbc6ca" stroke-width="0.5"/>
<line x1="191.25" y1="333.40" x2="427.85" y2="371.60" stroke="#cbc6ca" stroke-width="0.5"/>
<line x1="308.30" y1="333.40" x2="310.80" y2="371.60" stroke="#c2c2c2" stroke-width="0.5"/>
<line x1="176.47" y1="333.40" x2="442.63" y2="371.60" stroke="#bababa" stroke-width="0.5"/>
<line x1="423.76" y1="333.40" x2="195.34" y2="371.60" stroke="#d2cacd" stroke-width="0.5"/>
<line x1="266.59" y1="333.40" x2="352.51" y2="371.60" stroke="#c2c2c2" stroke-width="0.5"/>
<line x1="323.67" y1="333.40" x2="295.43" y2="371.60" stroke="#cbc6ca" stroke-width="0.5"/>
<line x1="317.76" y1="333.40" x2="301.34" y2="371.60" stroke="#d2cacd" stroke-width="0.5"/>
<line x1="386.34" y1="333.40" x2="232.76" y2="371.60" stroke="#cbc6ca" stroke-width="0.5"/>
<line x1="421.60" y1="333.40" x2="197.50" y2="371.60" stroke="#cbc6ca" stroke-width="0.5"/>
<line x1="291.66" y1="333.40" x2="327.44" y2="371.60" stroke="#bababa" stroke-width="0.5"/>
<line x1="183.30" y1="333.40" x2="435.80" y2="371.60" stroke="#c2c2c2" stroke-width="0.5"/>
<line x1="385.34" y1="333.40" x2="233.76" y2="371.60" stroke="#d2cacd" stroke-width="0.5"/>
<line x1="149.79" y1="333.40" x2="469.31" y2="371.60" stroke="#c2c2c2" stroke-width="0.5"/>
<line x1="449.97" y1="333.40" x2="169.13" y2="371.60" stroke="#bababa" stroke-width="0.5"/>
<line x1="218.60" y1="333.40" x2="400.50" y2="371.60" stroke="#d2cacd" stroke-width="0.5"/>
<line x1="246.19" y1="333.40" x2="372.91" y2="371.60" stroke="#d2cacd" stroke-width="0.5"/>
<line x1="198.85" y1="333.40" x2="420.25" y2="371.60" stroke="#bababa" stroke-width="0.5"/>
<line x1="332.36" y1="333.40" x2="286.74" y2="371.60" stroke="#c2c2c2" stroke-width="0.5"/>
<line x1="399.48" y1="333.40" x2="219.62" y2="371.60" stroke="#bababa" stroke-width="0.5"/>
<line x1="219.43" y1="333.40" x2="399.67" y2="371.60" stroke="#bababa" stroke-width="0.5"/>
<line x1="169.29" y1="333.40" x2="449.81" y2="371.60" stroke="#d2cacd" stroke-width="0.5"/>
<line x1="423.19" y1="333.40" x2="195.91" y2="371.60" stroke="#bababa" stroke-width="0.5"/>
<line x1="285.17" y1="333.40" x2="333.93" y2="371.60" stroke="#c2c2c2" stroke-width="0.5"/>
<line x1="407.19" y1="333.40" x2="211.91" y2="371.60" stroke="#c2c2c2" stroke-width="0.5"/>
<line x1="413.64" y1="333.40" x2="205.46" y2="371.60" stroke="#d2cacd" stroke-width="0.5"/>
<line x1="197.33" y1="333.40" x2="421.77" y2="371.60" stroke="#c2c2c2" stroke-width="0.5"/>
<line x1="430.51" y1="333.40" x2="188.59" y2="371.60" stroke="#cbc6ca" stroke-width="0.5"/>
<line x1="363.40" y1="333.40" x2="255.70" y2="371.60" stroke="#c2c2c2" stroke-width="0.5"/>
<line x1="326.86" y1="333.40" x2="292.24" y2="371.60" stroke="#cbc6ca" stroke-width="0.5"/>
<line x1="271.14" y1="333.40" x2="347.96" y2="371.60" stroke="#cbc6ca" stroke-width="0.5"/>
<line x1="339.33" y1="333.40" x2="279.77" y2="371.60" stroke="#d2cacd" stroke-width="0.5"/>
<line x1="145.34" y1="333.40" x2="473.76" y2="371.60" stroke="#bababa" stroke-width="0.5"/>
<line x1="459.95" y1="333.40" x2="159.15" y2="371.60" stroke="#d2cacd" stroke-width="0.5"/>
<line x1="302.44" y1="333.40" x2="316.66" y2="371.60" stroke="#cbc6ca" stroke-width="0.5"/>
<line x1="348.84" y1="333.40" x2="270.26" y2="371.60" stroke="#cbc6ca" stroke-width="0.5"/>
<line x1="218.16" y1="333.40" x2="400.94" y2="371.60" stroke="#d2cacd" stroke-width="0.5"/>
<line x1="336.38" y1="333.40" x2="282.72" y2="371.60" stroke="#bababa" stroke-width="0.5"/>
<line x1="208.10" y1="333.40" x2="411.00" y2="371.60" stroke="#cbc6ca" stroke-width="0.5"/>
<line x1="344.23" y1="333.40" x2="274.87" y2="371.60" stroke="#bababa" stroke-width="0.5"/>
<line x1="358.22" y1="333.40" x2="260.88" y2="371.60" stroke="#cbc6ca" stroke-width="0.5"/>
<line x1="349.90" y1="333.40" x2="269.20" y2="371.60" stroke="#c2c2c2" stroke-width="0.5"/>
<line x1="309.28" y1="333.40" x2="309.82" y2="371.60" stroke="#c2c2c2" stroke-width="0.5"/>
<line x1="459.85" y1="333.40" x2="159.25" y2="371.60" stroke="#cbc6ca" stroke-width="0.5"/>
<line x1="402.95" y1="333.40" x2="216.15" y2="371.60" stroke="#bababa" stroke-width="0.5"/>
<line x1="401.99" y1="333.40" x2="217.11" y2="371.60" stroke="#d2cacd" stroke-width="0.5"/>
<line x1="450.22" y1="333.40" x2="168.88" y2="371.60" stroke="#d2cacd" stroke-width="0.5"/>
<line x1="276.48" y1="333.40" x2="342.62" y2="371.60" stroke="#bababa" stroke-width="0.5"/>
<line x1="287.59" y1="333.40" x2="331.51" y2="371.60" stroke="#bababa" stroke-width="0.5"/>
<line x1="243.93" y1="333.40" x2="375.17" y2="371.60" stroke="#cbc6ca" stroke-width="0.5"/>
<line x1="186.31" y1="333.40" x2="432.79" y2="371.60" stroke="#bababa" stroke-width="0.5"/>
<line x1="303.77" y1="333.40" x2="315.33" y2="371.60" stroke="#bababa" stroke-width="0.5"/>
<line x1="268.71" y1="333.40" x2="350.39" y2="371.60" stroke="#c2c2c2" stroke-width="0.5"/>
<line x1="345.36" y1="333.40" x2="273.74" y2="371.60" stroke="#cbc6ca" stroke-width="0.5"/>
<line x1="437.30" y1="333.40" x2="181.80" y2="371.60" stroke="#c2c2c2" stroke-width="0.5"/>
<line x1="436.49" y1="333.40" x2="182.61" y2="371.60" stroke="#cbc6ca" stroke-width="0.5"/>
<line x1="367.74" y1="333.40" x2="251.36" y2="371.60" stroke="#bababa" stroke-width="0.5"/>
<line x1="268.72" y1="333.40" x2="350.38" y2="371.60" stroke="#c2c2c2" stroke-width="0.5"/>
<line x1="276.35" y1="333.40" x2="342.75" y2="371.60" stroke="#cbc6ca" stroke-width="0.5"/>
<line x1="460.57" y1="333.40" x2="158.53" y2="371.60" stroke="#cbc6ca" stroke-width="0.5"/>
<line x1="219.67" y1="333.40" x2="399.43" y2="371.60" stroke="#d2cacd" stroke-width="0.5"/>
<line x1="162.40" y1="333.40" x2="456.70" y2="371.60" stroke="#c2c2c2" stroke-width="0.5"/>
<line x1="144.94" y1="333.40" x2="474.16" y2="371.60" stroke="#bababa" stroke-width="0.5"/>
<line x1="148.45" y1="333.40" x2="470.65" y2="371.60" stroke="#c2c2c2" stroke-width="0.5"/>
<line x1="186.08" y1="333.40" x2="433.02" y2="371.60" stroke="#c2c2c2" stroke-width="0.5"/>
<line x1="385.15" y1="333.40" x2="233.95" y2="371.60" stroke="#c2c2c2" stroke-width="0.5"/>
<line x1="310.52" y1="333.40" x2="308.58" y2="371.60" stroke="#bababa" stroke-width="0.5"/>
<line x1="393.59" y1="333.40" x2="225.51" y2="371.60" stroke="#c2c2c2" stroke-width="0.5"/>
<line x1="244.64" y1="333.40" x2="374.46" y2="371.60" stroke="#cbc6ca" stroke-width="0.5"/>
<line x1="473.42" y1="333.40" x2="145.68" y2="371.60" stroke="#c2c2c2" stroke-width="0.5"/>
<line x1="176.64" y1="333.40" x2="442.46" y2="371.60" stroke="#c2c2c2" stroke-width="0.5"/>
<line x1="468.29" y1="333.40" x2="150.81" y2="371.60" stroke="#cbc6ca" stroke-width="0.5"/>
<line x1="467.99" y1="333.40" x2="151.11" y2="371.60" stroke="#bababa" stroke-width="0.5"/>
<line x1="381.11" y1="333.40" x2="237.99" y2="371.60" stroke="#bababa" stroke-width="0.5"/>
<line x1="204.86" y1="333.40" x2="414.24" y2="371.60" stroke="#c2c2c2" stroke-width="0.5"/>
<line x1="349.73" y1="333.40" x2="269.37" y2="371.60" stroke="#bababa" stroke-width="0.5"/>
<line x1="146.92" y1="333.40" x2="472.18" y2="371.60" stroke="#c2c2c2" stroke-width="0.5"/>
<line x1="393.44" y1="333.40" x2="225.66" y2="371.60" stroke="#cbc6ca" stroke-width="0.5"/>
<line x1="178.94" y1="333.40" x2="440.16" y2="371.60" stroke="#cbc6ca" stroke-width="0.5"/>
<line x1="268.58" y1="333.40" x2="350.52" y2="371.60" stroke="#d2cacd" stroke-width="0.5"/>
<line x1="160.79" y1="333.40" x2="458.31" y2="371.60" stroke="#cbc6ca" stroke-width="0.5"/>
<line x1="292.00" y1="333.40" x2="327.10" y2="371.60" stroke="#cbc6ca" stroke-width="0.5"/>
<line x1="432.44" y1="333.40" x2="186.66" y2="371.60" stroke="#bababa" stroke-width="0.5"/>
<line x1="172.46" y1="333.40" x2="446.64" y2="371.60" stroke="#d2cacd" stroke-width="0.5"/>
<line x1="395.03" y1="333.40" x2="224.07" y2="371.60" stroke="#c2c2c2" stroke-width="0.5"/>
<line x1="250.30" y1="333.40" x2="368.80" y2="371.60" stroke="#bababa" stroke-width="0.5"/>
<line x1="359.41" y1="333.40" x2="259.69" y2="371.60" stroke="#cbc6ca" stroke-width="0.5"/>
<line x1="300.90" y1="333.40" x2="318.20" y2="371.60" stroke="#c2c2c2" stroke-width="0.5"/>
<line x1="152.15" y1="333.40" x2="466.95" y2="371.60" stroke="#bababa" stroke-width="0.5"/>
<line x1="395.87" y1="333.40" x2="223.23" y2="371.60" stroke="#d2cacd" stroke-width="0.5"/>
<line x1="189.10" y1="333.40" x2="430.00" y2="371.60" stroke="#bababa" stroke-width="0.5"/>
<line x1="241.66" y1="333.40" x2="377.44" y2="371.60" stroke="#cbc6ca" stroke-width="0.5"/>
<line x1="143.87" y1="333.40" x2="475.23" y2="371.60" stroke="#d2cacd" stroke-width="0.5"/>
<line x1="194.03" y1="333.40" x2="425.07" y2="371.60" stroke="#c2c2c2" stroke-width="0.5"/>
<line x1="404.88" y1="333.40" x2="214.22" y2="371.60" stroke="#d2cacd" stroke-width="0.5"/>
<line x1="224.21" y1="333.40" x2="394.89" y2="371.60" stroke="#c2c2c2" stroke-width="0.5"/>
<line x1="409.18" y1="333.40" x2="209.92" y2="371.60" stroke="#c2c2c2" stroke-width="0.5"/>
<line x1="236.82" y1="333.40" x2="382.28" y2="371.60" stroke="#cbc6ca" stroke-width="0.5"/>
<line x1="243.55" y1="333.40" x2="375.55" y2="371.60" stroke="#d2cacd" stroke-width="0.5"/>
<line x1="264.20" y1="333.40" x2="354.90" y2="371.60" stroke="#c2c2c2" stroke-width="0.5"/>
<line x1="330.68" y1="333.40" x2="288.42" y2="371.60" stroke="#d2cacd" stroke-width="0.5"/>
<line x1="452.80" y1="333.40" x2="166.30" y2="371.60" stroke="#bababa" stroke-width="0.5"/>
<line x1="429.62" y1="333.40" x2="189.48" y2="371.60" stroke="#cbc6ca" stroke-width="0.5"/>
<line x1="445.20" y1="333.40" x2="173.90" y2="371.60" stroke="#bababa" stroke-width="0.5"/>
<line x1="317.89" y1="333.40" x2="301.21" y2="371.60" stroke="#bababa" stroke-width="0.5"/>
<line x1="269.39" y1="333.40" x2="349.71" y2="371.60" stroke="#cbc6ca" stroke-width="0.5"/>
<line x1="405.05" y1="333.40" x2="214.05" y2="371.60" stroke="#c2c2c2" stroke-width="0.5"/>
<line x1="352.72" y1="333.40" x2="266.38" y2="371.60" stroke="#c2c2c2" stroke-width="0.5"/>
<line x1="364.83" y1="333.40" x2="254.27" y2="371.60" stroke="#c2c2c2" stroke-width="0.5"/>
<line x1="426.37" y1="333.40" x2="192.73" y2="371.60" stroke="#bababa" stroke-width="0.5"/>
<line x1="236.24" y1="333.40" x2="382.86" y2="371.60" stroke="#cbc6ca" stroke-width="0.5"/>
<line x1="346.95" y1="333.40" x2="272.15" y2="371.60" stroke="#d2cacd" stroke-width="0.5"/>
<line x1="237.20" y1="333.40" x2="381.90" y2="371.60" stroke="#c2c2c2" stroke-width="0.5"/>
<line x1="351.39" y1="333.40" x2="267.71" y2="371.60" stroke="#d2cacd" stroke-width="0.5"/>
<line x1="433.37" y1="333.40" x2="185.73" y2="371.60" stroke="#c2c2c2" stroke-width="0.5"/>
<line x1="169.58" y1="333.40" x2="449.52" y2="371.60" stroke="#c2c2c2" stroke-width="0.5"/>
<line x1="259.09" y1="333.40" x2="360.01" y2="371.60" stroke="#d2cacd" stroke-width="0.5"/>
<line x1="208.75" y1="333.40" x2="410.35" y2="371.60" stroke="#cbc6ca" stroke-width="0.5"/>
<line x1="183.60" y1="333.40" x2="435.50" y2="371.60" stroke="#c2c2c2" stroke-width="0.5"/>
<line x1="417.78" y1="333.40" x2="201.32" y2="371.60" stroke="#cbc6ca" stroke-width="0.5"/>
<line x1="277.65" y1="333.40" x2="341.45" y2="371.60" stroke="#c2c2c2" stroke-width="0.5"/>
<line x1="383.59" y1="333.40" x2="235.51" y2="371.60" stroke="#cbc6ca" stroke-width="0.5"/>
<line x1="202.15" y1="333.40" x2="416.95" y2="371.60" stroke="#d2cacd" stroke-width="0.5"/>
<line x1="291.85" y1="333.40" x2="327.25" y2="371.60" stroke="#d2cacd" stroke-width="0.5"/>
<line x1="472.61" y1="333.40" x2="146.49" y2="371.60" stroke="#cbc6ca" stroke-width="0.5"/>
<line x1="238.19" y1="333.40" x2="380.91" y2="371.60" stroke="#cbc6ca" stroke-width="0.5"/>
<line x1="289.73" y1="333.40" x2="329.37" y2="371.60" stroke="#c2c2c2" stroke-width="0.5"/>
<line x1="182.48" y1="333.40" x2="436.62" y2="371.60" stroke="#cbc6ca" stroke-width="0.5"/>
<line x1="386.62" y1="333.40" x2="232.48" y2="371.60" stroke="#bababa" stroke-width="0.5"/>
<line x1="254.30" y1="333.40" x2="364.80" y2="371.60" stroke="#cbc6ca" stroke-width="0.5"/>
<line x1="143.10" y1="333.40" x2="476.00" y2="371.60" stroke="#d8462c" stroke-width="1.45"/>
<line x1="143.10" y1="371.60" x2="476.00" y2="333.40" stroke="#2b98cc" stroke-width="1.45"/>
<rect x="67.00" y="304.60" width="434.90" height="7.20" fill="#19b2d5"/>
<rect x="67.49" y="304.60" width="1.40" height="7.20" fill="#0c5a8e"/><rect x="70.63" y="304.60" width="0.90" height="7.20" fill="#1590c4"/><rect x="77.81" y="304.60" width="1.80" height="7.20" fill="#1280b8"/><rect x="81.61" y="304.60" width="1.80" height="7.20" fill="#0b4f80"/><rect x="91.08" y="304.60" width="0.90" height="7.20" fill="#0f6aa4"/><rect x="93.40" y="304.60" width="0.90" height="7.20" fill="#0b4f80"/><rect x="97.93" y="304.60" width="0.50" height="7.20" fill="#0e72ae"/><rect x="105.44" y="304.60" width="0.90" height="7.20" fill="#0c5a8e"/><rect x="111.67" y="304.60" width="0.50" height="7.20" fill="#1280b8"/><rect x="126.42" y="304.60" width="0.90" height="7.20" fill="#0f6aa4"/><rect x="128.53" y="304.60" width="1.80" height="7.20" fill="#1280b8"/><rect x="132.25" y="304.60" width="0.70" height="7.20" fill="#1280b8"/><rect x="134.11" y="304.60" width="0.50" height="7.20" fill="#3cc0ea"/><rect x="135.95" y="304.60" width="1.40" height="7.20" fill="#1590c4"/><rect x="137.66" y="304.60" width="1.80" height="7.20" fill="#1280b8"/><rect x="144.96" y="304.60" width="0.90" height="7.20" fill="#0f6aa4"/><rect x="146.29" y="304.60" width="0.50" height="7.20" fill="#0f6aa4"/><rect x="146.80" y="304.60" width="0.90" height="7.20" fill="#0e72ae"/><rect x="148.84" y="304.60" width="0.90" height="7.20" fill="#0c5a8e"/><rect x="152.57" y="304.60" width="1.80" height="7.20" fill="#0b4f80"/><rect x="156.08" y="304.60" width="1.40" height="7.20" fill="#1280b8"/><rect x="159.54" y="304.60" width="1.40" height="7.20" fill="#3cc0ea"/><rect x="161.14" y="304.60" width="1.10" height="7.20" fill="#0b4f80"/><rect x="163.51" y="304.60" width="1.10" height="7.20" fill="#1280b8"/><rect x="167.54" y="304.60" width="0.50" height="7.20" fill="#0c5a8e"/><rect x="175.41" y="304.60" width="0.50" height="7.20" fill="#0b4f80"/><rect x="176.92" y="304.60" width="1.80" height="7.20" fill="#1590c4"/><rect x="182.21" y="304.60" width="1.10" height="7.20" fill="#0b4f80"/><rect x="186.44" y="304.60" width="0.50" height="7.20" fill="#3cc0ea"/><rect x="187.81" y="304.60" width="1.10" height="7.20" fill="#0e72ae"/><rect x="190.62" y="304.60" width="0.90" height="7.20" fill="#0b4f80"/><rect x="191.58" y="304.60" width="1.10" height="7.20" fill="#0e72ae"/><rect x="197.01" y="304.60" width="0.90" height="7.20" fill="#1280b8"/><rect x="198.21" y="304.60" width="0.70" height="7.20" fill="#1590c4"/><rect x="199.93" y="304.60" width="1.80" height="7.20" fill="#3cc0ea"/><rect x="202.24" y="304.60" width="1.40" height="7.20" fill="#1280b8"/><rect x="205.16" y="304.60" width="1.10" height="7.20" fill="#1280b8"/><rect x="211.67" y="304.60" width="1.80" height="7.20" fill="#1280b8"/><rect x="216.09" y="304.60" width="1.80" height="7.20" fill="#1280b8"/><rect x="219.64" y="304.60" width="0.70" height="7.20" fill="#3cc0ea"/><rect x="220.56" y="304.60" width="1.40" height="7.20" fill="#0f6aa4"/><rect x="227.24" y="304.60" width="0.70" height="7.20" fill="#0c5a8e"/><rect x="228.14" y="304.60" width="1.40" height="7.20" fill="#1280b8"/><rect x="231.06" y="304.60" width="1.40" height="7.20" fill="#1280b8"/><rect x="237.68" y="304.60" width="0.50" height="7.20" fill="#1590c4"/><rect x="238.24" y="304.60" width="1.10" height="7.20" fill="#0f6aa4"/><rect x="240.97" y="304.60" width="0.70" height="7.20" fill="#1280b8"/><rect x="245.71" y="304.60" width="1.40" height="7.20" fill="#0c5a8e"/><rect x="247.43" y="304.60" width="1.80" height="7.20" fill="#1280b8"/><rect x="253.51" y="304.60" width="0.50" height="7.20" fill="#0b4f80"/><rect x="263.20" y="304.60" width="0.90" height="7.20" fill="#1280b8"/><rect x="265.93" y="304.60" width="0.50" height="7.20" fill="#3cc0ea"/><rect x="267.50" y="304.60" width="1.40" height="7.20" fill="#1590c4"/><rect x="269.97" y="304.60" width="1.80" height="7.20" fill="#1280b8"/><rect x="273.60" y="304.60" width="1.10" height="7.20" fill="#0b4f80"/><rect x="275.30" y="304.60" width="0.90" height="7.20" fill="#0f6aa4"/><rect x="276.81" y="304.60" width="1.40" height="7.20" fill="#1590c4"/><rect x="278.49" y="304.60" width="0.90" height="7.20" fill="#0e72ae"/><rect x="279.76" y="304.60" width="1.40" height="7.20" fill="#0b4f80"/><rect x="282.82" y="304.60" width="1.40" height="7.20" fill="#1280b8"/><rect x="287.79" y="304.60" width="1.80" height="7.20" fill="#1280b8"/><rect x="289.66" y="304.60" width="0.50" height="7.20" fill="#1590c4"/><rect x="290.71" y="304.60" width="0.90" height="7.20" fill="#3cc0ea"/><rect x="292.58" y="304.60" width="0.70" height="7.20" fill="#1280b8"/><rect x="294.87" y="304.60" width="1.10" height="7.20" fill="#0e72ae"/><rect x="296.86" y="304.60" width="1.40" height="7.20" fill="#3cc0ea"/><rect x="302.09" y="304.60" width="0.70" height="7.20" fill="#3cc0ea"/><rect x="304.12" y="304.60" width="0.70" height="7.20" fill="#1280b8"/><rect x="305.05" y="304.60" width="0.90" height="7.20" fill="#0c5a8e"/><rect x="313.80" y="304.60" width="1.80" height="7.20" fill="#0e72ae"/><rect x="316.34" y="304.60" width="0.90" height="7.20" fill="#0e72ae"/><rect x="322.34" y="304.60" width="0.50" height="7.20" fill="#1590c4"/><rect x="323.30" y="304.60" width="1.40" height="7.20" fill="#0e72ae"/><rect x="330.28" y="304.60" width="1.40" height="7.20" fill="#0f6aa4"/><rect x="333.51" y="304.60" width="1.40" height="7.20" fill="#0c5a8e"/><rect x="340.11" y="304.60" width="1.10" height="7.20" fill="#3cc0ea"/><rect x="344.70" y="304.60" width="0.90" height="7.20" fill="#3cc0ea"/><rect x="347.13" y="304.60" width="1.80" height="7.20" fill="#0e72ae"/><rect x="350.49" y="304.60" width="1.10" height="7.20" fill="#0e72ae"/><rect x="352.82" y="304.60" width="0.50" height="7.20" fill="#0b4f80"/><rect x="354.19" y="304.60" width="0.70" height="7.20" fill="#1280b8"/><rect x="355.37" y="304.60" width="0.50" height="7.20" fill="#0e72ae"/><rect x="357.60" y="304.60" width="0.90" height="7.20" fill="#1590c4"/><rect x="358.87" y="304.60" width="1.10" height="7.20" fill="#0c5a8e"/><rect x="364.23" y="304.60" width="0.50" height="7.20" fill="#0e72ae"/><rect x="371.39" y="304.60" width="0.70" height="7.20" fill="#0f6aa4"/><rect x="385.21" y="304.60" width="1.10" height="7.20" fill="#0b4f80"/><rect x="386.32" y="304.60" width="1.10" height="7.20" fill="#0f6aa4"/><rect x="389.24" y="304.60" width="1.10" height="7.20" fill="#3cc0ea"/><rect x="392.41" y="304.60" width="0.70" height="7.20" fill="#0e72ae"/><rect x="395.53" y="304.60" width="0.90" height="7.20" fill="#0c5a8e"/><rect x="397.21" y="304.60" width="1.10" height="7.20" fill="#3cc0ea"/><rect x="403.52" y="304.60" width="0.70" height="7.20" fill="#3cc0ea"/><rect x="411.27" y="304.60" width="0.50" height="7.20" fill="#3cc0ea"/><rect x="412.35" y="304.60" width="1.80" height="7.20" fill="#0b4f80"/><rect x="418.77" y="304.60" width="0.50" height="7.20" fill="#0c5a8e"/><rect x="421.72" y="304.60" width="0.90" height="7.20" fill="#1280b8"/><rect x="425.76" y="304.60" width="0.90" height="7.20" fill="#0c5a8e"/><rect x="428.16" y="304.60" width="0.50" height="7.20" fill="#0c5a8e"/><rect x="432.12" y="304.60" width="1.40" height="7.20" fill="#1280b8"/><rect x="434.33" y="304.60" width="1.80" height="7.20" fill="#1280b8"/><rect x="439.93" y="304.60" width="0.90" height="7.20" fill="#1590c4"/><rect x="446.98" y="304.60" width="1.40" height="7.20" fill="#1280b8"/><rect x="449.28" y="304.60" width="1.80" height="7.20" fill="#0e72ae"/><rect x="452.10" y="304.60" width="1.40" height="7.20" fill="#0f6aa4"/><rect x="458.28" y="304.60" width="1.10" height="7.20" fill="#1280b8"/><rect x="460.54" y="304.60" width="0.90" height="7.20" fill="#1280b8"/><rect x="461.47" y="304.60" width="1.40" height="7.20" fill="#0b4f80"/><rect x="467.82" y="304.60" width="1.80" height="7.20" fill="#0f6aa4"/><rect x="471.21" y="304.60" width="0.90" height="7.20" fill="#3cc0ea"/><rect x="473.16" y="304.60" width="0.50" height="7.20" fill="#1280b8"/><rect x="474.19" y="304.60" width="1.80" height="7.20" fill="#1590c4"/><rect x="476.97" y="304.60" width="1.80" height="7.20" fill="#1590c4"/><rect x="483.19" y="304.60" width="1.10" height="7.20" fill="#1280b8"/><rect x="485.25" y="304.60" width="0.90" height="7.20" fill="#3cc0ea"/><rect x="487.20" y="304.60" width="0.90" height="7.20" fill="#1280b8"/><rect x="488.56" y="304.60" width="0.90" height="7.20" fill="#0f6aa4"/><rect x="491.50" y="304.60" width="1.10" height="7.20" fill="#1280b8"/><rect x="497.99" y="304.60" width="0.70" height="7.20" fill="#0b4f80"/><rect x="499.05" y="304.60" width="1.80" height="7.20" fill="#0c5a8e"/>
<rect x="67.00" y="326.70" width="434.90" height="6.70" fill="#6dbd2d"/>
<rect x="68.26" y="326.70" width="1.40" height="6.70" fill="#2a8236"/><rect x="76.20" y="326.70" width="0.70" height="6.70" fill="#2c8534"/><rect x="85.74" y="326.70" width="0.90" height="6.70" fill="#1e7040"/><rect x="95.53" y="326.70" width="1.10" height="6.70" fill="#3f922e"/><rect x="99.13" y="326.70" width="0.50" height="6.70" fill="#1a6a80"/><rect x="100.55" y="326.70" width="0.50" height="6.70" fill="#2a8236"/><rect x="105.04" y="326.70" width="0.70" height="6.70" fill="#1e7040"/><rect x="107.06" y="326.70" width="0.50" height="6.70" fill="#12586e"/><rect x="112.77" y="326.70" width="1.80" height="6.70" fill="#2c8534"/><rect x="117.11" y="326.70" width="0.70" height="6.70" fill="#8fd150"/><rect x="119.18" y="326.70" width="0.90" height="6.70" fill="#2a8a5a"/><rect x="121.81" y="326.70" width="0.70" height="6.70" fill="#1a6a80"/><rect x="122.91" y="326.70" width="1.40" height="6.70" fill="#2c8534"/><rect x="125.89" y="326.70" width="1.40" height="6.70" fill="#2a8a5a"/><rect x="132.11" y="326.70" width="1.80" height="6.70" fill="#1e7040"/><rect x="134.85" y="326.70" width="1.10" height="6.70" fill="#1e7040"/><rect x="136.90" y="326.70" width="1.40" height="6.70" fill="#2a8a5a"/><rect x="139.79" y="326.70" width="0.70" height="6.70" fill="#3f922e"/><rect x="146.22" y="326.70" width="1.10" height="6.70" fill="#1e7040"/><rect x="151.18" y="326.70" width="1.40" height="6.70" fill="#17607a"/><rect x="158.31" y="326.70" width="1.10" height="6.70" fill="#3f922e"/><rect x="161.09" y="326.70" width="0.70" height="6.70" fill="#1a6a80"/><rect x="162.27" y="326.70" width="0.70" height="6.70" fill="#8fd150"/><rect x="170.02" y="326.70" width="0.50" height="6.70" fill="#12586e"/><rect x="173.03" y="326.70" width="0.50" height="6.70" fill="#8fd150"/><rect x="181.27" y="326.70" width="1.10" height="6.70" fill="#2c8534"/><rect x="186.47" y="326.70" width="0.90" height="6.70" fill="#3f922e"/><rect x="190.05" y="326.70" width="1.80" height="6.70" fill="#17607a"/><rect x="192.07" y="326.70" width="0.50" height="6.70" fill="#2a8236"/><rect x="194.07" y="326.70" width="0.90" height="6.70" fill="#1a6a80"/><rect x="198.84" y="326.70" width="0.70" height="6.70" fill="#3f922e"/><rect x="200.83" y="326.70" width="1.10" height="6.70" fill="#8fd150"/><rect x="209.70" y="326.70" width="0.50" height="6.70" fill="#8fd150"/><rect x="212.37" y="326.70" width="1.40" height="6.70" fill="#2a8236"/><rect x="214.67" y="326.70" width="0.70" height="6.70" fill="#12586e"/><rect x="225.65" y="326.70" width="0.90" height="6.70" fill="#12586e"/><rect x="230.67" y="326.70" width="1.10" height="6.70" fill="#8fd150"/><rect x="235.15" y="326.70" width="1.80" height="6.70" fill="#1a6a80"/><rect x="244.66" y="326.70" width="1.10" height="6.70" fill="#3f922e"/><rect x="250.56" y="326.70" width="1.80" height="6.70" fill="#1a6a80"/><rect x="254.15" y="326.70" width="0.50" height="6.70" fill="#1a6a80"/><rect x="255.53" y="326.70" width="0.70" height="6.70" fill="#17607a"/><rect x="261.13" y="326.70" width="1.80" height="6.70" fill="#12586e"/><rect x="267.97" y="326.70" width="1.80" height="6.70" fill="#12586e"/><rect x="269.84" y="326.70" width="1.10" height="6.70" fill="#17607a"/><rect x="272.88" y="326.70" width="1.40" height="6.70" fill="#2c8534"/><rect x="274.73" y="326.70" width="0.70" height="6.70" fill="#2c8534"/><rect x="283.72" y="326.70" width="1.10" height="6.70" fill="#8fd150"/><rect x="289.92" y="326.70" width="0.70" height="6.70" fill="#17607a"/><rect x="291.32" y="326.70" width="1.10" height="6.70" fill="#8fd150"/><rect x="295.58" y="326.70" width="1.10" height="6.70" fill="#12586e"/><rect x="300.66" y="326.70" width="1.40" height="6.70" fill="#2a8a5a"/><rect x="305.72" y="326.70" width="0.70" height="6.70" fill="#8fd150"/><rect x="306.75" y="326.70" width="1.80" height="6.70" fill="#2a8236"/><rect x="312.83" y="326.70" width="0.50" height="6.70" fill="#17607a"/><rect x="318.84" y="326.70" width="1.10" height="6.70" fill="#8fd150"/><rect x="322.12" y="326.70" width="0.70" height="6.70" fill="#12586e"/><rect x="332.68" y="326.70" width="0.90" height="6.70" fill="#3f922e"/><rect x="338.96" y="326.70" width="0.90" height="6.70" fill="#8fd150"/><rect x="343.13" y="326.70" width="0.90" height="6.70" fill="#2a8236"/><rect x="345.07" y="326.70" width="0.90" height="6.70" fill="#1a6a80"/><rect x="347.98" y="326.70" width="1.10" height="6.70" fill="#2a8236"/><rect x="349.26" y="326.70" width="0.50" height="6.70" fill="#1e7040"/><rect x="355.48" y="326.70" width="1.40" height="6.70" fill="#2c8534"/><rect x="365.08" y="326.70" width="0.50" height="6.70" fill="#8fd150"/><rect x="370.87" y="326.70" width="1.10" height="6.70" fill="#2a8236"/><rect x="376.09" y="326.70" width="0.70" height="6.70" fill="#2c8534"/><rect x="379.68" y="326.70" width="0.50" height="6.70" fill="#8fd150"/><rect x="380.77" y="326.70" width="1.80" height="6.70" fill="#2a8a5a"/><rect x="388.04" y="326.70" width="1.40" height="6.70" fill="#2c8534"/><rect x="393.71" y="326.70" width="0.90" height="6.70" fill="#3f922e"/><rect x="398.88" y="326.70" width="0.50" height="6.70" fill="#2c8534"/><rect x="406.51" y="326.70" width="0.70" height="6.70" fill="#2a8a5a"/><rect x="410.67" y="326.70" width="0.50" height="6.70" fill="#2a8a5a"/><rect x="414.48" y="326.70" width="0.50" height="6.70" fill="#2a8236"/><rect x="423.25" y="326.70" width="0.90" height="6.70" fill="#2a8a5a"/><rect x="426.19" y="326.70" width="0.90" height="6.70" fill="#3f922e"/><rect x="431.61" y="326.70" width="1.10" height="6.70" fill="#12586e"/><rect x="435.20" y="326.70" width="0.90" height="6.70" fill="#8fd150"/><rect x="439.67" y="326.70" width="1.40" height="6.70" fill="#12586e"/><rect x="443.83" y="326.70" width="1.80" height="6.70" fill="#3f922e"/><rect x="447.43" y="326.70" width="0.90" height="6.70" fill="#1e7040"/><rect x="451.69" y="326.70" width="0.50" height="6.70" fill="#1a6a80"/><rect x="453.45" y="326.70" width="0.70" height="6.70" fill="#17607a"/><rect x="454.49" y="326.70" width="1.10" height="6.70" fill="#2a8a5a"/><rect x="457.42" y="326.70" width="1.40" height="6.70" fill="#8fd150"/><rect x="459.23" y="326.70" width="1.80" height="6.70" fill="#17607a"/><rect x="464.57" y="326.70" width="0.70" height="6.70" fill="#8fd150"/><rect x="466.44" y="326.70" width="1.40" height="6.70" fill="#1a6a80"/><rect x="469.21" y="326.70" width="0.90" height="6.70" fill="#3f922e"/><rect x="475.10" y="326.70" width="1.10" height="6.70" fill="#8fd150"/><rect x="476.48" y="326.70" width="1.40" height="6.70" fill="#1e7040"/><rect x="481.91" y="326.70" width="1.10" height="6.70" fill="#1e7040"/><rect x="486.35" y="326.70" width="0.70" height="6.70" fill="#1e7040"/><rect x="489.73" y="326.70" width="0.90" height="6.70" fill="#8fd150"/><rect x="490.72" y="326.70" width="0.50" height="6.70" fill="#2a8236"/><rect x="492.25" y="326.70" width="1.80" height="6.70" fill="#8fd150"/><rect x="494.70" y="326.70" width="0.50" height="6.70" fill="#1a6a80"/><rect x="497.38" y="326.70" width="0.70" height="6.70" fill="#1a6a80"/>
<rect x="67.00" y="371.60" width="434.90" height="7.50" fill="#19b2d5"/>
<rect x="68.09" y="371.60" width="1.40" height="7.50" fill="#1590c4"/><rect x="70.60" y="371.60" width="1.80" height="7.50" fill="#1590c4"/><rect x="73.91" y="371.60" width="0.90" height="7.50" fill="#3cc0ea"/><rect x="74.98" y="371.60" width="1.40" height="7.50" fill="#3cc0ea"/><rect x="77.59" y="371.60" width="1.80" height="7.50" fill="#0f6aa4"/><rect x="79.42" y="371.60" width="0.90" height="7.50" fill="#1280b8"/><rect x="83.73" y="371.60" width="0.50" height="7.50" fill="#1280b8"/><rect x="84.30" y="371.60" width="1.80" height="7.50" fill="#0b4f80"/><rect x="86.16" y="371.60" width="0.50" height="7.50" fill="#1280b8"/><rect x="87.11" y="371.60" width="0.50" height="7.50" fill="#1590c4"/><rect x="87.82" y="371.60" width="1.40" height="7.50" fill="#1280b8"/><rect x="90.15" y="371.60" width="0.50" height="7.50" fill="#0f6aa4"/><rect x="97.05" y="371.60" width="1.80" height="7.50" fill="#0b4f80"/><rect x="99.89" y="371.60" width="1.10" height="7.50" fill="#0e72ae"/><rect x="101.81" y="371.60" width="0.50" height="7.50" fill="#0b4f80"/><rect x="104.47" y="371.60" width="1.40" height="7.50" fill="#1280b8"/><rect x="108.83" y="371.60" width="0.50" height="7.50" fill="#0b4f80"/><rect x="109.53" y="371.60" width="0.50" height="7.50" fill="#0e72ae"/><rect x="111.59" y="371.60" width="0.70" height="7.50" fill="#1280b8"/><rect x="118.72" y="371.60" width="0.90" height="7.50" fill="#0c5a8e"/><rect x="123.73" y="371.60" width="0.70" height="7.50" fill="#1590c4"/><rect x="132.92" y="371.60" width="0.50" height="7.50" fill="#0f6aa4"/><rect x="133.75" y="371.60" width="0.50" height="7.50" fill="#1590c4"/><rect x="134.62" y="371.60" width="0.50" height="7.50" fill="#0b4f80"/><rect x="137.67" y="371.60" width="1.40" height="7.50" fill="#0b4f80"/><rect x="143.78" y="371.60" width="1.40" height="7.50" fill="#1590c4"/><rect x="146.11" y="371.60" width="1.40" height="7.50" fill="#0b4f80"/><rect x="148.85" y="371.60" width="1.80" height="7.50" fill="#1280b8"/><rect x="151.97" y="371.60" width="1.80" height="7.50" fill="#3cc0ea"/><rect x="155.64" y="371.60" width="1.40" height="7.50" fill="#1280b8"/><rect x="158.80" y="371.60" width="1.40" height="7.50" fill="#0b4f80"/><rect x="160.48" y="371.60" width="1.80" height="7.50" fill="#0f6aa4"/><rect x="164.49" y="371.60" width="1.40" height="7.50" fill="#1280b8"/><rect x="167.53" y="371.60" width="1.80" height="7.50" fill="#0e72ae"/><rect x="170.93" y="371.60" width="0.50" height="7.50" fill="#0b4f80"/><rect x="172.14" y="371.60" width="0.50" height="7.50" fill="#1280b8"/><rect x="178.26" y="371.60" width="1.80" height="7.50" fill="#1590c4"/><rect x="180.36" y="371.60" width="1.10" height="7.50" fill="#3cc0ea"/><rect x="182.22" y="371.60" width="0.50" height="7.50" fill="#1280b8"/><rect x="183.87" y="371.60" width="1.10" height="7.50" fill="#1280b8"/><rect x="187.47" y="371.60" width="0.70" height="7.50" fill="#0f6aa4"/><rect x="189.20" y="371.60" width="1.10" height="7.50" fill="#0f6aa4"/><rect x="192.27" y="371.60" width="1.80" height="7.50" fill="#0b4f80"/><rect x="201.50" y="371.60" width="0.70" height="7.50" fill="#0c5a8e"/><rect x="202.82" y="371.60" width="1.10" height="7.50" fill="#0c5a8e"/><rect x="206.01" y="371.60" width="1.80" height="7.50" fill="#0e72ae"/><rect x="211.61" y="371.60" width="1.10" height="7.50" fill="#1590c4"/><rect x="212.99" y="371.60" width="1.10" height="7.50" fill="#0c5a8e"/><rect x="217.28" y="371.60" width="1.40" height="7.50" fill="#1280b8"/><rect x="220.14" y="371.60" width="1.80" height="7.50" fill="#3cc0ea"/><rect x="225.50" y="371.60" width="0.70" height="7.50" fill="#0c5a8e"/><rect x="232.83" y="371.60" width="0.90" height="7.50" fill="#1280b8"/><rect x="234.22" y="371.60" width="1.40" height="7.50" fill="#0b4f80"/><rect x="246.21" y="371.60" width="0.90" height="7.50" fill="#3cc0ea"/><rect x="247.34" y="371.60" width="0.50" height="7.50" fill="#0b4f80"/><rect x="247.98" y="371.60" width="1.40" height="7.50" fill="#1280b8"/><rect x="250.87" y="371.60" width="1.10" height="7.50" fill="#1280b8"/><rect x="252.00" y="371.60" width="0.90" height="7.50" fill="#1590c4"/><rect x="254.57" y="371.60" width="1.80" height="7.50" fill="#0f6aa4"/><rect x="260.04" y="371.60" width="0.90" height="7.50" fill="#0b4f80"/><rect x="261.26" y="371.60" width="1.10" height="7.50" fill="#0f6aa4"/><rect x="263.50" y="371.60" width="0.70" height="7.50" fill="#3cc0ea"/><rect x="268.01" y="371.60" width="1.40" height="7.50" fill="#1280b8"/><rect x="274.57" y="371.60" width="0.70" height="7.50" fill="#0b4f80"/><rect x="280.02" y="371.60" width="1.80" height="7.50" fill="#1280b8"/><rect x="285.56" y="371.60" width="1.10" height="7.50" fill="#0f6aa4"/><rect x="287.00" y="371.60" width="0.50" height="7.50" fill="#1280b8"/><rect x="287.62" y="371.60" width="0.50" height="7.50" fill="#0c5a8e"/><rect x="288.82" y="371.60" width="1.10" height="7.50" fill="#0e72ae"/><rect x="303.87" y="371.60" width="0.90" height="7.50" fill="#0f6aa4"/><rect x="307.03" y="371.60" width="0.90" height="7.50" fill="#1590c4"/><rect x="315.74" y="371.60" width="0.90" height="7.50" fill="#3cc0ea"/><rect x="317.22" y="371.60" width="0.70" height="7.50" fill="#0b4f80"/><rect x="318.12" y="371.60" width="0.90" height="7.50" fill="#0b4f80"/><rect x="322.06" y="371.60" width="0.70" height="7.50" fill="#1590c4"/><rect x="328.15" y="371.60" width="0.90" height="7.50" fill="#1590c4"/><rect x="330.53" y="371.60" width="1.80" height="7.50" fill="#1280b8"/><rect x="333.07" y="371.60" width="0.70" height="7.50" fill="#0c5a8e"/><rect x="335.87" y="371.60" width="0.50" height="7.50" fill="#1280b8"/><rect x="338.04" y="371.60" width="0.90" height="7.50" fill="#3cc0ea"/><rect x="339.97" y="371.60" width="1.40" height="7.50" fill="#0b4f80"/><rect x="342.77" y="371.60" width="0.50" height="7.50" fill="#3cc0ea"/><rect x="344.06" y="371.60" width="0.90" height="7.50" fill="#0b4f80"/><rect x="346.19" y="371.60" width="1.40" height="7.50" fill="#1590c4"/><rect x="358.13" y="371.60" width="0.70" height="7.50" fill="#1590c4"/><rect x="364.25" y="371.60" width="1.10" height="7.50" fill="#0c5a8e"/><rect x="367.91" y="371.60" width="0.70" height="7.50" fill="#0f6aa4"/><rect x="369.80" y="371.60" width="0.50" height="7.50" fill="#1590c4"/><rect x="370.71" y="371.60" width="0.70" height="7.50" fill="#0b4f80"/><rect x="376.48" y="371.60" width="1.10" height="7.50" fill="#1280b8"/><rect x="379.94" y="371.60" width="0.70" height="7.50" fill="#1280b8"/><rect x="393.10" y="371.60" width="1.10" height="7.50" fill="#3cc0ea"/><rect x="408.65" y="371.60" width="1.10" height="7.50" fill="#0f6aa4"/><rect x="411.17" y="371.60" width="1.10" height="7.50" fill="#0b4f80"/><rect x="415.03" y="371.60" width="1.80" height="7.50" fill="#3cc0ea"/><rect x="417.21" y="371.60" width="0.50" height="7.50" fill="#0c5a8e"/><rect x="418.71" y="371.60" width="1.40" height="7.50" fill="#0f6aa4"/><rect x="427.23" y="371.60" width="0.50" height="7.50" fill="#1590c4"/><rect x="431.07" y="371.60" width="0.90" height="7.50" fill="#1280b8"/><rect x="432.18" y="371.60" width="0.70" height="7.50" fill="#0c5a8e"/><rect x="434.06" y="371.60" width="0.70" height="7.50" fill="#1590c4"/><rect x="438.84" y="371.60" width="0.70" height="7.50" fill="#1280b8"/><rect x="441.20" y="371.60" width="0.90" height="7.50" fill="#1590c4"/><rect x="442.25" y="371.60" width="1.80" height="7.50" fill="#0b4f80"/><rect x="445.11" y="371.60" width="1.10" height="7.50" fill="#1280b8"/><rect x="446.48" y="371.60" width="0.90" height="7.50" fill="#1280b8"/><rect x="449.16" y="371.60" width="1.40" height="7.50" fill="#3cc0ea"/><rect x="453.86" y="371.60" width="0.90" height="7.50" fill="#1280b8"/><rect x="456.93" y="371.60" width="1.40" height="7.50" fill="#0f6aa4"/><rect x="460.78" y="371.60" width="0.70" height="7.50" fill="#3cc0ea"/><rect x="463.75" y="371.60" width="0.90" height="7.50" fill="#0f6aa4"/><rect x="468.62" y="371.60" width="0.90" height="7.50" fill="#0c5a8e"/><rect x="471.40" y="371.60" width="1.80" height="7.50" fill="#0f6aa4"/><rect x="475.99" y="371.60" width="0.50" height="7.50" fill="#1590c4"/><rect x="479.97" y="371.60" width="0.70" height="7.50" fill="#1590c4"/><rect x="485.08" y="371.60" width="1.40" height="7.50" fill="#0b4f80"/><rect x="489.56" y="371.60" width="1.80" height="7.50" fill="#3cc0ea"/><rect x="491.66" y="371.60" width="0.70" height="7.50" fill="#0c5a8e"/><rect x="494.36" y="371.60" width="1.40" height="7.50" fill="#0c5a8e"/><rect x="501.83" y="371.60" width="0.07" height="7.50" fill="#0e72ae"/>
<text x="142.1" y="387.6" font-size="7.8" fill="#3aa0d2" text-anchor="middle" font-weight="normal" font-style="normal" textLength="41.6" lengthAdjust="spacingAndGlyphs" stroke="#3aa0d2" stroke-width="0.08">155,456,141</text>
<text x="476.05" y="387.6" font-size="7.8" fill="#da513b" text-anchor="middle" font-weight="normal" font-style="normal" textLength="42.5" lengthAdjust="spacingAndGlyphs" stroke="#da513b" stroke-width="0.08">154,888,832</text>
<text transform="translate(16.2,341.9) rotate(-90)" x="0" y="0" font-size="8.9" fill="#333" font-weight="bold" text-anchor="middle" textLength="26.2" lengthAdjust="spacingAndGlyphs">Sample 3</text>
<path d="M30.599999999999998,304.0 Q25.9,304.0 25.9,308.0 L25.9,340.0 Q25.9,342.5 21.7,342.5 Q25.9,342.5 25.9,345.0 L25.9,375.5 Q25.9,379.5 30.599999999999998,379.5" fill="none" stroke="#6a6a6a" stroke-width="1.1"/>
<text x="30.5" y="310.9" font-size="7.9" fill="#222" text-anchor="start" font-weight="normal" font-style="normal" textLength="30" lengthAdjust="spacingAndGlyphs" stroke="#222" stroke-width="0.08">WT allele</text>
<text x="30.2" y="333.4" font-size="7.9" fill="#222" text-anchor="start" font-weight="normal" font-style="normal" textLength="29.8" lengthAdjust="spacingAndGlyphs" stroke="#222" stroke-width="0.08">Ref allele</text>
<text x="30.2" y="377.4" font-size="7.9" fill="#222" text-anchor="start" font-weight="normal" font-style="normal" textLength="34.4" lengthAdjust="spacingAndGlyphs" stroke="#222" stroke-width="0.08">MUT allele</text>
<text x="138.5" y="405.9" font-size="7.8" fill="#da513b" text-anchor="middle" font-weight="normal" font-style="normal" textLength="43.2" lengthAdjust="spacingAndGlyphs" stroke="#da513b" stroke-width="0.08">154,873,540</text>
<text x="427.5" y="405.6" font-size="7.8" fill="#f0ba58" text-anchor="middle" font-weight="normal" font-style="normal" textLength="42.4" lengthAdjust="spacingAndGlyphs" stroke="#f0ba58" stroke-width="0.08">155,373,241</text>
<text x="482.0" y="405.6" font-size="7.8" fill="#3aa0d2" text-anchor="middle" font-weight="normal" font-style="normal" textLength="43.2" lengthAdjust="spacingAndGlyphs" stroke="#3aa0d2" stroke-width="0.08">155,467,470</text>
<line x1="95.25" y1="418.50" x2="95.25" y2="436.70" stroke="#dedede" stroke-width="0.6"/><line x1="107.64" y1="418.50" x2="107.64" y2="436.70" stroke="#d2d2d2" stroke-width="0.6"/><line x1="106.88" y1="418.50" x2="106.88" y2="436.70" stroke="#d6d6d6" stroke-width="0.6"/><line x1="113.13" y1="418.50" x2="113.13" y2="436.70" stroke="#d6d6d6" stroke-width="0.6"/><line x1="136.27" y1="418.50" x2="136.27" y2="436.70" stroke="#d2d2d2" stroke-width="0.6"/><line x1="136.19" y1="418.50" x2="136.19" y2="436.70" stroke="#cdcdcd" stroke-width="0.6"/><line x1="121.98" y1="418.50" x2="121.98" y2="436.70" stroke="#d6d6d6" stroke-width="0.6"/><line x1="71.50" y1="418.50" x2="71.50" y2="436.70" stroke="#cdcdcd" stroke-width="0.6"/><line x1="71.50" y1="418.50" x2="71.50" y2="436.70" stroke="#d6d6d6" stroke-width="0.6"/><line x1="115.49" y1="418.50" x2="115.49" y2="436.70" stroke="#d2d2d2" stroke-width="0.6"/><line x1="69.60" y1="418.50" x2="69.60" y2="436.70" stroke="#cdcdcd" stroke-width="0.6"/><line x1="68.89" y1="418.50" x2="68.89" y2="436.70" stroke="#d6d6d6" stroke-width="0.6"/><line x1="68.66" y1="418.50" x2="68.66" y2="436.70" stroke="#cdcdcd" stroke-width="0.6"/><line x1="95.16" y1="418.50" x2="95.16" y2="436.70" stroke="#cdcdcd" stroke-width="0.6"/><line x1="94.90" y1="418.50" x2="94.90" y2="436.70" stroke="#dedede" stroke-width="0.6"/><line x1="134.11" y1="418.50" x2="134.11" y2="436.70" stroke="#d2d2d2" stroke-width="0.6"/><line x1="132.87" y1="418.50" x2="132.87" y2="436.70" stroke="#cdcdcd" stroke-width="0.6"/><line x1="113.65" y1="418.50" x2="113.65" y2="436.70" stroke="#cdcdcd" stroke-width="0.6"/><line x1="113.55" y1="418.50" x2="113.55" y2="436.70" stroke="#cdcdcd" stroke-width="0.6"/><line x1="136.31" y1="418.50" x2="136.31" y2="436.70" stroke="#cdcdcd" stroke-width="0.6"/><line x1="109.21" y1="418.50" x2="109.21" y2="436.70" stroke="#d6d6d6" stroke-width="0.6"/><line x1="109.46" y1="418.50" x2="109.46" y2="436.70" stroke="#c4c4c4" stroke-width="0.6"/><line x1="117.73" y1="418.50" x2="117.73" y2="436.70" stroke="#c4c4c4" stroke-width="0.6"/><line x1="118.89" y1="418.50" x2="118.89" y2="436.70" stroke="#d6d6d6" stroke-width="0.6"/><line x1="87.06" y1="418.50" x2="87.06" y2="436.70" stroke="#c4c4c4" stroke-width="0.6"/><line x1="87.39" y1="418.50" x2="87.39" y2="436.70" stroke="#cdcdcd" stroke-width="0.6"/><line x1="82.00" y1="418.50" x2="82.00" y2="436.70" stroke="#dedede" stroke-width="0.6"/><line x1="114.23" y1="418.50" x2="114.23" y2="436.70" stroke="#d2d2d2" stroke-width="0.6"/><line x1="78.07" y1="418.50" x2="78.07" y2="436.70" stroke="#cdcdcd" stroke-width="0.6"/><line x1="78.54" y1="418.50" x2="78.54" y2="436.70" stroke="#dedede" stroke-width="0.6"/><line x1="109.33" y1="418.50" x2="109.33" y2="436.70" stroke="#c4c4c4" stroke-width="0.6"/><line x1="130.12" y1="418.50" x2="130.12" y2="436.70" stroke="#d6d6d6" stroke-width="0.6"/><line x1="130.16" y1="418.50" x2="130.16" y2="436.70" stroke="#d2d2d2" stroke-width="0.6"/><line x1="104.49" y1="418.50" x2="104.49" y2="436.70" stroke="#cdcdcd" stroke-width="0.6"/>
<line x1="177.56" y1="418.50" x2="177.56" y2="436.70" stroke="#d6d6d6" stroke-width="0.6"/><line x1="177.18" y1="418.50" x2="177.18" y2="436.70" stroke="#cdcdcd" stroke-width="0.6"/><line x1="176.85" y1="418.50" x2="176.85" y2="436.70" stroke="#cdcdcd" stroke-width="0.6"/><line x1="200.57" y1="418.50" x2="200.57" y2="436.70" stroke="#dedede" stroke-width="0.6"/><line x1="200.01" y1="418.50" x2="200.01" y2="436.70" stroke="#c4c4c4" stroke-width="0.6"/><line x1="408.81" y1="418.50" x2="408.81" y2="436.70" stroke="#dedede" stroke-width="0.6"/><line x1="424.44" y1="418.50" x2="424.44" y2="436.70" stroke="#d2d2d2" stroke-width="0.6"/><line x1="422.91" y1="418.50" x2="422.91" y2="436.70" stroke="#d2d2d2" stroke-width="0.6"/><line x1="385.62" y1="418.50" x2="385.62" y2="436.70" stroke="#dedede" stroke-width="0.6"/><line x1="386.72" y1="418.50" x2="386.72" y2="436.70" stroke="#c4c4c4" stroke-width="0.6"/><line x1="281.65" y1="418.50" x2="281.65" y2="436.70" stroke="#cdcdcd" stroke-width="0.6"/><line x1="208.61" y1="418.50" x2="208.61" y2="436.70" stroke="#c4c4c4" stroke-width="0.6"/><line x1="279.85" y1="418.50" x2="279.85" y2="436.70" stroke="#cdcdcd" stroke-width="0.6"/><line x1="279.06" y1="418.50" x2="279.06" y2="436.70" stroke="#c4c4c4" stroke-width="0.6"/><line x1="279.87" y1="418.50" x2="279.87" y2="436.70" stroke="#cdcdcd" stroke-width="0.6"/><line x1="157.33" y1="418.50" x2="157.33" y2="436.70" stroke="#d2d2d2" stroke-width="0.6"/><line x1="159.14" y1="418.50" x2="159.14" y2="436.70" stroke="#c4c4c4" stroke-width="0.6"/><line x1="302.22" y1="418.50" x2="302.22" y2="436.70" stroke="#cdcdcd" stroke-width="0.6"/><line x1="302.58" y1="418.50" x2="302.58" y2="436.70" stroke="#dedede" stroke-width="0.6"/><line x1="258.37" y1="418.50" x2="258.37" y2="436.70" stroke="#d2d2d2" stroke-width="0.6"/><line x1="258.33" y1="418.50" x2="258.33" y2="436.70" stroke="#cdcdcd" stroke-width="0.6"/><line x1="384.74" y1="418.50" x2="384.74" y2="436.70" stroke="#cdcdcd" stroke-width="0.6"/><line x1="240.42" y1="418.50" x2="240.42" y2="436.70" stroke="#d2d2d2" stroke-width="0.6"/><line x1="239.32" y1="418.50" x2="239.32" y2="436.70" stroke="#d6d6d6" stroke-width="0.6"/><line x1="240.92" y1="418.50" x2="240.92" y2="436.70" stroke="#dedede" stroke-width="0.6"/><line x1="394.91" y1="418.50" x2="394.91" y2="436.70" stroke="#d2d2d2" stroke-width="0.6"/><line x1="394.34" y1="418.50" x2="394.34" y2="436.70" stroke="#d6d6d6" stroke-width="0.6"/><line x1="394.65" y1="418.50" x2="394.65" y2="436.70" stroke="#dedede" stroke-width="0.6"/><line x1="210.07" y1="418.50" x2="210.07" y2="436.70" stroke="#cdcdcd" stroke-width="0.6"/><line x1="349.52" y1="418.50" x2="349.52" y2="436.70" stroke="#dedede" stroke-width="0.6"/><line x1="382.40" y1="418.50" x2="382.40" y2="436.70" stroke="#d6d6d6" stroke-width="0.6"/><line x1="383.13" y1="418.50" x2="383.13" y2="436.70" stroke="#d6d6d6" stroke-width="0.6"/><line x1="208.99" y1="418.50" x2="208.99" y2="436.70" stroke="#d6d6d6" stroke-width="0.6"/><line x1="209.74" y1="418.50" x2="209.74" y2="436.70" stroke="#d6d6d6" stroke-width="0.6"/><line x1="153.69" y1="418.50" x2="153.69" y2="436.70" stroke="#dedede" stroke-width="0.6"/><line x1="154.37" y1="418.50" x2="154.37" y2="436.70" stroke="#d2d2d2" stroke-width="0.6"/><line x1="153.97" y1="418.50" x2="153.97" y2="436.70" stroke="#d2d2d2" stroke-width="0.6"/><line x1="290.74" y1="418.50" x2="290.74" y2="436.70" stroke="#dedede" stroke-width="0.6"/><line x1="289.46" y1="418.50" x2="289.46" y2="436.70" stroke="#cdcdcd" stroke-width="0.6"/><line x1="289.93" y1="418.50" x2="289.93" y2="436.70" stroke="#d2d2d2" stroke-width="0.6"/><line x1="280.29" y1="418.50" x2="280.29" y2="436.70" stroke="#d2d2d2" stroke-width="0.6"/><line x1="279.74" y1="418.50" x2="279.74" y2="436.70" stroke="#d6d6d6" stroke-width="0.6"/><line x1="279.77" y1="418.50" x2="279.77" y2="436.70" stroke="#dedede" stroke-width="0.6"/><line x1="279.11" y1="418.50" x2="279.11" y2="436.70" stroke="#c4c4c4" stroke-width="0.6"/><line x1="279.00" y1="418.50" x2="279.00" y2="436.70" stroke="#d6d6d6" stroke-width="0.6"/><line x1="297.65" y1="418.50" x2="297.65" y2="436.70" stroke="#dedede" stroke-width="0.6"/><line x1="297.86" y1="418.50" x2="297.86" y2="436.70" stroke="#d6d6d6" stroke-width="0.6"/><line x1="324.25" y1="418.50" x2="324.25" y2="436.70" stroke="#dedede" stroke-width="0.6"/><line x1="326.07" y1="418.50" x2="326.07" y2="436.70" stroke="#dedede" stroke-width="0.6"/><line x1="413.03" y1="418.50" x2="413.03" y2="436.70" stroke="#d6d6d6" stroke-width="0.6"/><line x1="412.23" y1="418.50" x2="412.23" y2="436.70" stroke="#d6d6d6" stroke-width="0.6"/><line x1="411.02" y1="418.50" x2="411.02" y2="436.70" stroke="#cdcdcd" stroke-width="0.6"/><line x1="297.26" y1="418.50" x2="297.26" y2="436.70" stroke="#c4c4c4" stroke-width="0.6"/><line x1="296.98" y1="418.50" x2="296.98" y2="436.70" stroke="#d6d6d6" stroke-width="0.6"/><line x1="141.04" y1="418.50" x2="141.04" y2="436.70" stroke="#d2d2d2" stroke-width="0.6"/><line x1="312.19" y1="418.50" x2="312.19" y2="436.70" stroke="#d2d2d2" stroke-width="0.6"/><line x1="313.68" y1="418.50" x2="313.68" y2="436.70" stroke="#dedede" stroke-width="0.6"/><line x1="396.88" y1="418.50" x2="396.88" y2="436.70" stroke="#dedede" stroke-width="0.6"/><line x1="183.64" y1="418.50" x2="183.64" y2="436.70" stroke="#dedede" stroke-width="0.6"/><line x1="182.60" y1="418.50" x2="182.60" y2="436.70" stroke="#c4c4c4" stroke-width="0.6"/><line x1="183.15" y1="418.50" x2="183.15" y2="436.70" stroke="#c4c4c4" stroke-width="0.6"/><line x1="401.66" y1="418.50" x2="401.66" y2="436.70" stroke="#d6d6d6" stroke-width="0.6"/><line x1="381.49" y1="418.50" x2="381.49" y2="436.70" stroke="#c4c4c4" stroke-width="0.6"/><line x1="382.30" y1="418.50" x2="382.30" y2="436.70" stroke="#d6d6d6" stroke-width="0.6"/><line x1="144.30" y1="418.50" x2="144.30" y2="436.70" stroke="#d2d2d2" stroke-width="0.6"/><line x1="144.68" y1="418.50" x2="144.68" y2="436.70" stroke="#dedede" stroke-width="0.6"/><line x1="271.51" y1="418.50" x2="271.51" y2="436.70" stroke="#d2d2d2" stroke-width="0.6"/><line x1="271.12" y1="418.50" x2="271.12" y2="436.70" stroke="#cdcdcd" stroke-width="0.6"/><line x1="309.84" y1="418.50" x2="309.84" y2="436.70" stroke="#d2d2d2" stroke-width="0.6"/><line x1="310.17" y1="418.50" x2="310.17" y2="436.70" stroke="#dedede" stroke-width="0.6"/><line x1="254.77" y1="418.50" x2="254.77" y2="436.70" stroke="#d2d2d2" stroke-width="0.6"/><line x1="255.30" y1="418.50" x2="255.30" y2="436.70" stroke="#cdcdcd" stroke-width="0.6"/><line x1="193.78" y1="418.50" x2="193.78" y2="436.70" stroke="#cdcdcd" stroke-width="0.6"/><line x1="194.49" y1="418.50" x2="194.49" y2="436.70" stroke="#cdcdcd" stroke-width="0.6"/><line x1="194.16" y1="418.50" x2="194.16" y2="436.70" stroke="#d2d2d2" stroke-width="0.6"/><line x1="322.86" y1="418.50" x2="322.86" y2="436.70" stroke="#d2d2d2" stroke-width="0.6"/><line x1="292.14" y1="418.50" x2="292.14" y2="436.70" stroke="#cdcdcd" stroke-width="0.6"/><line x1="291.51" y1="418.50" x2="291.51" y2="436.70" stroke="#cdcdcd" stroke-width="0.6"/><line x1="377.50" y1="418.50" x2="377.50" y2="436.70" stroke="#c4c4c4" stroke-width="0.6"/><line x1="208.18" y1="418.50" x2="208.18" y2="436.70" stroke="#d2d2d2" stroke-width="0.6"/><line x1="207.60" y1="418.50" x2="207.60" y2="436.70" stroke="#dedede" stroke-width="0.6"/><line x1="207.88" y1="418.50" x2="207.88" y2="436.70" stroke="#d6d6d6" stroke-width="0.6"/><line x1="267.26" y1="418.50" x2="267.26" y2="436.70" stroke="#cdcdcd" stroke-width="0.6"/><line x1="267.38" y1="418.50" x2="267.38" y2="436.70" stroke="#d6d6d6" stroke-width="0.6"/><line x1="156.02" y1="418.50" x2="156.02" y2="436.70" stroke="#d2d2d2" stroke-width="0.6"/><line x1="155.06" y1="418.50" x2="155.06" y2="436.70" stroke="#cdcdcd" stroke-width="0.6"/><line x1="388.01" y1="418.50" x2="388.01" y2="436.70" stroke="#dedede" stroke-width="0.6"/><line x1="408.24" y1="418.50" x2="408.24" y2="436.70" stroke="#cdcdcd" stroke-width="0.6"/><line x1="227.57" y1="418.50" x2="227.57" y2="436.70" stroke="#c4c4c4" stroke-width="0.6"/><line x1="150.57" y1="418.50" x2="150.57" y2="436.70" stroke="#c4c4c4" stroke-width="0.6"/><line x1="309.11" y1="418.50" x2="309.11" y2="436.70" stroke="#c4c4c4" stroke-width="0.6"/><line x1="308.98" y1="418.50" x2="308.98" y2="436.70" stroke="#dedede" stroke-width="0.6"/><line x1="395.50" y1="418.50" x2="395.50" y2="436.70" stroke="#cdcdcd" stroke-width="0.6"/><line x1="396.02" y1="418.50" x2="396.02" y2="436.70" stroke="#dedede" stroke-width="0.6"/><line x1="159.80" y1="418.50" x2="159.80" y2="436.70" stroke="#d2d2d2" stroke-width="0.6"/><line x1="255.75" y1="418.50" x2="255.75" y2="436.70" stroke="#d2d2d2" stroke-width="0.6"/><line x1="254.40" y1="418.50" x2="254.40" y2="436.70" stroke="#d2d2d2" stroke-width="0.6"/><line x1="347.53" y1="418.50" x2="347.53" y2="436.70" stroke="#cdcdcd" stroke-width="0.6"/><line x1="347.74" y1="418.50" x2="347.74" y2="436.70" stroke="#dedede" stroke-width="0.6"/><line x1="346.01" y1="418.50" x2="346.01" y2="436.70" stroke="#d2d2d2" stroke-width="0.6"/><line x1="209.84" y1="418.50" x2="209.84" y2="436.70" stroke="#d6d6d6" stroke-width="0.6"/><line x1="209.18" y1="418.50" x2="209.18" y2="436.70" stroke="#d6d6d6" stroke-width="0.6"/><line x1="332.56" y1="418.50" x2="332.56" y2="436.70" stroke="#d2d2d2" stroke-width="0.6"/><line x1="143.36" y1="418.50" x2="143.36" y2="436.70" stroke="#d6d6d6" stroke-width="0.6"/><line x1="409.85" y1="418.50" x2="409.85" y2="436.70" stroke="#d6d6d6" stroke-width="0.6"/><line x1="140.87" y1="418.50" x2="140.87" y2="436.70" stroke="#cdcdcd" stroke-width="0.6"/><line x1="139.66" y1="418.50" x2="139.66" y2="436.70" stroke="#d2d2d2" stroke-width="0.6"/><line x1="302.05" y1="418.50" x2="302.05" y2="436.70" stroke="#d6d6d6" stroke-width="0.6"/><line x1="285.18" y1="418.50" x2="285.18" y2="436.70" stroke="#cdcdcd" stroke-width="0.6"/><line x1="259.05" y1="418.50" x2="259.05" y2="436.70" stroke="#d2d2d2" stroke-width="0.6"/><line x1="259.36" y1="418.50" x2="259.36" y2="436.70" stroke="#d6d6d6" stroke-width="0.6"/><line x1="385.53" y1="418.50" x2="385.53" y2="436.70" stroke="#dedede" stroke-width="0.6"/><line x1="403.54" y1="418.50" x2="403.54" y2="436.70" stroke="#d6d6d6" stroke-width="0.6"/><line x1="341.04" y1="418.50" x2="341.04" y2="436.70" stroke="#d6d6d6" stroke-width="0.6"/><line x1="341.71" y1="418.50" x2="341.71" y2="436.70" stroke="#d2d2d2" stroke-width="0.6"/><line x1="341.48" y1="418.50" x2="341.48" y2="436.70" stroke="#d6d6d6" stroke-width="0.6"/><line x1="199.47" y1="418.50" x2="199.47" y2="436.70" stroke="#c4c4c4" stroke-width="0.6"/><line x1="198.40" y1="418.50" x2="198.40" y2="436.70" stroke="#dedede" stroke-width="0.6"/><line x1="285.97" y1="418.50" x2="285.97" y2="436.70" stroke="#dedede" stroke-width="0.6"/><line x1="287.18" y1="418.50" x2="287.18" y2="436.70" stroke="#dedede" stroke-width="0.6"/><line x1="417.31" y1="418.50" x2="417.31" y2="436.70" stroke="#d2d2d2" stroke-width="0.6"/><line x1="205.95" y1="418.50" x2="205.95" y2="436.70" stroke="#cdcdcd" stroke-width="0.6"/><line x1="204.97" y1="418.50" x2="204.97" y2="436.70" stroke="#d2d2d2" stroke-width="0.6"/><line x1="310.26" y1="418.50" x2="310.26" y2="436.70" stroke="#c4c4c4" stroke-width="0.6"/><line x1="246.95" y1="418.50" x2="246.95" y2="436.70" stroke="#cdcdcd" stroke-width="0.6"/><line x1="247.02" y1="418.50" x2="247.02" y2="436.70" stroke="#cdcdcd" stroke-width="0.6"/><line x1="355.37" y1="418.50" x2="355.37" y2="436.70" stroke="#c4c4c4" stroke-width="0.6"/><line x1="282.47" y1="418.50" x2="282.47" y2="436.70" stroke="#d2d2d2" stroke-width="0.6"/><line x1="232.67" y1="418.50" x2="232.67" y2="436.70" stroke="#c4c4c4" stroke-width="0.6"/><line x1="205.09" y1="418.50" x2="205.09" y2="436.70" stroke="#d6d6d6" stroke-width="0.6"/><line x1="205.32" y1="418.50" x2="205.32" y2="436.70" stroke="#dedede" stroke-width="0.6"/><line x1="280.41" y1="418.50" x2="280.41" y2="436.70" stroke="#cdcdcd" stroke-width="0.6"/><line x1="279.69" y1="418.50" x2="279.69" y2="436.70" stroke="#dedede" stroke-width="0.6"/><line x1="414.42" y1="418.50" x2="414.42" y2="436.70" stroke="#d2d2d2" stroke-width="0.6"/><line x1="414.42" y1="418.50" x2="414.42" y2="436.70" stroke="#d2d2d2" stroke-width="0.6"/><line x1="204.91" y1="418.50" x2="204.91" y2="436.70" stroke="#cdcdcd" stroke-width="0.6"/><line x1="205.63" y1="418.50" x2="205.63" y2="436.70" stroke="#cdcdcd" stroke-width="0.6"/><line x1="248.58" y1="418.50" x2="248.58" y2="436.70" stroke="#d2d2d2" stroke-width="0.6"/><line x1="295.94" y1="418.50" x2="295.94" y2="436.70" stroke="#c4c4c4" stroke-width="0.6"/><line x1="295.96" y1="418.50" x2="295.96" y2="436.70" stroke="#cdcdcd" stroke-width="0.6"/><line x1="402.23" y1="418.50" x2="402.23" y2="436.70" stroke="#d6d6d6" stroke-width="0.6"/><line x1="401.72" y1="418.50" x2="401.72" y2="436.70" stroke="#cdcdcd" stroke-width="0.6"/><line x1="402.34" y1="418.50" x2="402.34" y2="436.70" stroke="#d2d2d2" stroke-width="0.6"/><line x1="230.96" y1="418.50" x2="230.96" y2="436.70" stroke="#c4c4c4" stroke-width="0.6"/><line x1="231.59" y1="418.50" x2="231.59" y2="436.70" stroke="#dedede" stroke-width="0.6"/><line x1="229.96" y1="418.50" x2="229.96" y2="436.70" stroke="#cdcdcd" stroke-width="0.6"/><line x1="375.81" y1="418.50" x2="375.81" y2="436.70" stroke="#cdcdcd" stroke-width="0.6"/><line x1="376.41" y1="418.50" x2="376.41" y2="436.70" stroke="#c4c4c4" stroke-width="0.6"/><line x1="378.86" y1="418.50" x2="378.86" y2="436.70" stroke="#d6d6d6" stroke-width="0.6"/><line x1="167.07" y1="418.50" x2="167.07" y2="436.70" stroke="#d6d6d6" stroke-width="0.6"/><line x1="167.20" y1="418.50" x2="167.20" y2="436.70" stroke="#d6d6d6" stroke-width="0.6"/>
<line x1="458.35" y1="418.50" x2="458.35" y2="436.70" stroke="#d2d2d2" stroke-width="0.6"/><line x1="439.77" y1="418.50" x2="439.77" y2="436.70" stroke="#cdcdcd" stroke-width="0.6"/><line x1="439.22" y1="418.50" x2="439.22" y2="436.70" stroke="#d6d6d6" stroke-width="0.6"/><line x1="440.60" y1="418.50" x2="440.60" y2="436.70" stroke="#dedede" stroke-width="0.6"/><line x1="440.01" y1="418.50" x2="440.01" y2="436.70" stroke="#cdcdcd" stroke-width="0.6"/><line x1="440.43" y1="418.50" x2="440.43" y2="436.70" stroke="#d6d6d6" stroke-width="0.6"/><line x1="454.36" y1="418.50" x2="454.36" y2="436.70" stroke="#d2d2d2" stroke-width="0.6"/><line x1="443.59" y1="418.50" x2="443.59" y2="436.70" stroke="#d6d6d6" stroke-width="0.6"/><line x1="444.00" y1="418.50" x2="444.00" y2="436.70" stroke="#cdcdcd" stroke-width="0.6"/><line x1="479.42" y1="418.50" x2="479.42" y2="436.70" stroke="#c4c4c4" stroke-width="0.6"/><line x1="479.48" y1="418.50" x2="479.48" y2="436.70" stroke="#d6d6d6" stroke-width="0.6"/><line x1="478.22" y1="418.50" x2="478.22" y2="436.70" stroke="#d2d2d2" stroke-width="0.6"/><line x1="443.83" y1="418.50" x2="443.83" y2="436.70" stroke="#d2d2d2" stroke-width="0.6"/><line x1="443.76" y1="418.50" x2="443.76" y2="436.70" stroke="#cdcdcd" stroke-width="0.6"/><line x1="470.45" y1="418.50" x2="470.45" y2="436.70" stroke="#d2d2d2" stroke-width="0.6"/><line x1="463.93" y1="418.50" x2="463.93" y2="436.70" stroke="#c4c4c4" stroke-width="0.6"/><line x1="464.36" y1="418.50" x2="464.36" y2="436.70" stroke="#c4c4c4" stroke-width="0.6"/><line x1="429.33" y1="418.50" x2="429.33" y2="436.70" stroke="#dedede" stroke-width="0.6"/><line x1="428.90" y1="418.50" x2="428.90" y2="436.70" stroke="#c4c4c4" stroke-width="0.6"/><line x1="428.90" y1="418.50" x2="428.90" y2="436.70" stroke="#c4c4c4" stroke-width="0.6"/><line x1="438.45" y1="418.50" x2="438.45" y2="436.70" stroke="#d2d2d2" stroke-width="0.6"/><line x1="438.28" y1="418.50" x2="438.28" y2="436.70" stroke="#d6d6d6" stroke-width="0.6"/><line x1="438.26" y1="418.50" x2="438.26" y2="436.70" stroke="#d2d2d2" stroke-width="0.6"/><line x1="472.47" y1="418.50" x2="472.47" y2="436.70" stroke="#dedede" stroke-width="0.6"/><line x1="472.53" y1="418.50" x2="472.53" y2="436.70" stroke="#cdcdcd" stroke-width="0.6"/><line x1="477.52" y1="418.50" x2="477.52" y2="436.70" stroke="#cdcdcd" stroke-width="0.6"/><line x1="476.64" y1="418.50" x2="476.64" y2="436.70" stroke="#cdcdcd" stroke-width="0.6"/><line x1="477.58" y1="418.50" x2="477.58" y2="436.70" stroke="#c4c4c4" stroke-width="0.6"/>
<line x1="494.15" y1="418.50" x2="494.15" y2="436.70" stroke="#d2d2d2" stroke-width="0.6"/><line x1="491.55" y1="418.50" x2="491.55" y2="436.70" stroke="#cdcdcd" stroke-width="0.6"/><line x1="491.56" y1="418.50" x2="491.56" y2="436.70" stroke="#cdcdcd" stroke-width="0.6"/><line x1="499.26" y1="418.50" x2="499.26" y2="436.70" stroke="#d2d2d2" stroke-width="0.6"/><line x1="498.44" y1="418.50" x2="498.44" y2="436.70" stroke="#d6d6d6" stroke-width="0.6"/><line x1="487.04" y1="418.50" x2="487.04" y2="436.70" stroke="#c4c4c4" stroke-width="0.6"/><line x1="487.72" y1="418.50" x2="487.72" y2="436.70" stroke="#d6d6d6" stroke-width="0.6"/><line x1="496.79" y1="418.50" x2="496.79" y2="436.70" stroke="#dedede" stroke-width="0.6"/>
<line x1="138.00" y1="418.50" x2="138.00" y2="436.70" stroke="#cf3523" stroke-width="1.3"/>
<line x1="428.40" y1="418.50" x2="428.40" y2="436.70" stroke="#eca82e" stroke-width="1.1"/>
<line x1="483.00" y1="418.50" x2="483.00" y2="436.70" stroke="#2c98c8" stroke-width="1.1"/>
<defs><clipPath id="c4"><rect x="67.0" y="445.0" width="434.9" height="45.0"/></clipPath></defs>
<g clip-path="url(#c4)">
<line x1="75.13" y1="445.00" x2="15.83" y2="490.00" stroke="#b4b4b4" stroke-width="0.6"/>
<line x1="76.51" y1="445.00" x2="17.21" y2="490.00" stroke="#c0c0c0" stroke-width="0.6"/>
<line x1="69.51" y1="445.00" x2="10.21" y2="490.00" stroke="#b4b4b4" stroke-width="0.6"/>
<line x1="75.64" y1="445.00" x2="16.34" y2="490.00" stroke="#b4b4b4" stroke-width="0.6"/>
<line x1="74.47" y1="445.00" x2="15.17" y2="490.00" stroke="#b4b4b4" stroke-width="0.6"/>
<line x1="66.90" y1="445.00" x2="7.60" y2="490.00" stroke="#c0c0c0" stroke-width="0.6"/>
<line x1="69.64" y1="445.00" x2="10.34" y2="490.00" stroke="#b4b4b4" stroke-width="0.6"/>
<line x1="74.08" y1="445.00" x2="14.78" y2="490.00" stroke="#cacaca" stroke-width="0.6"/>
<line x1="69.48" y1="445.00" x2="10.18" y2="490.00" stroke="#a8a8a8" stroke-width="0.6"/>
<line x1="77.43" y1="445.00" x2="18.13" y2="490.00" stroke="#b4b4b4" stroke-width="0.6"/>
<line x1="76.74" y1="445.00" x2="17.44" y2="490.00" stroke="#c0c0c0" stroke-width="0.6"/>
<line x1="75.92" y1="445.00" x2="16.62" y2="490.00" stroke="#a8a8a8" stroke-width="0.6"/>
<line x1="93.84" y1="445.00" x2="34.54" y2="490.00" stroke="#c0c0c0" stroke-width="0.6"/>
<line x1="108.10" y1="445.00" x2="48.80" y2="490.00" stroke="#a8a8a8" stroke-width="0.6"/>
<line x1="90.15" y1="445.00" x2="30.85" y2="490.00" stroke="#cacaca" stroke-width="0.6"/>
<line x1="90.03" y1="445.00" x2="30.73" y2="490.00" stroke="#a8a8a8" stroke-width="0.6"/>
<line x1="100.68" y1="445.00" x2="41.38" y2="490.00" stroke="#b4b4b4" stroke-width="0.6"/>
<line x1="103.32" y1="445.00" x2="44.02" y2="490.00" stroke="#b4b4b4" stroke-width="0.6"/>
<line x1="108.44" y1="445.00" x2="49.14" y2="490.00" stroke="#cacaca" stroke-width="0.6"/>
<line x1="89.65" y1="445.00" x2="30.35" y2="490.00" stroke="#a8a8a8" stroke-width="0.6"/>
<line x1="105.42" y1="445.00" x2="46.12" y2="490.00" stroke="#a8a8a8" stroke-width="0.6"/>
<line x1="100.12" y1="445.00" x2="40.82" y2="490.00" stroke="#b4b4b4" stroke-width="0.6"/>
<line x1="88.96" y1="445.00" x2="29.66" y2="490.00" stroke="#c0c0c0" stroke-width="0.6"/>
<line x1="104.23" y1="445.00" x2="44.93" y2="490.00" stroke="#b4b4b4" stroke-width="0.6"/>
<line x1="105.96" y1="445.00" x2="46.66" y2="490.00" stroke="#b4b4b4" stroke-width="0.6"/>
<line x1="95.98" y1="445.00" x2="36.68" y2="490.00" stroke="#cacaca" stroke-width="0.6"/>
<line x1="101.35" y1="445.00" x2="42.05" y2="490.00" stroke="#a8a8a8" stroke-width="0.6"/>
<line x1="91.42" y1="445.00" x2="32.12" y2="490.00" stroke="#a8a8a8" stroke-width="0.6"/>
<line x1="81.68" y1="445.00" x2="22.38" y2="490.00" stroke="#dadada" stroke-width="0.6"/>
<line x1="85.61" y1="445.00" x2="26.31" y2="490.00" stroke="#d0d0d0" stroke-width="0.6"/>
<line x1="126.45" y1="445.00" x2="67.15" y2="490.00" stroke="#e0d8dc" stroke-width="0.6"/>
<line x1="124.42" y1="445.00" x2="65.12" y2="490.00" stroke="#e0d8dc" stroke-width="0.6"/>
<line x1="114.41" y1="445.00" x2="55.11" y2="490.00" stroke="#e6dde0" stroke-width="0.6"/>
<line x1="117.29" y1="445.00" x2="57.99" y2="490.00" stroke="#e0d8dc" stroke-width="0.6"/>
<line x1="128.48" y1="445.00" x2="69.18" y2="490.00" stroke="#dcd4d8" stroke-width="0.6"/>
<line x1="116.18" y1="445.00" x2="56.88" y2="490.00" stroke="#dcd4d8" stroke-width="0.6"/>
<line x1="131.74" y1="445.00" x2="72.44" y2="490.00" stroke="#e6dde0" stroke-width="0.6"/>
<line x1="117.23" y1="445.00" x2="57.93" y2="490.00" stroke="#e0d8dc" stroke-width="0.6"/>
<line x1="134.65" y1="445.00" x2="75.35" y2="490.00" stroke="#d4d4d4" stroke-width="0.6"/>
<line x1="177.56" y1="445.00" x2="177.56" y2="490.00" stroke="#d6d6d6" stroke-width="0.6"/><line x1="177.18" y1="445.00" x2="177.18" y2="490.00" stroke="#cdcdcd" stroke-width="0.6"/><line x1="176.85" y1="445.00" x2="176.85" y2="490.00" stroke="#cdcdcd" stroke-width="0.6"/><line x1="200.57" y1="445.00" x2="200.57" y2="490.00" stroke="#dedede" stroke-width="0.6"/><line x1="200.01" y1="445.00" x2="200.01" y2="490.00" stroke="#c4c4c4" stroke-width="0.6"/><line x1="408.81" y1="445.00" x2="408.81" y2="490.00" stroke="#dedede" stroke-width="0.6"/><line x1="424.44" y1="445.00" x2="424.44" y2="490.00" stroke="#d2d2d2" stroke-width="0.6"/><line x1="422.91" y1="445.00" x2="422.91" y2="490.00" stroke="#d2d2d2" stroke-width="0.6"/><line x1="385.62" y1="445.00" x2="385.62" y2="490.00" stroke="#dedede" stroke-width="0.6"/><line x1="386.72" y1="445.00" x2="386.72" y2="490.00" stroke="#c4c4c4" stroke-width="0.6"/><line x1="281.65" y1="445.00" x2="281.65" y2="490.00" stroke="#cdcdcd" stroke-width="0.6"/><line x1="208.61" y1="445.00" x2="208.61" y2="490.00" stroke="#c4c4c4" stroke-width="0.6"/><line x1="279.85" y1="445.00" x2="279.85" y2="490.00" stroke="#cdcdcd" stroke-width="0.6"/><line x1="279.06" y1="445.00" x2="279.06" y2="490.00" stroke="#c4c4c4" stroke-width="0.6"/><line x1="279.87" y1="445.00" x2="279.87" y2="490.00" stroke="#cdcdcd" stroke-width="0.6"/><line x1="157.33" y1="445.00" x2="157.33" y2="490.00" stroke="#d2d2d2" stroke-width="0.6"/><line x1="159.14" y1="445.00" x2="159.14" y2="490.00" stroke="#c4c4c4" stroke-width="0.6"/><line x1="302.22" y1="445.00" x2="302.22" y2="490.00" stroke="#cdcdcd" stroke-width="0.6"/><line x1="302.58" y1="445.00" x2="302.58" y2="490.00" stroke="#dedede" stroke-width="0.6"/><line x1="258.37" y1="445.00" x2="258.37" y2="490.00" stroke="#d2d2d2" stroke-width="0.6"/><line x1="258.33" y1="445.00" x2="258.33" y2="490.00" stroke="#cdcdcd" stroke-width="0.6"/><line x1="384.74" y1="445.00" x2="384.74" y2="490.00" stroke="#cdcdcd" stroke-width="0.6"/><line x1="240.42" y1="445.00" x2="240.42" y2="490.00" stroke="#d2d2d2" stroke-width="0.6"/><line x1="239.32" y1="445.00" x2="239.32" y2="490.00" stroke="#d6d6d6" stroke-width="0.6"/><line x1="240.92" y1="445.00" x2="240.92" y2="490.00" stroke="#dedede" stroke-width="0.6"/><line x1="394.91" y1="445.00" x2="394.91" y2="490.00" stroke="#d2d2d2" stroke-width="0.6"/><line x1="394.34" y1="445.00" x2="394.34" y2="490.00" stroke="#d6d6d6" stroke-width="0.6"/><line x1="394.65" y1="445.00" x2="394.65" y2="490.00" stroke="#dedede" stroke-width="0.6"/><line x1="210.07" y1="445.00" x2="210.07" y2="490.00" stroke="#cdcdcd" stroke-width="0.6"/><line x1="349.52" y1="445.00" x2="349.52" y2="490.00" stroke="#dedede" stroke-width="0.6"/><line x1="382.40" y1="445.00" x2="382.40" y2="490.00" stroke="#d6d6d6" stroke-width="0.6"/><line x1="383.13" y1="445.00" x2="383.13" y2="490.00" stroke="#d6d6d6" stroke-width="0.6"/><line x1="208.99" y1="445.00" x2="208.99" y2="490.00" stroke="#d6d6d6" stroke-width="0.6"/><line x1="209.74" y1="445.00" x2="209.74" y2="490.00" stroke="#d6d6d6" stroke-width="0.6"/><line x1="153.69" y1="445.00" x2="153.69" y2="490.00" stroke="#dedede" stroke-width="0.6"/><line x1="154.37" y1="445.00" x2="154.37" y2="490.00" stroke="#d2d2d2" stroke-width="0.6"/><line x1="153.97" y1="445.00" x2="153.97" y2="490.00" stroke="#d2d2d2" stroke-width="0.6"/><line x1="290.74" y1="445.00" x2="290.74" y2="490.00" stroke="#dedede" stroke-width="0.6"/><line x1="289.46" y1="445.00" x2="289.46" y2="490.00" stroke="#cdcdcd" stroke-width="0.6"/><line x1="289.93" y1="445.00" x2="289.93" y2="490.00" stroke="#d2d2d2" stroke-width="0.6"/><line x1="280.29" y1="445.00" x2="280.29" y2="490.00" stroke="#d2d2d2" stroke-width="0.6"/><line x1="279.74" y1="445.00" x2="279.74" y2="490.00" stroke="#d6d6d6" stroke-width="0.6"/><line x1="279.77" y1="445.00" x2="279.77" y2="490.00" stroke="#dedede" stroke-width="0.6"/><line x1="279.11" y1="445.00" x2="279.11" y2="490.00" stroke="#c4c4c4" stroke-width="0.6"/><line x1="279.00" y1="445.00" x2="279.00" y2="490.00" stroke="#d6d6d6" stroke-width="0.6"/><line x1="297.65" y1="445.00" x2="297.65" y2="490.00" stroke="#dedede" stroke-width="0.6"/><line x1="297.86" y1="445.00" x2="297.86" y2="490.00" stroke="#d6d6d6" stroke-width="0.6"/><line x1="324.25" y1="445.00" x2="324.25" y2="490.00" stroke="#dedede" stroke-width="0.6"/><line x1="326.07" y1="445.00" x2="326.07" y2="490.00" stroke="#dedede" stroke-width="0.6"/><line x1="413.03" y1="445.00" x2="413.03" y2="490.00" stroke="#d6d6d6" stroke-width="0.6"/><line x1="412.23" y1="445.00" x2="412.23" y2="490.00" stroke="#d6d6d6" stroke-width="0.6"/><line x1="411.02" y1="445.00" x2="411.02" y2="490.00" stroke="#cdcdcd" stroke-width="0.6"/><line x1="297.26" y1="445.00" x2="297.26" y2="490.00" stroke="#c4c4c4" stroke-width="0.6"/><line x1="296.98" y1="445.00" x2="296.98" y2="490.00" stroke="#d6d6d6" stroke-width="0.6"/><line x1="141.04" y1="445.00" x2="141.04" y2="490.00" stroke="#d2d2d2" stroke-width="0.6"/><line x1="312.19" y1="445.00" x2="312.19" y2="490.00" stroke="#d2d2d2" stroke-width="0.6"/><line x1="313.68" y1="445.00" x2="313.68" y2="490.00" stroke="#dedede" stroke-width="0.6"/><line x1="396.88" y1="445.00" x2="396.88" y2="490.00" stroke="#dedede" stroke-width="0.6"/><line x1="183.64" y1="445.00" x2="183.64" y2="490.00" stroke="#dedede" stroke-width="0.6"/><line x1="182.60" y1="445.00" x2="182.60" y2="490.00" stroke="#c4c4c4" stroke-width="0.6"/><line x1="183.15" y1="445.00" x2="183.15" y2="490.00" stroke="#c4c4c4" stroke-width="0.6"/><line x1="401.66" y1="445.00" x2="401.66" y2="490.00" stroke="#d6d6d6" stroke-width="0.6"/><line x1="381.49" y1="445.00" x2="381.49" y2="490.00" stroke="#c4c4c4" stroke-width="0.6"/><line x1="382.30" y1="445.00" x2="382.30" y2="490.00" stroke="#d6d6d6" stroke-width="0.6"/><line x1="144.30" y1="445.00" x2="144.30" y2="490.00" stroke="#d2d2d2" stroke-width="0.6"/><line x1="144.68" y1="445.00" x2="144.68" y2="490.00" stroke="#dedede" stroke-width="0.6"/><line x1="271.51" y1="445.00" x2="271.51" y2="490.00" stroke="#d2d2d2" stroke-width="0.6"/><line x1="271.12" y1="445.00" x2="271.12" y2="490.00" stroke="#cdcdcd" stroke-width="0.6"/><line x1="309.84" y1="445.00" x2="309.84" y2="490.00" stroke="#d2d2d2" stroke-width="0.6"/><line x1="310.17" y1="445.00" x2="310.17" y2="490.00" stroke="#dedede" stroke-width="0.6"/><line x1="254.77" y1="445.00" x2="254.77" y2="490.00" stroke="#d2d2d2" stroke-width="0.6"/><line x1="255.30" y1="445.00" x2="255.30" y2="490.00" stroke="#cdcdcd" stroke-width="0.6"/><line x1="193.78" y1="445.00" x2="193.78" y2="490.00" stroke="#cdcdcd" stroke-width="0.6"/><line x1="194.49" y1="445.00" x2="194.49" y2="490.00" stroke="#cdcdcd" stroke-width="0.6"/><line x1="194.16" y1="445.00" x2="194.16" y2="490.00" stroke="#d2d2d2" stroke-width="0.6"/><line x1="322.86" y1="445.00" x2="322.86" y2="490.00" stroke="#d2d2d2" stroke-width="0.6"/><line x1="292.14" y1="445.00" x2="292.14" y2="490.00" stroke="#cdcdcd" stroke-width="0.6"/><line x1="291.51" y1="445.00" x2="291.51" y2="490.00" stroke="#cdcdcd" stroke-width="0.6"/><line x1="377.50" y1="445.00" x2="377.50" y2="490.00" stroke="#c4c4c4" stroke-width="0.6"/><line x1="208.18" y1="445.00" x2="208.18" y2="490.00" stroke="#d2d2d2" stroke-width="0.6"/><line x1="207.60" y1="445.00" x2="207.60" y2="490.00" stroke="#dedede" stroke-width="0.6"/><line x1="207.88" y1="445.00" x2="207.88" y2="490.00" stroke="#d6d6d6" stroke-width="0.6"/><line x1="267.26" y1="445.00" x2="267.26" y2="490.00" stroke="#cdcdcd" stroke-width="0.6"/><line x1="267.38" y1="445.00" x2="267.38" y2="490.00" stroke="#d6d6d6" stroke-width="0.6"/><line x1="156.02" y1="445.00" x2="156.02" y2="490.00" stroke="#d2d2d2" stroke-width="0.6"/><line x1="155.06" y1="445.00" x2="155.06" y2="490.00" stroke="#cdcdcd" stroke-width="0.6"/><line x1="388.01" y1="445.00" x2="388.01" y2="490.00" stroke="#dedede" stroke-width="0.6"/><line x1="408.24" y1="445.00" x2="408.24" y2="490.00" stroke="#cdcdcd" stroke-width="0.6"/><line x1="227.57" y1="445.00" x2="227.57" y2="490.00" stroke="#c4c4c4" stroke-width="0.6"/><line x1="150.57" y1="445.00" x2="150.57" y2="490.00" stroke="#c4c4c4" stroke-width="0.6"/><line x1="309.11" y1="445.00" x2="309.11" y2="490.00" stroke="#c4c4c4" stroke-width="0.6"/><line x1="308.98" y1="445.00" x2="308.98" y2="490.00" stroke="#dedede" stroke-width="0.6"/><line x1="395.50" y1="445.00" x2="395.50" y2="490.00" stroke="#cdcdcd" stroke-width="0.6"/><line x1="396.02" y1="445.00" x2="396.02" y2="490.00" stroke="#dedede" stroke-width="0.6"/><line x1="159.80" y1="445.00" x2="159.80" y2="490.00" stroke="#d2d2d2" stroke-width="0.6"/><line x1="255.75" y1="445.00" x2="255.75" y2="490.00" stroke="#d2d2d2" stroke-width="0.6"/><line x1="254.40" y1="445.00" x2="254.40" y2="490.00" stroke="#d2d2d2" stroke-width="0.6"/><line x1="347.53" y1="445.00" x2="347.53" y2="490.00" stroke="#cdcdcd" stroke-width="0.6"/><line x1="347.74" y1="445.00" x2="347.74" y2="490.00" stroke="#dedede" stroke-width="0.6"/><line x1="346.01" y1="445.00" x2="346.01" y2="490.00" stroke="#d2d2d2" stroke-width="0.6"/><line x1="209.84" y1="445.00" x2="209.84" y2="490.00" stroke="#d6d6d6" stroke-width="0.6"/><line x1="209.18" y1="445.00" x2="209.18" y2="490.00" stroke="#d6d6d6" stroke-width="0.6"/><line x1="332.56" y1="445.00" x2="332.56" y2="490.00" stroke="#d2d2d2" stroke-width="0.6"/><line x1="143.36" y1="445.00" x2="143.36" y2="490.00" stroke="#d6d6d6" stroke-width="0.6"/><line x1="409.85" y1="445.00" x2="409.85" y2="490.00" stroke="#d6d6d6" stroke-width="0.6"/><line x1="140.87" y1="445.00" x2="140.87" y2="490.00" stroke="#cdcdcd" stroke-width="0.6"/><line x1="139.66" y1="445.00" x2="139.66" y2="490.00" stroke="#d2d2d2" stroke-width="0.6"/><line x1="302.05" y1="445.00" x2="302.05" y2="490.00" stroke="#d6d6d6" stroke-width="0.6"/><line x1="285.18" y1="445.00" x2="285.18" y2="490.00" stroke="#cdcdcd" stroke-width="0.6"/><line x1="259.05" y1="445.00" x2="259.05" y2="490.00" stroke="#d2d2d2" stroke-width="0.6"/><line x1="259.36" y1="445.00" x2="259.36" y2="490.00" stroke="#d6d6d6" stroke-width="0.6"/><line x1="385.53" y1="445.00" x2="385.53" y2="490.00" stroke="#dedede" stroke-width="0.6"/><line x1="403.54" y1="445.00" x2="403.54" y2="490.00" stroke="#d6d6d6" stroke-width="0.6"/><line x1="341.04" y1="445.00" x2="341.04" y2="490.00" stroke="#d6d6d6" stroke-width="0.6"/><line x1="341.71" y1="445.00" x2="341.71" y2="490.00" stroke="#d2d2d2" stroke-width="0.6"/><line x1="341.48" y1="445.00" x2="341.48" y2="490.00" stroke="#d6d6d6" stroke-width="0.6"/><line x1="199.47" y1="445.00" x2="199.47" y2="490.00" stroke="#c4c4c4" stroke-width="0.6"/><line x1="198.40" y1="445.00" x2="198.40" y2="490.00" stroke="#dedede" stroke-width="0.6"/><line x1="285.97" y1="445.00" x2="285.97" y2="490.00" stroke="#dedede" stroke-width="0.6"/><line x1="287.18" y1="445.00" x2="287.18" y2="490.00" stroke="#dedede" stroke-width="0.6"/><line x1="417.31" y1="445.00" x2="417.31" y2="490.00" stroke="#d2d2d2" stroke-width="0.6"/><line x1="205.95" y1="445.00" x2="205.95" y2="490.00" stroke="#cdcdcd" stroke-width="0.6"/><line x1="204.97" y1="445.00" x2="204.97" y2="490.00" stroke="#d2d2d2" stroke-width="0.6"/><line x1="310.26" y1="445.00" x2="310.26" y2="490.00" stroke="#c4c4c4" stroke-width="0.6"/><line x1="246.95" y1="445.00" x2="246.95" y2="490.00" stroke="#cdcdcd" stroke-width="0.6"/><line x1="247.02" y1="445.00" x2="247.02" y2="490.00" stroke="#cdcdcd" stroke-width="0.6"/><line x1="355.37" y1="445.00" x2="355.37" y2="490.00" stroke="#c4c4c4" stroke-width="0.6"/><line x1="282.47" y1="445.00" x2="282.47" y2="490.00" stroke="#d2d2d2" stroke-width="0.6"/><line x1="232.67" y1="445.00" x2="232.67" y2="490.00" stroke="#c4c4c4" stroke-width="0.6"/><line x1="205.09" y1="445.00" x2="205.09" y2="490.00" stroke="#d6d6d6" stroke-width="0.6"/><line x1="205.32" y1="445.00" x2="205.32" y2="490.00" stroke="#dedede" stroke-width="0.6"/><line x1="280.41" y1="445.00" x2="280.41" y2="490.00" stroke="#cdcdcd" stroke-width="0.6"/><line x1="279.69" y1="445.00" x2="279.69" y2="490.00" stroke="#dedede" stroke-width="0.6"/><line x1="414.42" y1="445.00" x2="414.42" y2="490.00" stroke="#d2d2d2" stroke-width="0.6"/><line x1="414.42" y1="445.00" x2="414.42" y2="490.00" stroke="#d2d2d2" stroke-width="0.6"/><line x1="204.91" y1="445.00" x2="204.91" y2="490.00" stroke="#cdcdcd" stroke-width="0.6"/><line x1="205.63" y1="445.00" x2="205.63" y2="490.00" stroke="#cdcdcd" stroke-width="0.6"/><line x1="248.58" y1="445.00" x2="248.58" y2="490.00" stroke="#d2d2d2" stroke-width="0.6"/><line x1="295.94" y1="445.00" x2="295.94" y2="490.00" stroke="#c4c4c4" stroke-width="0.6"/><line x1="295.96" y1="445.00" x2="295.96" y2="490.00" stroke="#cdcdcd" stroke-width="0.6"/><line x1="402.23" y1="445.00" x2="402.23" y2="490.00" stroke="#d6d6d6" stroke-width="0.6"/><line x1="401.72" y1="445.00" x2="401.72" y2="490.00" stroke="#cdcdcd" stroke-width="0.6"/><line x1="402.34" y1="445.00" x2="402.34" y2="490.00" stroke="#d2d2d2" stroke-width="0.6"/><line x1="230.96" y1="445.00" x2="230.96" y2="490.00" stroke="#c4c4c4" stroke-width="0.6"/><line x1="231.59" y1="445.00" x2="231.59" y2="490.00" stroke="#dedede" stroke-width="0.6"/><line x1="229.96" y1="445.00" x2="229.96" y2="490.00" stroke="#cdcdcd" stroke-width="0.6"/><line x1="375.81" y1="445.00" x2="375.81" y2="490.00" stroke="#cdcdcd" stroke-width="0.6"/><line x1="376.41" y1="445.00" x2="376.41" y2="490.00" stroke="#c4c4c4" stroke-width="0.6"/><line x1="378.86" y1="445.00" x2="378.86" y2="490.00" stroke="#d6d6d6" stroke-width="0.6"/><line x1="167.07" y1="445.00" x2="167.07" y2="490.00" stroke="#d6d6d6" stroke-width="0.6"/><line x1="167.20" y1="445.00" x2="167.20" y2="490.00" stroke="#d6d6d6" stroke-width="0.6"/>
<line x1="494.15" y1="445.00" x2="494.15" y2="490.00" stroke="#d2d2d2" stroke-width="0.6"/><line x1="491.55" y1="445.00" x2="491.55" y2="490.00" stroke="#cdcdcd" stroke-width="0.6"/><line x1="491.56" y1="445.00" x2="491.56" y2="490.00" stroke="#cdcdcd" stroke-width="0.6"/><line x1="499.26" y1="445.00" x2="499.26" y2="490.00" stroke="#d2d2d2" stroke-width="0.6"/><line x1="498.44" y1="445.00" x2="498.44" y2="490.00" stroke="#d6d6d6" stroke-width="0.6"/><line x1="487.04" y1="445.00" x2="487.04" y2="490.00" stroke="#c4c4c4" stroke-width="0.6"/><line x1="487.72" y1="445.00" x2="487.72" y2="490.00" stroke="#d6d6d6" stroke-width="0.6"/><line x1="496.79" y1="445.00" x2="496.79" y2="490.00" stroke="#dedede" stroke-width="0.6"/>
<line x1="440.01" y1="445.00" x2="91.31" y2="490.00" stroke="#d2d2d2" stroke-width="0.5"/>
<line x1="450.00" y1="445.00" x2="102.16" y2="490.00" stroke="#dadada" stroke-width="0.5"/>
<line x1="453.45" y1="445.00" x2="105.91" y2="490.00" stroke="#d2d2d2" stroke-width="0.5"/>
<line x1="436.02" y1="445.00" x2="86.98" y2="490.00" stroke="#dadada" stroke-width="0.5"/>
<line x1="459.05" y1="445.00" x2="111.99" y2="490.00" stroke="#d2d2d2" stroke-width="0.5"/>
<line x1="469.19" y1="445.00" x2="123.00" y2="490.00" stroke="#d2d2d2" stroke-width="0.5"/>
<line x1="477.42" y1="445.00" x2="131.94" y2="490.00" stroke="#d2d2d2" stroke-width="0.5"/>
<line x1="448.17" y1="445.00" x2="100.17" y2="490.00" stroke="#c8c8c8" stroke-width="0.5"/>
<line x1="456.22" y1="445.00" x2="108.91" y2="490.00" stroke="#c8c8c8" stroke-width="0.5"/>
<line x1="469.67" y1="445.00" x2="123.52" y2="490.00" stroke="#c8c8c8" stroke-width="0.5"/>
<line x1="436.75" y1="445.00" x2="87.76" y2="490.00" stroke="#c8c8c8" stroke-width="0.5"/>
<line x1="471.65" y1="445.00" x2="125.67" y2="490.00" stroke="#d2d2d2" stroke-width="0.5"/>
<line x1="460.96" y1="445.00" x2="114.07" y2="490.00" stroke="#d2d2d2" stroke-width="0.5"/>
<line x1="449.24" y1="445.00" x2="101.33" y2="490.00" stroke="#d2d2d2" stroke-width="0.5"/>
<line x1="457.29" y1="445.00" x2="110.08" y2="490.00" stroke="#dadada" stroke-width="0.5"/>
<line x1="475.40" y1="445.00" x2="129.74" y2="490.00" stroke="#c8c8c8" stroke-width="0.5"/>
<line x1="465.54" y1="445.00" x2="119.04" y2="490.00" stroke="#c8c8c8" stroke-width="0.5"/>
<line x1="465.62" y1="445.00" x2="119.13" y2="490.00" stroke="#dadada" stroke-width="0.5"/>
<line x1="469.40" y1="445.00" x2="439.00" y2="490.00" stroke="#d4d4d4" stroke-width="0.5"/>
<line x1="446.97" y1="445.00" x2="462.90" y2="490.00" stroke="#cccccc" stroke-width="0.5"/>
<line x1="452.14" y1="445.00" x2="457.40" y2="490.00" stroke="#cccccc" stroke-width="0.5"/>
<line x1="428.58" y1="445.00" x2="482.51" y2="490.00" stroke="#d4d4d4" stroke-width="0.5"/>
<line x1="476.22" y1="445.00" x2="431.73" y2="490.00" stroke="#cccccc" stroke-width="0.5"/>
<line x1="481.47" y1="445.00" x2="426.14" y2="490.00" stroke="#c4c4c4" stroke-width="0.5"/>
<line x1="456.12" y1="445.00" x2="453.15" y2="490.00" stroke="#c4c4c4" stroke-width="0.5"/>
<line x1="475.93" y1="445.00" x2="432.04" y2="490.00" stroke="#cccccc" stroke-width="0.5"/>
<line x1="474.36" y1="445.00" x2="433.71" y2="490.00" stroke="#d4d4d4" stroke-width="0.5"/>
<line x1="461.65" y1="445.00" x2="447.26" y2="490.00" stroke="#c4c4c4" stroke-width="0.5"/>
<line x1="448.82" y1="445.00" x2="460.94" y2="490.00" stroke="#c4c4c4" stroke-width="0.5"/>
<line x1="457.85" y1="445.00" x2="451.31" y2="490.00" stroke="#d4d4d4" stroke-width="0.5"/>
<line x1="478.55" y1="445.00" x2="429.24" y2="490.00" stroke="#d4d4d4" stroke-width="0.5"/>
<line x1="446.10" y1="445.00" x2="463.83" y2="490.00" stroke="#c4c4c4" stroke-width="0.5"/>
<line x1="434.51" y1="445.00" x2="476.19" y2="490.00" stroke="#cccccc" stroke-width="0.5"/>
<line x1="476.38" y1="445.00" x2="431.56" y2="490.00" stroke="#cccccc" stroke-width="0.5"/>
<line x1="441.47" y1="445.00" x2="468.76" y2="490.00" stroke="#c4c4c4" stroke-width="0.5"/>
<line x1="476.34" y1="445.00" x2="431.60" y2="490.00" stroke="#c4c4c4" stroke-width="0.5"/>
<line x1="433.08" y1="445.00" x2="477.71" y2="490.00" stroke="#cccccc" stroke-width="0.5"/>
<line x1="472.95" y1="445.00" x2="435.21" y2="490.00" stroke="#d4d4d4" stroke-width="0.5"/>
<line x1="470.21" y1="445.00" x2="438.13" y2="490.00" stroke="#c4c4c4" stroke-width="0.5"/>
<line x1="464.42" y1="445.00" x2="444.30" y2="490.00" stroke="#d4d4d4" stroke-width="0.5"/>
<line x1="437.42" y1="445.00" x2="473.09" y2="490.00" stroke="#d4d4d4" stroke-width="0.5"/>
<line x1="476.03" y1="445.00" x2="431.92" y2="490.00" stroke="#cccccc" stroke-width="0.5"/>
<line x1="481.05" y1="445.00" x2="426.57" y2="490.00" stroke="#d4d4d4" stroke-width="0.5"/>
<line x1="469.64" y1="445.00" x2="438.74" y2="490.00" stroke="#d4d4d4" stroke-width="0.5"/>
<line x1="439.38" y1="445.00" x2="470.99" y2="490.00" stroke="#cccccc" stroke-width="0.5"/>
<line x1="450.18" y1="445.00" x2="459.48" y2="490.00" stroke="#d4d4d4" stroke-width="0.5"/>
<line x1="463.88" y1="445.00" x2="444.88" y2="490.00" stroke="#cccccc" stroke-width="0.5"/>
<line x1="477.52" y1="445.00" x2="430.34" y2="490.00" stroke="#cccccc" stroke-width="0.5"/>
</g>
<line x1="78.70" y1="490.00" x2="138.00" y2="445.60" stroke="#cf3523" stroke-width="1.5"/>
<line x1="138.00" y1="445.60" x2="138.00" y2="490.00" stroke="#cf3523" stroke-width="1.5"/>
<line x1="78.70" y1="490.00" x2="428.40" y2="445.60" stroke="#eca82e" stroke-width="1.1"/>
<line x1="428.40" y1="445.60" x2="482.70" y2="490.00" stroke="#eca82e" stroke-width="1.1"/>
<line x1="138.00" y1="490.00" x2="483.00" y2="445.60" stroke="#2c98c8" stroke-width="1.1"/>
<line x1="483.00" y1="445.60" x2="424.50" y2="490.00" stroke="#2c98c8" stroke-width="1.1"/>
<rect x="67.00" y="409.20" width="434.90" height="9.30" fill="#19b2d5"/>
<rect x="67.90" y="409.20" width="0.50" height="9.30" fill="#1590c4"/><rect x="69.63" y="409.20" width="1.10" height="9.30" fill="#0f6aa4"/><rect x="73.17" y="409.20" width="1.10" height="9.30" fill="#1280b8"/><rect x="75.78" y="409.20" width="1.40" height="9.30" fill="#1280b8"/><rect x="82.28" y="409.20" width="1.40" height="9.30" fill="#0e72ae"/><rect x="84.19" y="409.20" width="1.10" height="9.30" fill="#0f6aa4"/><rect x="86.55" y="409.20" width="0.50" height="9.30" fill="#0f6aa4"/><rect x="88.97" y="409.20" width="0.70" height="9.30" fill="#0b4f80"/><rect x="93.61" y="409.20" width="0.70" height="9.30" fill="#3cc0ea"/><rect x="94.85" y="409.20" width="1.40" height="9.30" fill="#0f6aa4"/><rect x="98.56" y="409.20" width="0.50" height="9.30" fill="#1590c4"/><rect x="103.93" y="409.20" width="0.50" height="9.30" fill="#3cc0ea"/><rect x="110.28" y="409.20" width="0.90" height="9.30" fill="#0f6aa4"/><rect x="114.01" y="409.20" width="1.40" height="9.30" fill="#1280b8"/><rect x="120.38" y="409.20" width="0.50" height="9.30" fill="#0b4f80"/><rect x="126.99" y="409.20" width="1.80" height="9.30" fill="#1280b8"/><rect x="130.80" y="409.20" width="0.90" height="9.30" fill="#0b4f80"/><rect x="132.06" y="409.20" width="0.70" height="9.30" fill="#0f6aa4"/><rect x="132.90" y="409.20" width="0.90" height="9.30" fill="#3cc0ea"/><rect x="137.27" y="409.20" width="0.90" height="9.30" fill="#0f6aa4"/><rect x="141.07" y="409.20" width="1.40" height="9.30" fill="#3cc0ea"/><rect x="148.59" y="409.20" width="1.10" height="9.30" fill="#1280b8"/><rect x="151.21" y="409.20" width="1.80" height="9.30" fill="#0b4f80"/><rect x="155.47" y="409.20" width="1.10" height="9.30" fill="#0f6aa4"/><rect x="156.93" y="409.20" width="0.90" height="9.30" fill="#0f6aa4"/><rect x="161.33" y="409.20" width="1.80" height="9.30" fill="#3cc0ea"/><rect x="166.26" y="409.20" width="0.50" height="9.30" fill="#0e72ae"/><rect x="169.11" y="409.20" width="1.10" height="9.30" fill="#1590c4"/><rect x="170.51" y="409.20" width="0.50" height="9.30" fill="#0f6aa4"/><rect x="174.55" y="409.20" width="0.70" height="9.30" fill="#1280b8"/><rect x="178.62" y="409.20" width="0.50" height="9.30" fill="#0b4f80"/><rect x="186.51" y="409.20" width="0.90" height="9.30" fill="#0b4f80"/><rect x="192.60" y="409.20" width="0.90" height="9.30" fill="#0e72ae"/><rect x="196.82" y="409.20" width="0.50" height="9.30" fill="#0f6aa4"/><rect x="197.93" y="409.20" width="1.80" height="9.30" fill="#0e72ae"/><rect x="202.81" y="409.20" width="0.70" height="9.30" fill="#0e72ae"/><rect x="205.92" y="409.20" width="0.90" height="9.30" fill="#0e72ae"/><rect x="208.17" y="409.20" width="0.90" height="9.30" fill="#1280b8"/><rect x="211.13" y="409.20" width="0.70" height="9.30" fill="#0c5a8e"/><rect x="215.40" y="409.20" width="1.80" height="9.30" fill="#1280b8"/><rect x="217.91" y="409.20" width="1.80" height="9.30" fill="#3cc0ea"/><rect x="220.84" y="409.20" width="0.70" height="9.30" fill="#0c5a8e"/><rect x="226.15" y="409.20" width="1.10" height="9.30" fill="#0e72ae"/><rect x="227.42" y="409.20" width="0.70" height="9.30" fill="#1280b8"/><rect x="228.19" y="409.20" width="0.50" height="9.30" fill="#0f6aa4"/><rect x="229.82" y="409.20" width="1.40" height="9.30" fill="#0c5a8e"/><rect x="232.81" y="409.20" width="0.70" height="9.30" fill="#0e72ae"/><rect x="234.27" y="409.20" width="0.70" height="9.30" fill="#0f6aa4"/><rect x="235.64" y="409.20" width="1.80" height="9.30" fill="#0e72ae"/><rect x="238.70" y="409.20" width="0.70" height="9.30" fill="#0f6aa4"/><rect x="239.95" y="409.20" width="0.50" height="9.30" fill="#0f6aa4"/><rect x="241.45" y="409.20" width="0.90" height="9.30" fill="#1590c4"/><rect x="244.63" y="409.20" width="1.40" height="9.30" fill="#0c5a8e"/><rect x="246.75" y="409.20" width="0.70" height="9.30" fill="#0f6aa4"/><rect x="249.19" y="409.20" width="0.90" height="9.30" fill="#3cc0ea"/><rect x="254.31" y="409.20" width="1.80" height="9.30" fill="#0b4f80"/><rect x="257.22" y="409.20" width="1.80" height="9.30" fill="#1280b8"/><rect x="259.04" y="409.20" width="0.70" height="9.30" fill="#0c5a8e"/><rect x="269.13" y="409.20" width="1.10" height="9.30" fill="#1590c4"/><rect x="272.48" y="409.20" width="0.90" height="9.30" fill="#0b4f80"/><rect x="276.80" y="409.20" width="0.90" height="9.30" fill="#0b4f80"/><rect x="284.18" y="409.20" width="0.90" height="9.30" fill="#0b4f80"/><rect x="287.59" y="409.20" width="1.40" height="9.30" fill="#0e72ae"/><rect x="293.50" y="409.20" width="1.40" height="9.30" fill="#0f6aa4"/><rect x="297.44" y="409.20" width="0.70" height="9.30" fill="#1590c4"/><rect x="301.79" y="409.20" width="1.40" height="9.30" fill="#0f6aa4"/><rect x="306.39" y="409.20" width="1.80" height="9.30" fill="#0c5a8e"/><rect x="319.42" y="409.20" width="0.70" height="9.30" fill="#1280b8"/><rect x="320.62" y="409.20" width="0.90" height="9.30" fill="#0b4f80"/><rect x="322.46" y="409.20" width="1.10" height="9.30" fill="#1280b8"/><rect x="325.12" y="409.20" width="1.10" height="9.30" fill="#3cc0ea"/><rect x="326.62" y="409.20" width="1.10" height="9.30" fill="#1280b8"/><rect x="328.80" y="409.20" width="0.90" height="9.30" fill="#0f6aa4"/><rect x="332.89" y="409.20" width="1.10" height="9.30" fill="#0b4f80"/><rect x="334.98" y="409.20" width="0.90" height="9.30" fill="#0c5a8e"/><rect x="340.06" y="409.20" width="0.70" height="9.30" fill="#1590c4"/><rect x="341.72" y="409.20" width="0.90" height="9.30" fill="#0e72ae"/><rect x="347.31" y="409.20" width="0.70" height="9.30" fill="#3cc0ea"/><rect x="350.72" y="409.20" width="1.40" height="9.30" fill="#1590c4"/><rect x="357.91" y="409.20" width="0.90" height="9.30" fill="#1590c4"/><rect x="359.21" y="409.20" width="0.70" height="9.30" fill="#0c5a8e"/><rect x="366.21" y="409.20" width="0.90" height="9.30" fill="#0e72ae"/><rect x="367.66" y="409.20" width="1.40" height="9.30" fill="#3cc0ea"/><rect x="373.97" y="409.20" width="0.50" height="9.30" fill="#1280b8"/><rect x="374.76" y="409.20" width="0.70" height="9.30" fill="#0e72ae"/><rect x="377.32" y="409.20" width="0.90" height="9.30" fill="#3cc0ea"/><rect x="378.66" y="409.20" width="0.50" height="9.30" fill="#0e72ae"/><rect x="380.42" y="409.20" width="0.50" height="9.30" fill="#0b4f80"/><rect x="382.56" y="409.20" width="1.80" height="9.30" fill="#0b4f80"/><rect x="387.15" y="409.20" width="1.40" height="9.30" fill="#0f6aa4"/><rect x="391.55" y="409.20" width="0.50" height="9.30" fill="#0b4f80"/><rect x="396.60" y="409.20" width="1.10" height="9.30" fill="#3cc0ea"/><rect x="400.63" y="409.20" width="0.50" height="9.30" fill="#0c5a8e"/><rect x="404.33" y="409.20" width="1.10" height="9.30" fill="#0e72ae"/><rect x="405.85" y="409.20" width="1.10" height="9.30" fill="#1590c4"/><rect x="406.97" y="409.20" width="0.90" height="9.30" fill="#3cc0ea"/><rect x="414.67" y="409.20" width="0.90" height="9.30" fill="#0f6aa4"/><rect x="420.37" y="409.20" width="1.40" height="9.30" fill="#1590c4"/><rect x="424.41" y="409.20" width="0.50" height="9.30" fill="#0c5a8e"/><rect x="430.06" y="409.20" width="0.90" height="9.30" fill="#0e72ae"/><rect x="431.13" y="409.20" width="1.10" height="9.30" fill="#0f6aa4"/><rect x="438.22" y="409.20" width="0.70" height="9.30" fill="#0c5a8e"/><rect x="439.55" y="409.20" width="1.40" height="9.30" fill="#1280b8"/><rect x="441.06" y="409.20" width="1.10" height="9.30" fill="#0f6aa4"/><rect x="443.12" y="409.20" width="0.50" height="9.30" fill="#0f6aa4"/><rect x="449.14" y="409.20" width="1.40" height="9.30" fill="#0c5a8e"/><rect x="451.41" y="409.20" width="0.90" height="9.30" fill="#1590c4"/><rect x="454.93" y="409.20" width="0.70" height="9.30" fill="#1280b8"/><rect x="459.92" y="409.20" width="1.10" height="9.30" fill="#0e72ae"/><rect x="464.28" y="409.20" width="1.80" height="9.30" fill="#0e72ae"/><rect x="467.14" y="409.20" width="1.80" height="9.30" fill="#1280b8"/><rect x="472.52" y="409.20" width="1.40" height="9.30" fill="#0b4f80"/><rect x="476.61" y="409.20" width="1.10" height="9.30" fill="#0b4f80"/><rect x="479.68" y="409.20" width="0.50" height="9.30" fill="#1590c4"/><rect x="480.27" y="409.20" width="1.10" height="9.30" fill="#1590c4"/><rect x="481.58" y="409.20" width="0.50" height="9.30" fill="#0f6aa4"/><rect x="482.38" y="409.20" width="1.10" height="9.30" fill="#1280b8"/><rect x="488.09" y="409.20" width="1.80" height="9.30" fill="#0e72ae"/><rect x="491.72" y="409.20" width="0.70" height="9.30" fill="#1280b8"/><rect x="493.42" y="409.20" width="0.70" height="9.30" fill="#0f6aa4"/><rect x="494.36" y="409.20" width="1.10" height="9.30" fill="#1280b8"/><rect x="497.90" y="409.20" width="1.40" height="9.30" fill="#0f6aa4"/><rect x="499.40" y="409.20" width="1.10" height="9.30" fill="#0f6aa4"/>
<rect x="67.00" y="436.70" width="434.90" height="8.30" fill="#6dbd2d"/>
<rect x="69.10" y="436.70" width="1.10" height="8.30" fill="#1e7040"/><rect x="71.56" y="436.70" width="0.70" height="8.30" fill="#8fd150"/><rect x="72.99" y="436.70" width="0.50" height="8.30" fill="#2a8236"/><rect x="73.98" y="436.70" width="0.50" height="8.30" fill="#12586e"/><rect x="87.49" y="436.70" width="1.80" height="8.30" fill="#2c8534"/><rect x="90.77" y="436.70" width="1.40" height="8.30" fill="#3f922e"/><rect x="92.39" y="436.70" width="0.90" height="8.30" fill="#8fd150"/><rect x="93.79" y="436.70" width="1.40" height="8.30" fill="#12586e"/><rect x="97.73" y="436.70" width="0.50" height="8.30" fill="#8fd150"/><rect x="98.55" y="436.70" width="0.90" height="8.30" fill="#8fd150"/><rect x="100.66" y="436.70" width="0.50" height="8.30" fill="#1e7040"/><rect x="103.01" y="436.70" width="1.10" height="8.30" fill="#2a8a5a"/><rect x="104.50" y="436.70" width="0.70" height="8.30" fill="#2a8a5a"/><rect x="105.33" y="436.70" width="0.50" height="8.30" fill="#2c8534"/><rect x="105.94" y="436.70" width="1.80" height="8.30" fill="#3f922e"/><rect x="112.81" y="436.70" width="0.90" height="8.30" fill="#17607a"/><rect x="118.34" y="436.70" width="1.40" height="8.30" fill="#1a6a80"/><rect x="121.63" y="436.70" width="0.70" height="8.30" fill="#3f922e"/><rect x="127.22" y="436.70" width="1.40" height="8.30" fill="#2a8236"/><rect x="129.11" y="436.70" width="0.90" height="8.30" fill="#2a8a5a"/><rect x="132.49" y="436.70" width="0.50" height="8.30" fill="#12586e"/><rect x="133.93" y="436.70" width="1.40" height="8.30" fill="#3f922e"/><rect x="135.97" y="436.70" width="1.40" height="8.30" fill="#1e7040"/><rect x="138.55" y="436.70" width="0.90" height="8.30" fill="#2a8a5a"/><rect x="143.06" y="436.70" width="1.40" height="8.30" fill="#2c8534"/><rect x="147.68" y="436.70" width="0.50" height="8.30" fill="#17607a"/><rect x="148.62" y="436.70" width="0.50" height="8.30" fill="#2a8236"/><rect x="152.11" y="436.70" width="1.40" height="8.30" fill="#1e7040"/><rect x="153.73" y="436.70" width="0.90" height="8.30" fill="#2c8534"/><rect x="155.19" y="436.70" width="0.90" height="8.30" fill="#12586e"/><rect x="159.33" y="436.70" width="1.80" height="8.30" fill="#2a8236"/><rect x="163.02" y="436.70" width="0.90" height="8.30" fill="#8fd150"/><rect x="180.14" y="436.70" width="0.50" height="8.30" fill="#3f922e"/><rect x="185.21" y="436.70" width="1.40" height="8.30" fill="#1e7040"/><rect x="188.54" y="436.70" width="0.90" height="8.30" fill="#2c8534"/><rect x="190.46" y="436.70" width="1.10" height="8.30" fill="#17607a"/><rect x="192.66" y="436.70" width="0.50" height="8.30" fill="#1a6a80"/><rect x="196.22" y="436.70" width="0.70" height="8.30" fill="#1e7040"/><rect x="198.36" y="436.70" width="1.10" height="8.30" fill="#3f922e"/><rect x="199.71" y="436.70" width="1.10" height="8.30" fill="#1a6a80"/><rect x="204.72" y="436.70" width="0.90" height="8.30" fill="#12586e"/><rect x="206.41" y="436.70" width="0.90" height="8.30" fill="#2a8a5a"/><rect x="209.23" y="436.70" width="1.40" height="8.30" fill="#12586e"/><rect x="216.33" y="436.70" width="0.90" height="8.30" fill="#1a6a80"/><rect x="218.05" y="436.70" width="1.10" height="8.30" fill="#2a8a5a"/><rect x="220.45" y="436.70" width="1.40" height="8.30" fill="#1e7040"/><rect x="231.62" y="436.70" width="0.90" height="8.30" fill="#17607a"/><rect x="239.38" y="436.70" width="0.70" height="8.30" fill="#1e7040"/><rect x="248.02" y="436.70" width="1.10" height="8.30" fill="#2c8534"/><rect x="251.57" y="436.70" width="1.10" height="8.30" fill="#12586e"/><rect x="253.38" y="436.70" width="1.10" height="8.30" fill="#1a6a80"/><rect x="254.94" y="436.70" width="1.80" height="8.30" fill="#2a8236"/><rect x="257.80" y="436.70" width="0.90" height="8.30" fill="#12586e"/><rect x="259.38" y="436.70" width="1.80" height="8.30" fill="#1a6a80"/><rect x="261.78" y="436.70" width="0.70" height="8.30" fill="#2a8236"/><rect x="262.84" y="436.70" width="0.50" height="8.30" fill="#2c8534"/><rect x="265.33" y="436.70" width="1.40" height="8.30" fill="#8fd150"/><rect x="267.12" y="436.70" width="1.10" height="8.30" fill="#1a6a80"/><rect x="270.98" y="436.70" width="1.80" height="8.30" fill="#1e7040"/><rect x="275.01" y="436.70" width="0.90" height="8.30" fill="#3f922e"/><rect x="278.69" y="436.70" width="1.80" height="8.30" fill="#8fd150"/><rect x="280.59" y="436.70" width="0.50" height="8.30" fill="#2a8a5a"/><rect x="281.71" y="436.70" width="0.50" height="8.30" fill="#1a6a80"/><rect x="282.75" y="436.70" width="0.50" height="8.30" fill="#1e7040"/><rect x="289.72" y="436.70" width="0.70" height="8.30" fill="#8fd150"/><rect x="295.42" y="436.70" width="1.10" height="8.30" fill="#2a8a5a"/><rect x="297.44" y="436.70" width="1.40" height="8.30" fill="#1a6a80"/><rect x="299.71" y="436.70" width="0.90" height="8.30" fill="#2c8534"/><rect x="303.70" y="436.70" width="0.70" height="8.30" fill="#1a6a80"/><rect x="304.96" y="436.70" width="1.10" height="8.30" fill="#17607a"/><rect x="307.88" y="436.70" width="1.10" height="8.30" fill="#8fd150"/><rect x="311.45" y="436.70" width="1.80" height="8.30" fill="#17607a"/><rect x="328.02" y="436.70" width="1.10" height="8.30" fill="#17607a"/><rect x="329.46" y="436.70" width="1.10" height="8.30" fill="#8fd150"/><rect x="331.17" y="436.70" width="1.40" height="8.30" fill="#2a8a5a"/><rect x="338.95" y="436.70" width="1.10" height="8.30" fill="#1a6a80"/><rect x="340.18" y="436.70" width="0.90" height="8.30" fill="#2a8a5a"/><rect x="342.68" y="436.70" width="1.10" height="8.30" fill="#2a8236"/><rect x="345.99" y="436.70" width="0.90" height="8.30" fill="#2c8534"/><rect x="346.90" y="436.70" width="0.50" height="8.30" fill="#12586e"/><rect x="347.46" y="436.70" width="0.90" height="8.30" fill="#2a8a5a"/><rect x="351.58" y="436.70" width="1.80" height="8.30" fill="#3f922e"/><rect x="355.34" y="436.70" width="1.10" height="8.30" fill="#2a8236"/><rect x="359.00" y="436.70" width="1.40" height="8.30" fill="#8fd150"/><rect x="363.42" y="436.70" width="0.70" height="8.30" fill="#3f922e"/><rect x="364.15" y="436.70" width="1.80" height="8.30" fill="#3f922e"/><rect x="366.12" y="436.70" width="0.70" height="8.30" fill="#17607a"/><rect x="375.04" y="436.70" width="0.50" height="8.30" fill="#1e7040"/><rect x="376.92" y="436.70" width="0.90" height="8.30" fill="#1a6a80"/><rect x="378.67" y="436.70" width="1.10" height="8.30" fill="#2a8a5a"/><rect x="379.85" y="436.70" width="1.40" height="8.30" fill="#1e7040"/><rect x="381.41" y="436.70" width="0.50" height="8.30" fill="#12586e"/><rect x="384.24" y="436.70" width="1.80" height="8.30" fill="#17607a"/><rect x="394.28" y="436.70" width="0.50" height="8.30" fill="#3f922e"/><rect x="395.52" y="436.70" width="1.10" height="8.30" fill="#12586e"/><rect x="396.71" y="436.70" width="1.10" height="8.30" fill="#2a8236"/><rect x="397.85" y="436.70" width="1.10" height="8.30" fill="#12586e"/><rect x="399.22" y="436.70" width="1.80" height="8.30" fill="#2a8a5a"/><rect x="403.71" y="436.70" width="1.80" height="8.30" fill="#12586e"/><rect x="407.84" y="436.70" width="1.10" height="8.30" fill="#2a8236"/><rect x="410.83" y="436.70" width="1.10" height="8.30" fill="#12586e"/><rect x="425.65" y="436.70" width="1.80" height="8.30" fill="#2a8a5a"/><rect x="429.62" y="436.70" width="0.50" height="8.30" fill="#1e7040"/><rect x="432.25" y="436.70" width="1.80" height="8.30" fill="#1a6a80"/><rect x="434.34" y="436.70" width="0.70" height="8.30" fill="#8fd150"/><rect x="435.79" y="436.70" width="0.90" height="8.30" fill="#12586e"/><rect x="436.95" y="436.70" width="0.90" height="8.30" fill="#12586e"/><rect x="441.25" y="436.70" width="1.10" height="8.30" fill="#2a8236"/><rect x="442.98" y="436.70" width="0.90" height="8.30" fill="#2a8236"/><rect x="447.28" y="436.70" width="1.80" height="8.30" fill="#2c8534"/><rect x="449.12" y="436.70" width="0.70" height="8.30" fill="#2a8a5a"/><rect x="450.43" y="436.70" width="0.70" height="8.30" fill="#3f922e"/><rect x="452.30" y="436.70" width="1.10" height="8.30" fill="#3f922e"/><rect x="454.81" y="436.70" width="0.50" height="8.30" fill="#17607a"/><rect x="457.62" y="436.70" width="1.80" height="8.30" fill="#8fd150"/><rect x="460.72" y="436.70" width="1.40" height="8.30" fill="#2a8236"/><rect x="466.23" y="436.70" width="1.10" height="8.30" fill="#1e7040"/><rect x="468.37" y="436.70" width="0.90" height="8.30" fill="#8fd150"/><rect x="471.89" y="436.70" width="1.40" height="8.30" fill="#2a8a5a"/><rect x="473.32" y="436.70" width="1.10" height="8.30" fill="#1e7040"/><rect x="476.34" y="436.70" width="0.70" height="8.30" fill="#2a8a5a"/><rect x="485.87" y="436.70" width="1.40" height="8.30" fill="#2a8a5a"/><rect x="487.76" y="436.70" width="0.90" height="8.30" fill="#2a8236"/><rect x="490.85" y="436.70" width="0.50" height="8.30" fill="#2c8534"/><rect x="493.69" y="436.70" width="1.10" height="8.30" fill="#2a8a5a"/><rect x="500.04" y="436.70" width="1.40" height="8.30" fill="#12586e"/>
<rect x="67.00" y="490.00" width="434.90" height="9.60" fill="#19b2d5"/>
<rect x="68.44" y="490.00" width="0.90" height="9.60" fill="#3cc0ea"/><rect x="70.31" y="490.00" width="0.50" height="9.60" fill="#1280b8"/><rect x="72.57" y="490.00" width="0.50" height="9.60" fill="#0f6aa4"/><rect x="77.47" y="490.00" width="0.90" height="9.60" fill="#3cc0ea"/><rect x="81.16" y="490.00" width="1.80" height="9.60" fill="#0f6aa4"/><rect x="83.81" y="490.00" width="0.70" height="9.60" fill="#1590c4"/><rect x="97.58" y="490.00" width="0.70" height="9.60" fill="#0e72ae"/><rect x="100.81" y="490.00" width="0.50" height="9.60" fill="#1590c4"/><rect x="101.47" y="490.00" width="1.80" height="9.60" fill="#1280b8"/><rect x="104.30" y="490.00" width="0.70" height="9.60" fill="#1280b8"/><rect x="113.77" y="490.00" width="1.80" height="9.60" fill="#0f6aa4"/><rect x="115.82" y="490.00" width="1.10" height="9.60" fill="#1280b8"/><rect x="121.01" y="490.00" width="0.90" height="9.60" fill="#3cc0ea"/><rect x="124.81" y="490.00" width="1.40" height="9.60" fill="#0b4f80"/><rect x="132.68" y="490.00" width="0.90" height="9.60" fill="#1280b8"/><rect x="136.21" y="490.00" width="0.70" height="9.60" fill="#1280b8"/><rect x="138.76" y="490.00" width="0.70" height="9.60" fill="#0e72ae"/><rect x="140.08" y="490.00" width="0.90" height="9.60" fill="#0e72ae"/><rect x="141.40" y="490.00" width="1.10" height="9.60" fill="#0b4f80"/><rect x="142.74" y="490.00" width="1.40" height="9.60" fill="#0e72ae"/><rect x="149.85" y="490.00" width="0.50" height="9.60" fill="#1280b8"/><rect x="155.57" y="490.00" width="1.40" height="9.60" fill="#3cc0ea"/><rect x="157.92" y="490.00" width="0.90" height="9.60" fill="#1590c4"/><rect x="161.42" y="490.00" width="0.50" height="9.60" fill="#1280b8"/><rect x="169.64" y="490.00" width="1.10" height="9.60" fill="#0f6aa4"/><rect x="173.35" y="490.00" width="0.50" height="9.60" fill="#1280b8"/><rect x="174.72" y="490.00" width="1.40" height="9.60" fill="#0b4f80"/><rect x="177.19" y="490.00" width="0.70" height="9.60" fill="#0c5a8e"/><rect x="180.52" y="490.00" width="1.80" height="9.60" fill="#0c5a8e"/><rect x="182.39" y="490.00" width="1.10" height="9.60" fill="#1280b8"/><rect x="192.85" y="490.00" width="1.40" height="9.60" fill="#0b4f80"/><rect x="194.76" y="490.00" width="0.50" height="9.60" fill="#0c5a8e"/><rect x="201.25" y="490.00" width="0.50" height="9.60" fill="#0f6aa4"/><rect x="202.13" y="490.00" width="1.80" height="9.60" fill="#0e72ae"/><rect x="204.41" y="490.00" width="1.40" height="9.60" fill="#0b4f80"/><rect x="208.60" y="490.00" width="1.10" height="9.60" fill="#3cc0ea"/><rect x="213.58" y="490.00" width="1.10" height="9.60" fill="#0e72ae"/><rect x="217.98" y="490.00" width="0.70" height="9.60" fill="#1280b8"/><rect x="219.72" y="490.00" width="0.50" height="9.60" fill="#0e72ae"/><rect x="221.25" y="490.00" width="0.70" height="9.60" fill="#0b4f80"/><rect x="222.60" y="490.00" width="1.40" height="9.60" fill="#0e72ae"/><rect x="226.06" y="490.00" width="1.40" height="9.60" fill="#1280b8"/><rect x="228.88" y="490.00" width="1.80" height="9.60" fill="#1280b8"/><rect x="235.85" y="490.00" width="1.80" height="9.60" fill="#0b4f80"/><rect x="242.02" y="490.00" width="1.80" height="9.60" fill="#1280b8"/><rect x="250.20" y="490.00" width="0.70" height="9.60" fill="#0c5a8e"/><rect x="251.07" y="490.00" width="0.70" height="9.60" fill="#0f6aa4"/><rect x="255.90" y="490.00" width="1.40" height="9.60" fill="#3cc0ea"/><rect x="264.88" y="490.00" width="0.90" height="9.60" fill="#0e72ae"/><rect x="265.92" y="490.00" width="1.40" height="9.60" fill="#0e72ae"/><rect x="268.98" y="490.00" width="1.80" height="9.60" fill="#0e72ae"/><rect x="270.90" y="490.00" width="1.40" height="9.60" fill="#0c5a8e"/><rect x="272.47" y="490.00" width="1.10" height="9.60" fill="#1280b8"/><rect x="274.40" y="490.00" width="1.80" height="9.60" fill="#1590c4"/><rect x="277.26" y="490.00" width="1.10" height="9.60" fill="#1280b8"/><rect x="279.42" y="490.00" width="1.10" height="9.60" fill="#1590c4"/><rect x="280.70" y="490.00" width="1.80" height="9.60" fill="#0e72ae"/><rect x="284.82" y="490.00" width="1.40" height="9.60" fill="#0f6aa4"/><rect x="288.27" y="490.00" width="1.80" height="9.60" fill="#1590c4"/><rect x="293.79" y="490.00" width="1.80" height="9.60" fill="#0c5a8e"/><rect x="299.02" y="490.00" width="0.50" height="9.60" fill="#1590c4"/><rect x="300.51" y="490.00" width="1.80" height="9.60" fill="#1590c4"/><rect x="304.53" y="490.00" width="1.40" height="9.60" fill="#1280b8"/><rect x="308.22" y="490.00" width="1.10" height="9.60" fill="#3cc0ea"/><rect x="310.00" y="490.00" width="1.10" height="9.60" fill="#0c5a8e"/><rect x="311.38" y="490.00" width="0.50" height="9.60" fill="#1280b8"/><rect x="312.01" y="490.00" width="1.10" height="9.60" fill="#0e72ae"/><rect x="314.21" y="490.00" width="1.40" height="9.60" fill="#0b4f80"/><rect x="319.57" y="490.00" width="1.80" height="9.60" fill="#3cc0ea"/><rect x="322.21" y="490.00" width="0.90" height="9.60" fill="#1280b8"/><rect x="329.18" y="490.00" width="1.10" height="9.60" fill="#1590c4"/><rect x="332.33" y="490.00" width="1.10" height="9.60" fill="#0c5a8e"/><rect x="333.70" y="490.00" width="1.80" height="9.60" fill="#1590c4"/><rect x="337.99" y="490.00" width="1.80" height="9.60" fill="#0b4f80"/><rect x="340.01" y="490.00" width="0.50" height="9.60" fill="#0e72ae"/><rect x="341.08" y="490.00" width="0.90" height="9.60" fill="#1280b8"/><rect x="343.40" y="490.00" width="0.70" height="9.60" fill="#0b4f80"/><rect x="344.55" y="490.00" width="1.80" height="9.60" fill="#0e72ae"/><rect x="347.68" y="490.00" width="0.70" height="9.60" fill="#3cc0ea"/><rect x="351.16" y="490.00" width="1.40" height="9.60" fill="#1280b8"/><rect x="352.85" y="490.00" width="0.50" height="9.60" fill="#0c5a8e"/><rect x="359.64" y="490.00" width="1.40" height="9.60" fill="#0b4f80"/><rect x="364.35" y="490.00" width="1.40" height="9.60" fill="#1280b8"/><rect x="366.97" y="490.00" width="0.70" height="9.60" fill="#1280b8"/><rect x="368.59" y="490.00" width="1.80" height="9.60" fill="#0c5a8e"/><rect x="372.49" y="490.00" width="0.70" height="9.60" fill="#1280b8"/><rect x="380.15" y="490.00" width="0.90" height="9.60" fill="#1590c4"/><rect x="383.36" y="490.00" width="0.90" height="9.60" fill="#3cc0ea"/><rect x="384.54" y="490.00" width="1.10" height="9.60" fill="#1590c4"/><rect x="390.55" y="490.00" width="0.50" height="9.60" fill="#0e72ae"/><rect x="394.61" y="490.00" width="1.10" height="9.60" fill="#3cc0ea"/><rect x="400.51" y="490.00" width="0.90" height="9.60" fill="#1590c4"/><rect x="402.64" y="490.00" width="1.10" height="9.60" fill="#1590c4"/><rect x="405.31" y="490.00" width="1.40" height="9.60" fill="#0b4f80"/><rect x="409.27" y="490.00" width="1.10" height="9.60" fill="#0e72ae"/><rect x="412.19" y="490.00" width="0.70" height="9.60" fill="#3cc0ea"/><rect x="413.72" y="490.00" width="0.50" height="9.60" fill="#0f6aa4"/><rect x="415.05" y="490.00" width="0.90" height="9.60" fill="#1590c4"/><rect x="421.39" y="490.00" width="0.50" height="9.60" fill="#1590c4"/><rect x="427.31" y="490.00" width="1.80" height="9.60" fill="#1280b8"/><rect x="429.34" y="490.00" width="0.50" height="9.60" fill="#1280b8"/><rect x="430.57" y="490.00" width="1.10" height="9.60" fill="#0b4f80"/><rect x="433.08" y="490.00" width="1.40" height="9.60" fill="#3cc0ea"/><rect x="436.30" y="490.00" width="0.90" height="9.60" fill="#1280b8"/><rect x="437.76" y="490.00" width="0.90" height="9.60" fill="#0e72ae"/><rect x="450.37" y="490.00" width="1.10" height="9.60" fill="#0f6aa4"/><rect x="453.90" y="490.00" width="1.80" height="9.60" fill="#0b4f80"/><rect x="456.85" y="490.00" width="0.90" height="9.60" fill="#1280b8"/><rect x="458.87" y="490.00" width="0.70" height="9.60" fill="#0c5a8e"/><rect x="464.06" y="490.00" width="0.90" height="9.60" fill="#1590c4"/><rect x="477.96" y="490.00" width="1.80" height="9.60" fill="#1590c4"/><rect x="480.16" y="490.00" width="0.50" height="9.60" fill="#3cc0ea"/><rect x="483.64" y="490.00" width="1.10" height="9.60" fill="#1280b8"/><rect x="485.04" y="490.00" width="0.90" height="9.60" fill="#0c5a8e"/><rect x="487.03" y="490.00" width="0.90" height="9.60" fill="#0b4f80"/><rect x="488.64" y="490.00" width="0.90" height="9.60" fill="#0e72ae"/><rect x="490.22" y="490.00" width="1.40" height="9.60" fill="#0e72ae"/><rect x="492.19" y="490.00" width="1.40" height="9.60" fill="#1590c4"/><rect x="497.81" y="490.00" width="1.80" height="9.60" fill="#3cc0ea"/>
<text x="28.3" y="507.8" font-size="7.8" text-anchor="start" textLength="88" lengthAdjust="spacingAndGlyphs"><tspan fill="#da513b">154,873,540</tspan><tspan fill="#333">/</tspan><tspan fill="#f0ba58">155,373,241</tspan></text>
<text x="125.4" y="507.8" font-size="7.8" text-anchor="start" textLength="88.4" lengthAdjust="spacingAndGlyphs"><tspan fill="#3aa0d2">155,467,470</tspan><tspan fill="#333">/</tspan><tspan fill="#da513b">154,873,540</tspan></text>
<text x="423.8" y="507.6" font-size="7.8" fill="#3aa0d2" text-anchor="middle" font-weight="normal" font-style="normal" textLength="43.2" lengthAdjust="spacingAndGlyphs" stroke="#3aa0d2" stroke-width="0.08">155,467,470</text>
<text x="482.0" y="507.6" font-size="7.8" fill="#f0ba58" text-anchor="middle" font-weight="normal" font-style="normal" textLength="43.2" lengthAdjust="spacingAndGlyphs" stroke="#f0ba58" stroke-width="0.08">155,373,241</text>
<text transform="translate(16.2,454.6) rotate(-90)" x="0" y="0" font-size="8.9" fill="#333" font-weight="bold" text-anchor="middle" textLength="26.2" lengthAdjust="spacingAndGlyphs">Sample 4</text>
<path d="M30.599999999999998,409.2 Q25.9,409.2 25.9,413.2 L25.9,452.2 Q25.9,454.7 21.7,454.7 Q25.9,454.7 25.9,457.2 L25.9,496.0 Q25.9,500.0 30.599999999999998,500.0" fill="none" stroke="#6a6a6a" stroke-width="1.1"/>
<text x="30.3" y="417.0" font-size="7.9" fill="#222" text-anchor="start" font-weight="normal" font-style="normal" textLength="30.5" lengthAdjust="spacingAndGlyphs" stroke="#222" stroke-width="0.08">WT allele</text>
<text x="30.2" y="444.9" font-size="7.9" fill="#222" text-anchor="start" font-weight="normal" font-style="normal" textLength="29.8" lengthAdjust="spacingAndGlyphs" stroke="#222" stroke-width="0.08">Ref allele</text>
<text x="30.0" y="498.0" font-size="7.9" fill="#222" text-anchor="start" font-weight="normal" font-style="normal" textLength="34.6" lengthAdjust="spacingAndGlyphs" stroke="#222" stroke-width="0.08">MUT allele</text>
<path d="M0.5,515 L0.5,0.45 L519.4,0.45 L519.4,514.3 L0,514.3" fill="none" stroke="#7a7a7a" stroke-width="1"/>
</svg></body></html>
